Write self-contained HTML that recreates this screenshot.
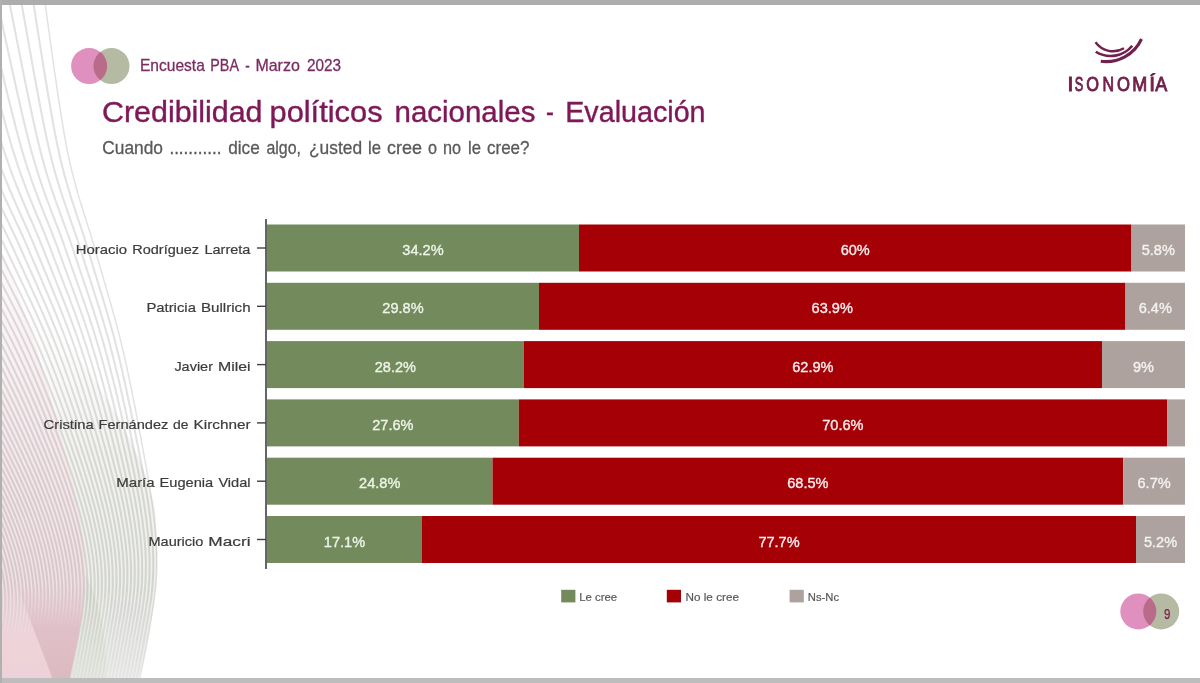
<!DOCTYPE html>
<html><head><meta charset="utf-8"><style>
html,body{margin:0;padding:0;background:#fff;}
body{width:1200px;height:683px;position:relative;overflow:hidden;font-family:"Liberation Sans",sans-serif;}
</style></head><body>
<svg width="1200" height="683" viewBox="0 0 1200 683" style="position:absolute;left:0;top:0;will-change:transform">
<clipPath id="pc"><path d="M2,250  C7.3,265.0 24.0,308.3 34.0,340.0 C44.0,371.7 54.3,410.0 62.0,440.0 C69.7,470.0 76.2,496.7 80.0,520.0 C83.8,543.3 85.3,560.0 85.0,580.0 C84.7,600.0 80.7,622.8 78.0,640.0 C75.3,657.2 70.5,675.8 69.0,683.0 L2,683 Z"/></clipPath><clipPath id="rc"><path d="M2,0 L45,0 L44.0,-10.0 L44.7,-5.5 L45.4,-0.2 L46.3,5.9 L47.2,12.7 L48.2,20.2 L49.3,28.1 L50.5,36.6 L51.7,45.4 L52.9,54.5 L54.2,63.8 L55.6,73.2 L57.0,82.6 L58.3,92.1 L59.8,101.4 L61.2,110.5 L62.6,119.3 L64.0,127.7 L65.3,135.7 L66.7,143.2 L68.0,150.0 L69.3,156.4 L70.6,162.5 L72.0,168.3 L73.4,174.0 L74.8,179.4 L76.2,184.6 L77.6,189.7 L79.0,194.7 L80.4,199.5 L81.9,204.2 L83.3,208.8 L84.8,213.4 L86.2,217.9 L87.6,222.4 L89.0,226.9 L90.5,231.4 L91.9,236.0 L93.3,240.6 L94.6,245.2 L96.0,250.0 L97.4,254.8 L98.7,259.6 L100.1,264.3 L101.4,269.0 L102.8,273.6 L104.1,278.3 L105.5,282.9 L106.8,287.5 L108.2,292.1 L109.5,296.7 L110.8,301.3 L112.1,305.8 L113.4,310.4 L114.7,315.0 L116.0,319.6 L117.2,324.3 L118.4,328.9 L119.7,333.6 L120.8,338.3 L122.0,343.0 L123.1,347.8 L124.3,352.6 L125.4,357.5 L126.5,362.4 L127.6,367.4 L128.7,372.3 L129.7,377.3 L130.8,382.3 L131.8,387.3 L132.8,392.3 L133.8,397.3 L134.8,402.2 L135.8,407.1 L136.7,412.0 L137.6,416.9 L138.5,421.6 L139.4,426.3 L140.3,431.0 L141.2,435.5 L142.0,440.0 L142.8,444.4 L143.6,448.8 L144.4,453.1 L145.2,457.4 L146.0,461.7 L146.8,465.9 L147.5,470.1 L148.2,474.2 L148.9,478.3 L149.6,482.3 L150.3,486.3 L150.9,490.3 L151.5,494.2 L152.1,498.0 L152.7,501.8 L153.2,505.6 L153.7,509.2 L154.2,512.9 L154.6,516.5 L155.0,520.0 L155.4,523.5 L155.7,526.8 L156.0,530.1 L156.3,533.3 L156.5,536.4 L156.8,539.5 L157.0,542.5 L157.1,545.4 L157.3,548.4 L157.4,551.2 L157.5,554.1 L157.5,557.0 L157.6,559.8 L157.6,562.6 L157.5,565.5 L157.5,568.3 L157.4,571.2 L157.3,574.1 L157.2,577.0 L157.0,580.0 L156.8,583.0 L156.6,586.0 L156.3,589.1 L155.9,592.1 L155.5,595.2 L155.1,598.2 L154.7,601.3 L154.2,604.3 L153.8,607.4 L153.2,610.4 L152.7,613.5 L152.2,616.5 L151.7,619.5 L151.1,622.5 L150.6,625.5 L150.0,628.4 L149.5,631.4 L149.0,634.3 L148.5,637.2 L148.0,640.0 L147.5,642.9 L147.0,645.8 L146.5,648.8 L145.9,651.9 L145.3,655.0 L144.8,658.1 L144.2,661.2 L143.6,664.2 L143.0,667.3 L142.4,670.2 L141.9,673.1 L141.3,676.0 L140.8,678.6 L140.3,681.2 L139.8,683.6 L139.4,685.9 L139.0,688.0 L138.6,689.9 L138.3,691.6 L138.0,693.0 L2,683 Z"/></clipPath><path d="M2,260 C60,330 150,440 156,520 C160,580 152,630 139,683 L2,683 Z" fill="url(#gg)"/><path d="M85,575 C100,600 108,640 106,683 L69,683 C75,650 85,610 85,575 Z" fill="#e6e9e1"/><path d="M110,600 C130,600 150,600 150,630 L139,683 L106,683 C108,650 110,620 110,600 Z" fill="#ededec"/><defs><linearGradient id="gg" gradientUnits="userSpaceOnUse" x1="0" y1="300" x2="0" y2="683"><stop offset="0" stop-color="#f6f7f4" stop-opacity="0"/><stop offset="0.4" stop-color="#f2f3ef"/><stop offset="1" stop-color="#eceee8"/></linearGradient><linearGradient id="plg" gradientUnits="userSpaceOnUse" x1="0" y1="200" x2="0" y2="683"><stop offset="0" stop-color="#f0e4e7"/><stop offset="0.5" stop-color="#e9d5da"/><stop offset="1" stop-color="#e2c7ce"/></linearGradient></defs><defs><linearGradient id="pg" x1="0" y1="0" x2="0" y2="1"><stop offset="0" stop-color="#fdfafb"/><stop offset="0.45" stop-color="#f5e9ec"/><stop offset="1" stop-color="#f0dde2"/></linearGradient><linearGradient id="wg" x1="0" y1="0" x2="0" y2="1"><stop offset="0" stop-color="#e3c6cd" stop-opacity="0"/><stop offset="0.45" stop-color="#e0c0c8" stop-opacity="1"/><stop offset="1" stop-color="#dcb9c1"/></linearGradient><linearGradient id="lg" x1="0" y1="0" x2="0" y2="1"><stop offset="0" stop-color="#efd7dd" stop-opacity="0"/><stop offset="0.6" stop-color="#eed3d9" stop-opacity="1"/><stop offset="1" stop-color="#edd1d8"/></linearGradient></defs><path d="M2,250  C7.3,265.0 24.0,308.3 34.0,340.0 C44.0,371.7 54.3,410.0 62.0,440.0 C69.7,470.0 76.2,496.7 80.0,520.0 C83.8,543.3 85.3,560.0 85.0,580.0 C84.7,600.0 80.7,622.8 78.0,640.0 C75.3,657.2 70.5,675.8 69.0,683.0 L2,683 Z" fill="url(#pg)"/><defs><linearGradient id="fm" gradientUnits="userSpaceOnUse" x1="0" y1="590" x2="0" y2="683"><stop offset="0" stop-color="#fff"/><stop offset="1" stop-color="#333"/></linearGradient><mask id="lm" maskUnits="userSpaceOnUse" x="0" y="0" width="300" height="683"><rect x="0" y="0" width="300" height="683" fill="url(#fm)"/></mask></defs><g mask="url(#lm)"><g clip-path="url(#rc)" fill="none" stroke="#000" stroke-opacity="0.115" stroke-width="2.1"><path d="M43.5,-10.0 C43.7,-8.7 44.3,-4.7 44.7,-2.0 C45.0,0.7 45.4,3.3 45.8,6.0 C46.1,8.7 46.5,11.3 46.9,14.0 C47.2,16.7 47.6,19.3 48.0,22.0 C48.3,24.7 48.7,27.3 49.1,30.0 C49.4,32.7 49.8,35.3 50.2,38.0 C50.5,40.7 50.9,43.3 51.3,46.0 C51.6,48.7 52.0,51.3 52.4,54.0 C52.8,56.7 53.1,59.3 53.5,62.0 C53.9,64.7 54.3,67.3 54.6,70.0 C55.0,72.7 55.4,75.3 55.8,78.0 C56.2,80.7 56.6,83.3 57.0,86.0 C57.3,88.7 57.7,91.3 58.1,94.0 C58.5,96.7 58.9,99.3 59.3,102.0 C59.8,104.7 60.2,107.3 60.6,110.0 C61.0,112.7 61.4,115.3 61.9,118.0 C62.3,120.7 62.7,123.3 63.2,126.0 C63.6,128.7 64.1,131.3 64.5,134.0 C65.0,136.7 65.5,139.3 66.0,142.0 C66.5,144.7 67.0,147.3 67.5,150.0 C68.0,152.7 68.6,155.3 69.2,158.0 C69.7,160.7 70.3,163.3 71.0,166.0 C71.6,168.7 72.2,171.3 72.9,174.0 C73.6,176.7 74.3,179.3 75.0,182.0 C75.7,184.7 76.4,187.3 77.2,190.0 C77.9,192.7 78.7,195.3 79.5,198.0 C80.3,200.7 81.1,203.3 81.9,206.0 C82.8,208.7 83.6,211.3 84.4,214.0 C85.3,216.7 86.1,219.3 87.0,222.0 C87.8,224.7 88.7,227.3 89.5,230.0 C90.4,232.7 91.2,235.3 92.0,238.0 C92.8,240.7 93.6,243.3 94.4,246.0 C95.1,248.7 95.9,251.3 96.6,254.0 C97.4,256.7 98.1,259.3 98.9,262.0 C99.7,264.7 100.4,267.3 101.2,270.0 C102.0,272.7 102.8,275.3 103.6,278.0 C104.3,280.7 105.1,283.3 105.9,286.0 C106.7,288.7 107.4,291.3 108.2,294.0 C109.0,296.7 109.8,299.3 110.5,302.0 C111.3,304.7 112.1,307.3 112.8,310.0 C113.5,312.7 114.3,315.3 115.0,318.0 C115.7,320.7 116.5,323.3 117.2,326.0 C117.9,328.7 118.6,331.3 119.3,334.0 C119.9,336.7 120.6,339.3 121.3,342.0 C121.9,344.7 122.5,347.3 123.2,350.0 C123.8,352.7 124.4,355.3 125.0,358.0 C125.6,360.7 126.2,363.3 126.8,366.0 C127.4,368.7 127.9,371.3 128.5,374.0 C129.1,376.7 129.6,379.3 130.2,382.0 C130.8,384.7 131.3,387.3 131.8,390.0 C132.4,392.7 132.9,395.3 133.5,398.0 C134.0,400.7 134.5,403.3 135.0,406.0 C135.6,408.7 136.1,411.3 136.6,414.0 C137.1,416.7 137.6,419.3 138.1,422.0 C138.6,424.7 139.1,427.3 139.6,430.0 C140.1,432.7 140.6,435.3 141.1,438.0 C141.6,440.7 142.1,443.3 142.6,446.0 C143.1,448.7 143.6,451.3 144.1,454.0 C144.6,456.7 145.1,459.3 145.6,462.0 C146.0,464.7 146.5,467.3 147.0,470.0 C147.5,472.7 147.9,475.3 148.4,478.0 C148.8,480.7 149.3,483.3 149.7,486.0 C150.2,488.7 150.6,491.3 151.0,494.0 C151.4,496.7 151.8,499.3 152.2,502.0 C152.6,504.7 153.0,507.3 153.3,510.0 C153.7,512.7 154.0,515.3 154.3,518.0 C154.6,520.7 154.9,523.3 155.1,526.0 C155.4,528.7 155.6,531.3 155.8,534.0 C156.1,536.7 156.3,539.3 156.4,542.0 C156.6,544.7 156.7,547.3 156.8,550.0 C156.9,552.7 157.0,555.3 157.0,558.0 C157.1,560.7 157.1,563.3 157.0,566.0 C157.0,568.7 156.9,571.3 156.8,574.0 C156.7,576.7 156.6,579.3 156.4,582.0 C156.2,584.7 155.9,587.3 155.7,590.0 C155.4,592.7 155.0,595.3 154.7,598.0 C154.3,600.7 153.9,603.3 153.5,606.0 C153.1,608.7 152.6,611.3 152.1,614.0 C151.7,616.7 151.2,619.3 150.7,622.0 C150.2,624.7 149.7,627.3 149.3,630.0 C148.8,632.7 148.3,635.3 147.8,638.0 C147.4,640.7 146.9,643.3 146.5,646.0 C146.0,648.7 145.5,651.3 145.0,654.0 C144.5,656.7 144.0,659.3 143.5,662.0 C143.0,664.7 142.5,667.3 142.0,670.0 C141.5,672.7 140.9,675.3 140.4,678.0 C139.9,680.7 139.1,684.7 138.9,686.0"/><path d="M31.3,-10.0 C31.5,-8.7 32.2,-4.7 32.6,-2.0 C33.0,0.7 33.5,3.3 33.9,6.0 C34.3,8.7 34.7,11.3 35.2,14.0 C35.6,16.7 36.0,19.3 36.4,22.0 C36.8,24.7 37.3,27.3 37.7,30.0 C38.1,32.7 38.5,35.3 38.9,38.0 C39.4,40.7 39.8,43.3 40.2,46.0 C40.6,48.7 41.0,51.3 41.5,54.0 C41.9,56.7 42.3,59.3 42.7,62.0 C43.2,64.7 43.6,67.3 44.0,70.0 C44.5,72.7 44.9,75.3 45.3,78.0 C45.8,80.7 46.2,83.3 46.7,86.0 C47.1,88.7 47.5,91.3 48.0,94.0 C48.4,96.7 48.9,99.3 49.4,102.0 C49.8,104.7 50.3,107.3 50.7,110.0 C51.2,112.7 51.7,115.3 52.2,118.0 C52.6,120.7 53.1,123.3 53.6,126.0 C54.1,128.7 54.6,131.3 55.1,134.0 C55.7,136.7 56.2,139.3 56.7,142.0 C57.3,144.7 57.8,147.3 58.4,150.0 C59.0,152.7 59.6,155.3 60.2,158.0 C60.8,160.7 61.5,163.3 62.1,166.0 C62.8,168.7 63.5,171.3 64.2,174.0 C64.9,176.7 65.7,179.3 66.4,182.0 C67.2,184.7 68.0,187.3 68.8,190.0 C69.6,192.7 70.4,195.3 71.2,198.0 C72.1,200.7 72.9,203.3 73.8,206.0 C74.7,208.7 75.6,211.3 76.4,214.0 C77.3,216.7 78.2,219.3 79.1,222.0 C80.0,224.7 80.9,227.3 81.8,230.0 C82.7,232.7 83.5,235.3 84.4,238.0 C85.2,240.7 86.1,243.3 86.9,246.0 C87.7,248.7 88.5,251.3 89.3,254.0 C90.1,256.7 90.9,259.3 91.7,262.0 C92.5,264.7 93.3,267.3 94.1,270.0 C94.9,272.7 95.8,275.3 96.6,278.0 C97.4,280.7 98.2,283.3 99.0,286.0 C99.8,288.7 100.7,291.3 101.5,294.0 C102.3,296.7 103.1,299.3 103.9,302.0 C104.7,304.7 105.5,307.3 106.3,310.0 C107.1,312.7 107.9,315.3 108.6,318.0 C109.4,320.7 110.2,323.3 110.9,326.0 C111.6,328.7 112.4,331.3 113.1,334.0 C113.8,336.7 114.5,339.3 115.2,342.0 C115.9,344.7 116.6,347.3 117.2,350.0 C117.9,352.7 118.5,355.3 119.2,358.0 C119.8,360.7 120.4,363.3 121.1,366.0 C121.7,368.7 122.3,371.3 122.9,374.0 C123.5,376.7 124.1,379.3 124.7,382.0 C125.3,384.7 125.8,387.3 126.4,390.0 C127.0,392.7 127.6,395.3 128.1,398.0 C128.7,400.7 129.3,403.3 129.8,406.0 C130.4,408.7 130.9,411.3 131.5,414.0 C132.0,416.7 132.5,419.3 133.1,422.0 C133.6,424.7 134.2,427.3 134.7,430.0 C135.2,432.7 135.7,435.3 136.3,438.0 C136.8,440.7 137.3,443.3 137.9,446.0 C138.4,448.7 138.9,451.3 139.4,454.0 C139.9,456.7 140.5,459.3 141.0,462.0 C141.5,464.7 142.0,467.3 142.5,470.0 C143.0,472.7 143.5,475.3 144.0,478.0 C144.4,480.7 144.9,483.3 145.4,486.0 C145.8,488.7 146.3,491.3 146.7,494.0 C147.2,496.7 147.6,499.3 148.0,502.0 C148.4,504.7 148.8,507.3 149.2,510.0 C149.5,512.7 149.9,515.3 150.2,518.0 C150.5,520.7 150.8,523.3 151.1,526.0 C151.4,528.7 151.7,531.3 151.9,534.0 C152.1,536.7 152.4,539.3 152.5,542.0 C152.7,544.7 152.9,547.3 153.0,550.0 C153.1,552.7 153.2,555.3 153.3,558.0 C153.3,560.7 153.3,563.3 153.3,566.0 C153.3,568.7 153.2,571.3 153.1,574.0 C153.0,576.7 152.9,579.3 152.7,582.0 C152.6,584.7 152.3,587.3 152.1,590.0 C151.8,592.7 151.5,595.3 151.1,598.0 C150.8,600.7 150.4,603.3 149.9,606.0 C149.5,608.7 149.1,611.3 148.6,614.0 C148.2,616.7 147.7,619.3 147.2,622.0 C146.7,624.7 146.2,627.3 145.8,630.0 C145.3,632.7 144.8,635.3 144.3,638.0 C143.9,640.7 143.4,643.3 143.0,646.0 C142.5,648.7 142.0,651.3 141.5,654.0 C141.0,656.7 140.5,659.3 140.0,662.0 C139.5,664.7 139.0,667.3 138.5,670.0 C138.0,672.7 137.4,675.3 136.9,678.0 C136.4,680.7 135.6,684.7 135.4,686.0"/><path d="M19.1,-10.0 C19.3,-8.7 20.1,-4.7 20.6,-2.0 C21.1,0.7 21.5,3.3 22.0,6.0 C22.5,8.7 23.0,11.3 23.4,14.0 C23.9,16.7 24.4,19.3 24.9,22.0 C25.3,24.7 25.8,27.3 26.3,30.0 C26.8,32.7 27.2,35.3 27.7,38.0 C28.2,40.7 28.7,43.3 29.1,46.0 C29.6,48.7 30.1,51.3 30.6,54.0 C31.0,56.7 31.5,59.3 32.0,62.0 C32.5,64.7 33.0,67.3 33.4,70.0 C33.9,72.7 34.4,75.3 34.9,78.0 C35.4,80.7 35.9,83.3 36.4,86.0 C36.9,88.7 37.4,91.3 37.9,94.0 C38.4,96.7 38.9,99.3 39.4,102.0 C39.9,104.7 40.4,107.3 40.9,110.0 C41.4,112.7 41.9,115.3 42.5,118.0 C43.0,120.7 43.5,123.3 44.1,126.0 C44.6,128.7 45.2,131.3 45.7,134.0 C46.3,136.7 46.9,139.3 47.5,142.0 C48.1,144.7 48.7,147.3 49.3,150.0 C49.9,152.7 50.6,155.3 51.2,158.0 C51.9,160.7 52.6,163.3 53.3,166.0 C54.0,168.7 54.8,171.3 55.5,174.0 C56.3,176.7 57.1,179.3 57.9,182.0 C58.7,184.7 59.5,187.3 60.3,190.0 C61.2,192.7 62.1,195.3 63.0,198.0 C63.8,200.7 64.7,203.3 65.7,206.0 C66.6,208.7 67.5,211.3 68.4,214.0 C69.4,216.7 70.3,219.3 71.2,222.0 C72.2,224.7 73.1,227.3 74.0,230.0 C75.0,232.7 75.9,235.3 76.8,238.0 C77.7,240.7 78.5,243.3 79.4,246.0 C80.3,248.7 81.1,251.3 81.9,254.0 C82.8,256.7 83.6,259.3 84.4,262.0 C85.3,264.7 86.2,267.3 87.0,270.0 C87.9,272.7 88.7,275.3 89.6,278.0 C90.4,280.7 91.3,283.3 92.2,286.0 C93.0,288.7 93.9,291.3 94.7,294.0 C95.6,296.7 96.4,299.3 97.3,302.0 C98.1,304.7 99.0,307.3 99.8,310.0 C100.6,312.7 101.4,315.3 102.2,318.0 C103.0,320.7 103.8,323.3 104.6,326.0 C105.4,328.7 106.2,331.3 106.9,334.0 C107.7,336.7 108.4,339.3 109.2,342.0 C109.9,344.7 110.6,347.3 111.3,350.0 C112.0,352.7 112.7,355.3 113.3,358.0 C114.0,360.7 114.7,363.3 115.3,366.0 C116.0,368.7 116.6,371.3 117.3,374.0 C117.9,376.7 118.5,379.3 119.2,382.0 C119.8,384.7 120.4,387.3 121.0,390.0 C121.6,392.7 122.2,395.3 122.8,398.0 C123.4,400.7 124.0,403.3 124.6,406.0 C125.2,408.7 125.8,411.3 126.3,414.0 C126.9,416.7 127.5,419.3 128.0,422.0 C128.6,424.7 129.2,427.3 129.7,430.0 C130.3,432.7 130.9,435.3 131.4,438.0 C132.0,440.7 132.5,443.3 133.1,446.0 C133.6,448.7 134.2,451.3 134.7,454.0 C135.3,456.7 135.8,459.3 136.4,462.0 C136.9,464.7 137.4,467.3 138.0,470.0 C138.5,472.7 139.0,475.3 139.5,478.0 C140.0,480.7 140.5,483.3 141.0,486.0 C141.5,488.7 142.0,491.3 142.5,494.0 C142.9,496.7 143.4,499.3 143.8,502.0 C144.2,504.7 144.6,507.3 145.0,510.0 C145.4,512.7 145.8,515.3 146.1,518.0 C146.5,520.7 146.8,523.3 147.1,526.0 C147.4,528.7 147.7,531.3 148.0,534.0 C148.2,536.7 148.5,539.3 148.7,542.0 C148.9,544.7 149.0,547.3 149.2,550.0 C149.3,552.7 149.4,555.3 149.5,558.0 C149.6,560.7 149.6,563.3 149.6,566.0 C149.6,568.7 149.5,571.3 149.5,574.0 C149.4,576.7 149.3,579.3 149.1,582.0 C148.9,584.7 148.7,587.3 148.5,590.0 C148.2,592.7 147.9,595.3 147.6,598.0 C147.2,600.7 146.8,603.3 146.4,606.0 C146.0,608.7 145.6,611.3 145.1,614.0 C144.7,616.7 144.2,619.3 143.7,622.0 C143.2,624.7 142.7,627.3 142.3,630.0 C141.8,632.7 141.3,635.3 140.8,638.0 C140.4,640.7 139.9,643.3 139.5,646.0 C139.0,648.7 138.5,651.3 138.0,654.0 C137.5,656.7 137.0,659.3 136.5,662.0 C136.0,664.7 135.5,667.3 135.0,670.0 C134.5,672.7 133.9,675.3 133.4,678.0 C132.9,680.7 132.1,684.7 131.9,686.0"/><path d="M6.9,-10.0 C7.2,-8.7 8.0,-4.7 8.5,-2.0 C9.1,0.7 9.6,3.3 10.1,6.0 C10.7,8.7 11.2,11.3 11.7,14.0 C12.3,16.7 12.8,19.3 13.3,22.0 C13.8,24.7 14.4,27.3 14.9,30.0 C15.4,32.7 15.9,35.3 16.5,38.0 C17.0,40.7 17.5,43.3 18.1,46.0 C18.6,48.7 19.1,51.3 19.6,54.0 C20.2,56.7 20.7,59.3 21.2,62.0 C21.8,64.7 22.3,67.3 22.8,70.0 C23.4,72.7 23.9,75.3 24.4,78.0 C25.0,80.7 25.5,83.3 26.1,86.0 C26.6,88.7 27.2,91.3 27.7,94.0 C28.3,96.7 28.8,99.3 29.4,102.0 C29.9,104.7 30.5,107.3 31.1,110.0 C31.6,112.7 32.2,115.3 32.8,118.0 C33.4,120.7 33.9,123.3 34.5,126.0 C35.1,128.7 35.7,131.3 36.3,134.0 C37.0,136.7 37.6,139.3 38.2,142.0 C38.8,144.7 39.5,147.3 40.2,150.0 C40.8,152.7 41.5,155.3 42.3,158.0 C43.0,160.7 43.7,163.3 44.5,166.0 C45.2,168.7 46.0,171.3 46.8,174.0 C47.6,176.7 48.5,179.3 49.3,182.0 C50.2,184.7 51.0,187.3 51.9,190.0 C52.8,192.7 53.8,195.3 54.7,198.0 C55.6,200.7 56.6,203.3 57.5,206.0 C58.5,208.7 59.5,211.3 60.4,214.0 C61.4,216.7 62.4,219.3 63.4,222.0 C64.4,224.7 65.3,227.3 66.3,230.0 C67.3,232.7 68.2,235.3 69.2,238.0 C70.1,240.7 71.0,243.3 71.9,246.0 C72.8,248.7 73.7,251.3 74.6,254.0 C75.4,256.7 76.3,259.3 77.2,262.0 C78.1,264.7 79.0,267.3 79.9,270.0 C80.8,272.7 81.7,275.3 82.6,278.0 C83.5,280.7 84.4,283.3 85.3,286.0 C86.2,288.7 87.1,291.3 88.0,294.0 C88.9,296.7 89.8,299.3 90.7,302.0 C91.5,304.7 92.4,307.3 93.3,310.0 C94.2,312.7 95.0,315.3 95.9,318.0 C96.7,320.7 97.5,323.3 98.4,326.0 C99.2,328.7 100.0,331.3 100.8,334.0 C101.6,336.7 102.3,339.3 103.1,342.0 C103.9,344.7 104.6,347.3 105.3,350.0 C106.1,352.7 106.8,355.3 107.5,358.0 C108.2,360.7 108.9,363.3 109.6,366.0 C110.3,368.7 111.0,371.3 111.6,374.0 C112.3,376.7 113.0,379.3 113.6,382.0 C114.3,384.7 114.9,387.3 115.6,390.0 C116.2,392.7 116.9,395.3 117.5,398.0 C118.1,400.7 118.7,403.3 119.4,406.0 C120.0,408.7 120.6,411.3 121.2,414.0 C121.8,416.7 122.4,419.3 123.0,422.0 C123.6,424.7 124.2,427.3 124.8,430.0 C125.4,432.7 126.0,435.3 126.6,438.0 C127.2,440.7 127.7,443.3 128.3,446.0 C128.9,448.7 129.5,451.3 130.1,454.0 C130.6,456.7 131.2,459.3 131.8,462.0 C132.3,464.7 132.9,467.3 133.5,470.0 C134.0,472.7 134.6,475.3 135.1,478.0 C135.6,480.7 136.2,483.3 136.7,486.0 C137.2,488.7 137.7,491.3 138.2,494.0 C138.7,496.7 139.1,499.3 139.6,502.0 C140.1,504.7 140.5,507.3 140.9,510.0 C141.3,512.7 141.7,515.3 142.1,518.0 C142.4,520.7 142.8,523.3 143.1,526.0 C143.4,528.7 143.7,531.3 144.0,534.0 C144.3,536.7 144.6,539.3 144.8,542.0 C145.0,544.7 145.2,547.3 145.4,550.0 C145.5,552.7 145.6,555.3 145.7,558.0 C145.8,560.7 145.9,563.3 145.9,566.0 C145.9,568.7 145.8,571.3 145.8,574.0 C145.7,576.7 145.6,579.3 145.5,582.0 C145.3,584.7 145.1,587.3 144.9,590.0 C144.6,592.7 144.3,595.3 144.0,598.0 C143.7,600.7 143.3,603.3 142.9,606.0 C142.5,608.7 142.1,611.3 141.6,614.0 C141.2,616.7 140.7,619.3 140.2,622.0 C139.7,624.7 139.2,627.3 138.8,630.0 C138.3,632.7 137.8,635.3 137.3,638.0 C136.9,640.7 136.4,643.3 136.0,646.0 C135.5,648.7 135.0,651.3 134.5,654.0 C134.0,656.7 133.5,659.3 133.0,662.0 C132.5,664.7 132.0,667.3 131.5,670.0 C131.0,672.7 130.4,675.3 129.9,678.0 C129.4,680.7 128.6,684.7 128.4,686.0"/><path d="M-5.3,-10.0 C-5.0,-8.7 -4.1,-4.7 -3.5,-2.0 C-2.9,0.7 -2.3,3.3 -1.7,6.0 C-1.1,8.7 -0.6,11.3 0.0,14.0 C0.6,16.7 1.2,19.3 1.8,22.0 C2.3,24.7 2.9,27.3 3.5,30.0 C4.1,32.7 4.7,35.3 5.2,38.0 C5.8,40.7 6.4,43.3 7.0,46.0 C7.6,48.7 8.1,51.3 8.7,54.0 C9.3,56.7 9.9,59.3 10.5,62.0 C11.1,64.7 11.6,67.3 12.2,70.0 C12.8,72.7 13.4,75.3 14.0,78.0 C14.6,80.7 15.2,83.3 15.8,86.0 C16.4,88.7 17.0,91.3 17.6,94.0 C18.2,96.7 18.8,99.3 19.4,102.0 C20.0,104.7 20.6,107.3 21.2,110.0 C21.8,112.7 22.5,115.3 23.1,118.0 C23.7,120.7 24.3,123.3 25.0,126.0 C25.6,128.7 26.3,131.3 26.9,134.0 C27.6,136.7 28.3,139.3 29.0,142.0 C29.6,144.7 30.3,147.3 31.1,150.0 C31.8,152.7 32.5,155.3 33.3,158.0 C34.1,160.7 34.9,163.3 35.7,166.0 C36.5,168.7 37.3,171.3 38.1,174.0 C39.0,176.7 39.9,179.3 40.8,182.0 C41.7,184.7 42.6,187.3 43.5,190.0 C44.5,192.7 45.4,195.3 46.4,198.0 C47.4,200.7 48.4,203.3 49.4,206.0 C50.4,208.7 51.4,211.3 52.4,214.0 C53.5,216.7 54.5,219.3 55.5,222.0 C56.5,224.7 57.6,227.3 58.6,230.0 C59.6,232.7 60.6,235.3 61.5,238.0 C62.5,240.7 63.5,243.3 64.4,246.0 C65.4,248.7 66.3,251.3 67.2,254.0 C68.1,256.7 69.1,259.3 70.0,262.0 C70.9,264.7 71.9,267.3 72.8,270.0 C73.7,272.7 74.7,275.3 75.6,278.0 C76.6,280.7 77.5,283.3 78.4,286.0 C79.4,288.7 80.3,291.3 81.3,294.0 C82.2,296.7 83.1,299.3 84.0,302.0 C85.0,304.7 85.9,307.3 86.8,310.0 C87.7,312.7 88.6,315.3 89.5,318.0 C90.3,320.7 91.2,323.3 92.1,326.0 C92.9,328.7 93.8,331.3 94.6,334.0 C95.4,336.7 96.2,339.3 97.0,342.0 C97.8,344.7 98.6,347.3 99.4,350.0 C100.2,352.7 100.9,355.3 101.7,358.0 C102.4,360.7 103.1,363.3 103.9,366.0 C104.6,368.7 105.3,371.3 106.0,374.0 C106.7,376.7 107.4,379.3 108.1,382.0 C108.8,384.7 109.5,387.3 110.2,390.0 C110.8,392.7 111.5,395.3 112.2,398.0 C112.8,400.7 113.5,403.3 114.1,406.0 C114.8,408.7 115.4,411.3 116.1,414.0 C116.7,416.7 117.3,419.3 118.0,422.0 C118.6,424.7 119.2,427.3 119.9,430.0 C120.5,432.7 121.1,435.3 121.7,438.0 C122.3,440.7 123.0,443.3 123.6,446.0 C124.2,448.7 124.8,451.3 125.4,454.0 C126.0,456.7 126.6,459.3 127.2,462.0 C127.8,464.7 128.4,467.3 128.9,470.0 C129.5,472.7 130.1,475.3 130.7,478.0 C131.2,480.7 131.8,483.3 132.3,486.0 C132.9,488.7 133.4,491.3 133.9,494.0 C134.4,496.7 134.9,499.3 135.4,502.0 C135.9,504.7 136.3,507.3 136.8,510.0 C137.2,512.7 137.6,515.3 138.0,518.0 C138.4,520.7 138.8,523.3 139.1,526.0 C139.5,528.7 139.8,531.3 140.1,534.0 C140.4,536.7 140.7,539.3 140.9,542.0 C141.1,544.7 141.4,547.3 141.5,550.0 C141.7,552.7 141.9,555.3 142.0,558.0 C142.1,560.7 142.1,563.3 142.1,566.0 C142.2,568.7 142.2,571.3 142.1,574.0 C142.1,576.7 142.0,579.3 141.9,582.0 C141.7,584.7 141.5,587.3 141.3,590.0 C141.1,592.7 140.8,595.3 140.4,598.0 C140.1,600.7 139.7,603.3 139.4,606.0 C139.0,608.7 138.5,611.3 138.1,614.0 C137.7,616.7 137.2,619.3 136.7,622.0 C136.2,624.7 135.7,627.3 135.3,630.0 C134.8,632.7 134.3,635.3 133.8,638.0 C133.4,640.7 132.9,643.3 132.5,646.0 C132.0,648.7 131.5,651.3 131.0,654.0 C130.5,656.7 130.0,659.3 129.5,662.0 C129.0,664.7 128.5,667.3 128.0,670.0 C127.5,672.7 126.9,675.3 126.4,678.0 C125.9,680.7 125.1,684.7 124.9,686.0"/><path d="M-17.5,-10.0 C-17.2,-8.7 -16.2,-4.7 -15.5,-2.0 C-14.9,0.7 -14.3,3.3 -13.6,6.0 C-13.0,8.7 -12.3,11.3 -11.7,14.0 C-11.1,16.7 -10.4,19.3 -9.8,22.0 C-9.2,24.7 -8.5,27.3 -7.9,30.0 C-7.3,32.7 -6.6,35.3 -6.0,38.0 C-5.4,40.7 -4.7,43.3 -4.1,46.0 C-3.5,48.7 -2.8,51.3 -2.2,54.0 C-1.6,56.7 -0.9,59.3 -0.3,62.0 C0.4,64.7 1.0,67.3 1.6,70.0 C2.3,72.7 2.9,75.3 3.6,78.0 C4.2,80.7 4.8,83.3 5.5,86.0 C6.1,88.7 6.8,91.3 7.4,94.0 C8.1,96.7 8.7,99.3 9.4,102.0 C10.0,104.7 10.7,107.3 11.4,110.0 C12.0,112.7 12.7,115.3 13.4,118.0 C14.1,120.7 14.8,123.3 15.4,126.0 C16.1,128.7 16.8,131.3 17.5,134.0 C18.2,136.7 19.0,139.3 19.7,142.0 C20.4,144.7 21.2,147.3 21.9,150.0 C22.7,152.7 23.5,155.3 24.3,158.0 C25.1,160.7 26.0,163.3 26.8,166.0 C27.7,168.7 28.6,171.3 29.5,174.0 C30.4,176.7 31.3,179.3 32.2,182.0 C33.2,184.7 34.1,187.3 35.1,190.0 C36.1,192.7 37.1,195.3 38.1,198.0 C39.2,200.7 40.2,203.3 41.2,206.0 C42.3,208.7 43.4,211.3 44.4,214.0 C45.5,216.7 46.6,219.3 47.6,222.0 C48.7,224.7 49.8,227.3 50.8,230.0 C51.9,232.7 52.9,235.3 53.9,238.0 C55.0,240.7 56.0,243.3 56.9,246.0 C57.9,248.7 58.9,251.3 59.8,254.0 C60.8,256.7 61.8,259.3 62.8,262.0 C63.7,264.7 64.7,267.3 65.7,270.0 C66.7,272.7 67.7,275.3 68.6,278.0 C69.6,280.7 70.6,283.3 71.6,286.0 C72.6,288.7 73.5,291.3 74.5,294.0 C75.5,296.7 76.5,299.3 77.4,302.0 C78.4,304.7 79.3,307.3 80.3,310.0 C81.2,312.7 82.2,315.3 83.1,318.0 C84.0,320.7 84.9,323.3 85.8,326.0 C86.7,328.7 87.6,331.3 88.4,334.0 C89.3,336.7 90.2,339.3 91.0,342.0 C91.8,344.7 92.6,347.3 93.4,350.0 C94.3,352.7 95.0,355.3 95.8,358.0 C96.6,360.7 97.4,363.3 98.1,366.0 C98.9,368.7 99.7,371.3 100.4,374.0 C101.1,376.7 101.9,379.3 102.6,382.0 C103.3,384.7 104.0,387.3 104.7,390.0 C105.4,392.7 106.2,395.3 106.8,398.0 C107.5,400.7 108.2,403.3 108.9,406.0 C109.6,408.7 110.3,411.3 110.9,414.0 C111.6,416.7 112.3,419.3 112.9,422.0 C113.6,424.7 114.3,427.3 114.9,430.0 C115.6,432.7 116.2,435.3 116.9,438.0 C117.5,440.7 118.2,443.3 118.8,446.0 C119.4,448.7 120.1,451.3 120.7,454.0 C121.3,456.7 122.0,459.3 122.6,462.0 C123.2,464.7 123.8,467.3 124.4,470.0 C125.0,472.7 125.6,475.3 126.2,478.0 C126.8,480.7 127.4,483.3 128.0,486.0 C128.5,488.7 129.1,491.3 129.6,494.0 C130.2,496.7 130.7,499.3 131.2,502.0 C131.7,504.7 132.2,507.3 132.6,510.0 C133.1,512.7 133.5,515.3 133.9,518.0 C134.4,520.7 134.7,523.3 135.1,526.0 C135.5,528.7 135.8,531.3 136.1,534.0 C136.5,536.7 136.8,539.3 137.0,542.0 C137.3,544.7 137.5,547.3 137.7,550.0 C137.9,552.7 138.1,555.3 138.2,558.0 C138.3,560.7 138.4,563.3 138.4,566.0 C138.5,568.7 138.5,571.3 138.4,574.0 C138.4,576.7 138.3,579.3 138.2,582.0 C138.1,584.7 137.9,587.3 137.7,590.0 C137.5,592.7 137.2,595.3 136.9,598.0 C136.6,600.7 136.2,603.3 135.8,606.0 C135.5,608.7 135.0,611.3 134.6,614.0 C134.2,616.7 133.7,619.3 133.2,622.0 C132.7,624.7 132.2,627.3 131.8,630.0 C131.3,632.7 130.8,635.3 130.3,638.0 C129.9,640.7 129.4,643.3 129.0,646.0 C128.5,648.7 128.0,651.3 127.5,654.0 C127.0,656.7 126.5,659.3 126.0,662.0 C125.5,664.7 125.0,667.3 124.5,670.0 C124.0,672.7 123.4,675.3 122.9,678.0 C122.4,680.7 121.6,684.7 121.4,686.0"/><path d="M-29.7,-10.0 C-29.4,-8.7 -28.3,-4.7 -27.6,-2.0 C-26.9,0.7 -26.2,3.3 -25.5,6.0 C-24.8,8.7 -24.1,11.3 -23.4,14.0 C-22.7,16.7 -22.0,19.3 -21.3,22.0 C-20.7,24.7 -20.0,27.3 -19.3,30.0 C-18.6,32.7 -17.9,35.3 -17.2,38.0 C-16.5,40.7 -15.8,43.3 -15.2,46.0 C-14.5,48.7 -13.8,51.3 -13.1,54.0 C-12.4,56.7 -11.7,59.3 -11.0,62.0 C-10.4,64.7 -9.7,67.3 -9.0,70.0 C-8.3,72.7 -7.6,75.3 -6.9,78.0 C-6.2,80.7 -5.5,83.3 -4.8,86.0 C-4.1,88.7 -3.4,91.3 -2.7,94.0 C-2.0,96.7 -1.3,99.3 -0.6,102.0 C0.1,104.7 0.8,107.3 1.5,110.0 C2.3,112.7 3.0,115.3 3.7,118.0 C4.4,120.7 5.2,123.3 5.9,126.0 C6.6,128.7 7.4,131.3 8.1,134.0 C8.9,136.7 9.7,139.3 10.4,142.0 C11.2,144.7 12.0,147.3 12.8,150.0 C13.7,152.7 14.5,155.3 15.4,158.0 C16.2,160.7 17.1,163.3 18.0,166.0 C18.9,168.7 19.8,171.3 20.8,174.0 C21.7,176.7 22.7,179.3 23.7,182.0 C24.7,184.7 25.7,187.3 26.7,190.0 C27.7,192.7 28.8,195.3 29.9,198.0 C30.9,200.7 32.0,203.3 33.1,206.0 C34.2,208.7 35.3,211.3 36.4,214.0 C37.5,216.7 38.7,219.3 39.8,222.0 C40.9,224.7 42.0,227.3 43.1,230.0 C44.2,232.7 45.3,235.3 46.3,238.0 C47.4,240.7 48.4,243.3 49.5,246.0 C50.5,248.7 51.5,251.3 52.5,254.0 C53.5,256.7 54.5,259.3 55.5,262.0 C56.5,264.7 57.6,267.3 58.6,270.0 C59.6,272.7 60.6,275.3 61.7,278.0 C62.7,280.7 63.7,283.3 64.7,286.0 C65.7,288.7 66.8,291.3 67.8,294.0 C68.8,296.7 69.8,299.3 70.8,302.0 C71.8,304.7 72.8,307.3 73.8,310.0 C74.8,312.7 75.7,315.3 76.7,318.0 C77.6,320.7 78.6,323.3 79.5,326.0 C80.5,328.7 81.4,331.3 82.3,334.0 C83.2,336.7 84.1,339.3 84.9,342.0 C85.8,344.7 86.7,347.3 87.5,350.0 C88.3,352.7 89.2,355.3 90.0,358.0 C90.8,360.7 91.6,363.3 92.4,366.0 C93.2,368.7 94.0,371.3 94.8,374.0 C95.5,376.7 96.3,379.3 97.1,382.0 C97.8,384.7 98.6,387.3 99.3,390.0 C100.1,392.7 100.8,395.3 101.5,398.0 C102.3,400.7 103.0,403.3 103.7,406.0 C104.4,408.7 105.1,411.3 105.8,414.0 C106.5,416.7 107.2,419.3 107.9,422.0 C108.6,424.7 109.3,427.3 110.0,430.0 C110.7,432.7 111.3,435.3 112.0,438.0 C112.7,440.7 113.4,443.3 114.0,446.0 C114.7,448.7 115.4,451.3 116.0,454.0 C116.7,456.7 117.4,459.3 118.0,462.0 C118.6,464.7 119.3,467.3 119.9,470.0 C120.6,472.7 121.2,475.3 121.8,478.0 C122.4,480.7 123.0,483.3 123.6,486.0 C124.2,488.7 124.8,491.3 125.3,494.0 C125.9,496.7 126.5,499.3 127.0,502.0 C127.5,504.7 128.0,507.3 128.5,510.0 C129.0,512.7 129.4,515.3 129.9,518.0 C130.3,520.7 130.7,523.3 131.1,526.0 C131.5,528.7 131.9,531.3 132.2,534.0 C132.5,536.7 132.9,539.3 133.1,542.0 C133.4,544.7 133.7,547.3 133.9,550.0 C134.1,552.7 134.3,555.3 134.4,558.0 C134.6,560.7 134.7,563.3 134.7,566.0 C134.8,568.7 134.8,571.3 134.8,574.0 C134.7,576.7 134.7,579.3 134.6,582.0 C134.5,584.7 134.3,587.3 134.1,590.0 C133.9,592.7 133.6,595.3 133.3,598.0 C133.0,600.7 132.7,603.3 132.3,606.0 C131.9,608.7 131.5,611.3 131.1,614.0 C130.7,616.7 130.2,619.3 129.7,622.0 C129.2,624.7 128.7,627.3 128.3,630.0 C127.8,632.7 127.3,635.3 126.8,638.0 C126.4,640.7 125.9,643.3 125.5,646.0 C125.0,648.7 124.5,651.3 124.0,654.0 C123.5,656.7 123.0,659.3 122.5,662.0 C122.0,664.7 121.5,667.3 121.0,670.0 C120.5,672.7 119.9,675.3 119.4,678.0 C118.9,680.7 118.1,684.7 117.9,686.0"/><path d="M-41.9,-10.0 C-41.6,-8.7 -40.4,-4.7 -39.6,-2.0 C-38.9,0.7 -38.1,3.3 -37.4,6.0 C-36.6,8.7 -35.9,11.3 -35.1,14.0 C-34.4,16.7 -33.6,19.3 -32.9,22.0 C-32.1,24.7 -31.4,27.3 -30.7,30.0 C-29.9,32.7 -29.2,35.3 -28.4,38.0 C-27.7,40.7 -27.0,43.3 -26.2,46.0 C-25.5,48.7 -24.8,51.3 -24.0,54.0 C-23.3,56.7 -22.5,59.3 -21.8,62.0 C-21.1,64.7 -20.3,67.3 -19.6,70.0 C-18.8,72.7 -18.1,75.3 -17.3,78.0 C-16.6,80.7 -15.9,83.3 -15.1,86.0 C-14.4,88.7 -13.6,91.3 -12.9,94.0 C-12.1,96.7 -11.3,99.3 -10.6,102.0 C-9.8,104.7 -9.1,107.3 -8.3,110.0 C-7.5,112.7 -6.8,115.3 -6.0,118.0 C-5.2,120.7 -4.4,123.3 -3.6,126.0 C-2.9,128.7 -2.1,131.3 -1.3,134.0 C-0.5,136.7 0.4,139.3 1.2,142.0 C2.0,144.7 2.9,147.3 3.7,150.0 C4.6,152.7 5.5,155.3 6.4,158.0 C7.3,160.7 8.2,163.3 9.2,166.0 C10.1,168.7 11.1,171.3 12.1,174.0 C13.1,176.7 14.1,179.3 15.1,182.0 C16.2,184.7 17.2,187.3 18.3,190.0 C19.4,192.7 20.5,195.3 21.6,198.0 C22.7,200.7 23.8,203.3 25.0,206.0 C26.1,208.7 27.3,211.3 28.4,214.0 C29.6,216.7 30.7,219.3 31.9,222.0 C33.0,224.7 34.2,227.3 35.3,230.0 C36.5,232.7 37.6,235.3 38.7,238.0 C39.8,240.7 40.9,243.3 42.0,246.0 C43.1,248.7 44.1,251.3 45.1,254.0 C46.2,256.7 47.2,259.3 48.3,262.0 C49.4,264.7 50.4,267.3 51.5,270.0 C52.5,272.7 53.6,275.3 54.7,278.0 C55.7,280.7 56.8,283.3 57.9,286.0 C58.9,288.7 60.0,291.3 61.0,294.0 C62.1,296.7 63.1,299.3 64.2,302.0 C65.2,304.7 66.2,307.3 67.3,310.0 C68.3,312.7 69.3,315.3 70.3,318.0 C71.3,320.7 72.3,323.3 73.2,326.0 C74.2,328.7 75.2,331.3 76.1,334.0 C77.1,336.7 78.0,339.3 78.9,342.0 C79.8,344.7 80.7,347.3 81.6,350.0 C82.4,352.7 83.3,355.3 84.2,358.0 C85.0,360.7 85.9,363.3 86.7,366.0 C87.5,368.7 88.3,371.3 89.1,374.0 C90.0,376.7 90.8,379.3 91.5,382.0 C92.3,384.7 93.1,387.3 93.9,390.0 C94.7,392.7 95.4,395.3 96.2,398.0 C97.0,400.7 97.7,403.3 98.5,406.0 C99.2,408.7 100.0,411.3 100.7,414.0 C101.4,416.7 102.2,419.3 102.9,422.0 C103.6,424.7 104.3,427.3 105.0,430.0 C105.7,432.7 106.5,435.3 107.2,438.0 C107.9,440.7 108.6,443.3 109.3,446.0 C110.0,448.7 110.7,451.3 111.4,454.0 C112.0,456.7 112.7,459.3 113.4,462.0 C114.1,464.7 114.8,467.3 115.4,470.0 C116.1,472.7 116.7,475.3 117.4,478.0 C118.0,480.7 118.6,483.3 119.3,486.0 C119.9,488.7 120.5,491.3 121.1,494.0 C121.7,496.7 122.2,499.3 122.8,502.0 C123.3,504.7 123.9,507.3 124.4,510.0 C124.9,512.7 125.4,515.3 125.8,518.0 C126.3,520.7 126.7,523.3 127.1,526.0 C127.5,528.7 127.9,531.3 128.3,534.0 C128.6,536.7 129.0,539.3 129.3,542.0 C129.6,544.7 129.8,547.3 130.1,550.0 C130.3,552.7 130.5,555.3 130.6,558.0 C130.8,560.7 130.9,563.3 131.0,566.0 C131.1,568.7 131.1,571.3 131.1,574.0 C131.1,576.7 131.1,579.3 131.0,582.0 C130.9,584.7 130.7,587.3 130.5,590.0 C130.3,592.7 130.1,595.3 129.8,598.0 C129.5,600.7 129.1,603.3 128.8,606.0 C128.4,608.7 128.0,611.3 127.6,614.0 C127.2,616.7 126.7,619.3 126.2,622.0 C125.7,624.7 125.2,627.3 124.8,630.0 C124.3,632.7 123.8,635.3 123.3,638.0 C122.9,640.7 122.4,643.3 122.0,646.0 C121.5,648.7 121.0,651.3 120.5,654.0 C120.0,656.7 119.5,659.3 119.0,662.0 C118.5,664.7 118.0,667.3 117.5,670.0 C117.0,672.7 116.4,675.3 115.9,678.0 C115.4,680.7 114.6,684.7 114.4,686.0"/><path d="M-54.2,-10.0 C-53.7,-8.7 -52.5,-4.7 -51.7,-2.0 C-50.9,0.7 -50.0,3.3 -49.2,6.0 C-48.4,8.7 -47.6,11.3 -46.8,14.0 C-46.0,16.7 -45.2,19.3 -44.4,22.0 C-43.6,24.7 -42.9,27.3 -42.1,30.0 C-41.3,32.7 -40.5,35.3 -39.7,38.0 C-38.9,40.7 -38.1,43.3 -37.3,46.0 C-36.5,48.7 -35.7,51.3 -34.9,54.0 C-34.1,56.7 -33.3,59.3 -32.6,62.0 C-31.8,64.7 -31.0,67.3 -30.2,70.0 C-29.4,72.7 -28.6,75.3 -27.8,78.0 C-27.0,80.7 -26.2,83.3 -25.4,86.0 C-24.6,88.7 -23.8,91.3 -23.0,94.0 C-22.2,96.7 -21.4,99.3 -20.6,102.0 C-19.8,104.7 -19.0,107.3 -18.1,110.0 C-17.3,112.7 -16.5,115.3 -15.7,118.0 C-14.9,120.7 -14.0,123.3 -13.2,126.0 C-12.4,128.7 -11.5,131.3 -10.7,134.0 C-9.8,136.7 -8.9,139.3 -8.1,142.0 C-7.2,144.7 -6.3,147.3 -5.4,150.0 C-4.5,152.7 -3.5,155.3 -2.6,158.0 C-1.6,160.7 -0.6,163.3 0.4,166.0 C1.4,168.7 2.4,171.3 3.4,174.0 C4.4,176.7 5.5,179.3 6.6,182.0 C7.7,184.7 8.8,187.3 9.9,190.0 C11.0,192.7 12.2,195.3 13.3,198.0 C14.5,200.7 15.7,203.3 16.8,206.0 C18.0,208.7 19.2,211.3 20.4,214.0 C21.6,216.7 22.8,219.3 24.0,222.0 C25.2,224.7 26.4,227.3 27.6,230.0 C28.8,232.7 30.0,235.3 31.1,238.0 C32.3,240.7 33.4,243.3 34.5,246.0 C35.6,248.7 36.7,251.3 37.8,254.0 C38.9,256.7 40.0,259.3 41.1,262.0 C42.2,264.7 43.3,267.3 44.4,270.0 C45.5,272.7 46.6,275.3 47.7,278.0 C48.8,280.7 49.9,283.3 51.0,286.0 C52.1,288.7 53.2,291.3 54.3,294.0 C55.4,296.7 56.5,299.3 57.6,302.0 C58.6,304.7 59.7,307.3 60.8,310.0 C61.8,312.7 62.9,315.3 63.9,318.0 C64.9,320.7 66.0,323.3 67.0,326.0 C68.0,328.7 69.0,331.3 70.0,334.0 C70.9,336.7 71.9,339.3 72.8,342.0 C73.8,344.7 74.7,347.3 75.6,350.0 C76.5,352.7 77.4,355.3 78.3,358.0 C79.2,360.7 80.1,363.3 81.0,366.0 C81.8,368.7 82.7,371.3 83.5,374.0 C84.4,376.7 85.2,379.3 86.0,382.0 C86.9,384.7 87.7,387.3 88.5,390.0 C89.3,392.7 90.1,395.3 90.9,398.0 C91.7,400.7 92.5,403.3 93.2,406.0 C94.0,408.7 94.8,411.3 95.6,414.0 C96.3,416.7 97.1,419.3 97.8,422.0 C98.6,424.7 99.3,427.3 100.1,430.0 C100.8,432.7 101.6,435.3 102.3,438.0 C103.0,440.7 103.8,443.3 104.5,446.0 C105.2,448.7 106.0,451.3 106.7,454.0 C107.4,456.7 108.1,459.3 108.8,462.0 C109.5,464.7 110.2,467.3 110.9,470.0 C111.6,472.7 112.3,475.3 112.9,478.0 C113.6,480.7 114.3,483.3 114.9,486.0 C115.5,488.7 116.2,491.3 116.8,494.0 C117.4,496.7 118.0,499.3 118.6,502.0 C119.1,504.7 119.7,507.3 120.2,510.0 C120.8,512.7 121.3,515.3 121.7,518.0 C122.2,520.7 122.7,523.3 123.1,526.0 C123.5,528.7 123.9,531.3 124.3,534.0 C124.7,536.7 125.1,539.3 125.4,542.0 C125.7,544.7 126.0,547.3 126.2,550.0 C126.5,552.7 126.7,555.3 126.9,558.0 C127.1,560.7 127.2,563.3 127.3,566.0 C127.4,568.7 127.4,571.3 127.4,574.0 C127.4,576.7 127.4,579.3 127.3,582.0 C127.3,584.7 127.1,587.3 126.9,590.0 C126.7,592.7 126.5,595.3 126.2,598.0 C125.9,600.7 125.6,603.3 125.2,606.0 C124.9,608.7 124.5,611.3 124.1,614.0 C123.7,616.7 123.2,619.3 122.7,622.0 C122.2,624.7 121.7,627.3 121.3,630.0 C120.8,632.7 120.3,635.3 119.8,638.0 C119.4,640.7 118.9,643.3 118.5,646.0 C118.0,648.7 117.5,651.3 117.0,654.0 C116.5,656.7 116.0,659.3 115.5,662.0 C115.0,664.7 114.5,667.3 114.0,670.0 C113.5,672.7 112.9,675.3 112.4,678.0 C111.9,680.7 111.1,684.7 110.9,686.0"/><path d="M-66.4,-10.0 C-65.9,-8.7 -64.6,-4.7 -63.7,-2.0 C-62.8,0.7 -62.0,3.3 -61.1,6.0 C-60.3,8.7 -59.4,11.3 -58.5,14.0 C-57.7,16.7 -56.8,19.3 -56.0,22.0 C-55.1,24.7 -54.3,27.3 -53.4,30.0 C-52.6,32.7 -51.8,35.3 -50.9,38.0 C-50.1,40.7 -49.2,43.3 -48.4,46.0 C-47.5,48.7 -46.7,51.3 -45.8,54.0 C-45.0,56.7 -44.2,59.3 -43.3,62.0 C-42.5,64.7 -41.6,67.3 -40.8,70.0 C-39.9,72.7 -39.1,75.3 -38.2,78.0 C-37.4,80.7 -36.5,83.3 -35.7,86.0 C-34.8,88.7 -34.0,91.3 -33.1,94.0 C-32.3,96.7 -31.4,99.3 -30.6,102.0 C-29.7,104.7 -28.9,107.3 -28.0,110.0 C-27.1,112.7 -26.3,115.3 -25.4,118.0 C-24.5,120.7 -23.6,123.3 -22.7,126.0 C-21.9,128.7 -21.0,131.3 -20.1,134.0 C-19.2,136.7 -18.2,139.3 -17.3,142.0 C-16.4,144.7 -15.5,147.3 -14.5,150.0 C-13.5,152.7 -12.5,155.3 -11.5,158.0 C-10.5,160.7 -9.5,163.3 -8.5,166.0 C-7.4,168.7 -6.4,171.3 -5.3,174.0 C-4.2,176.7 -3.1,179.3 -2.0,182.0 C-0.8,184.7 0.3,187.3 1.5,190.0 C2.6,192.7 3.8,195.3 5.0,198.0 C6.2,200.7 7.5,203.3 8.7,206.0 C9.9,208.7 11.2,211.3 12.4,214.0 C13.7,216.7 14.9,219.3 16.1,222.0 C17.4,224.7 18.6,227.3 19.9,230.0 C21.1,232.7 22.3,235.3 23.5,238.0 C24.7,240.7 25.9,243.3 27.0,246.0 C28.2,248.7 29.3,251.3 30.4,254.0 C31.6,256.7 32.7,259.3 33.8,262.0 C35.0,264.7 36.1,267.3 37.3,270.0 C38.4,272.7 39.6,275.3 40.7,278.0 C41.9,280.7 43.0,283.3 44.1,286.0 C45.3,288.7 46.4,291.3 47.6,294.0 C48.7,296.7 49.8,299.3 50.9,302.0 C52.0,304.7 53.2,307.3 54.3,310.0 C55.4,312.7 56.4,315.3 57.5,318.0 C58.6,320.7 59.7,323.3 60.7,326.0 C61.7,328.7 62.8,331.3 63.8,334.0 C64.8,336.7 65.8,339.3 66.8,342.0 C67.8,344.7 68.7,347.3 69.7,350.0 C70.6,352.7 71.6,355.3 72.5,358.0 C73.4,360.7 74.3,363.3 75.2,366.0 C76.1,368.7 77.0,371.3 77.9,374.0 C78.8,376.7 79.6,379.3 80.5,382.0 C81.4,384.7 82.2,387.3 83.1,390.0 C83.9,392.7 84.7,395.3 85.6,398.0 C86.4,400.7 87.2,403.3 88.0,406.0 C88.8,408.7 89.6,411.3 90.4,414.0 C91.2,416.7 92.0,419.3 92.8,422.0 C93.6,424.7 94.4,427.3 95.1,430.0 C95.9,432.7 96.7,435.3 97.5,438.0 C98.2,440.7 99.0,443.3 99.7,446.0 C100.5,448.7 101.3,451.3 102.0,454.0 C102.7,456.7 103.5,459.3 104.2,462.0 C105.0,464.7 105.7,467.3 106.4,470.0 C107.1,472.7 107.8,475.3 108.5,478.0 C109.2,480.7 109.9,483.3 110.6,486.0 C111.2,488.7 111.9,491.3 112.5,494.0 C113.1,496.7 113.8,499.3 114.4,502.0 C115.0,504.7 115.5,507.3 116.1,510.0 C116.6,512.7 117.2,515.3 117.7,518.0 C118.2,520.7 118.6,523.3 119.1,526.0 C119.6,528.7 120.0,531.3 120.4,534.0 C120.8,536.7 121.2,539.3 121.5,542.0 C121.8,544.7 122.2,547.3 122.4,550.0 C122.7,552.7 122.9,555.3 123.1,558.0 C123.3,560.7 123.4,563.3 123.6,566.0 C123.7,568.7 123.7,571.3 123.8,574.0 C123.8,576.7 123.8,579.3 123.7,582.0 C123.6,584.7 123.5,587.3 123.3,590.0 C123.2,592.7 122.9,595.3 122.7,598.0 C122.4,600.7 122.1,603.3 121.7,606.0 C121.4,608.7 121.0,611.3 120.6,614.0 C120.1,616.7 119.7,619.3 119.2,622.0 C118.7,624.7 118.2,627.3 117.8,630.0 C117.3,632.7 116.8,635.3 116.3,638.0 C115.9,640.7 115.4,643.3 115.0,646.0 C114.5,648.7 114.0,651.3 113.5,654.0 C113.0,656.7 112.5,659.3 112.0,662.0 C111.5,664.7 111.0,667.3 110.5,670.0 C110.0,672.7 109.4,675.3 108.9,678.0 C108.4,680.7 107.6,684.7 107.4,686.0"/><path d="M-78.6,-10.0 C-78.1,-8.7 -76.7,-4.7 -75.8,-2.0 C-74.8,0.7 -73.9,3.3 -73.0,6.0 C-72.1,8.7 -71.2,11.3 -70.3,14.0 C-69.4,16.7 -68.4,19.3 -67.5,22.0 C-66.6,24.7 -65.7,27.3 -64.8,30.0 C-63.9,32.7 -63.0,35.3 -62.1,38.0 C-61.2,40.7 -60.3,43.3 -59.4,46.0 C-58.6,48.7 -57.7,51.3 -56.8,54.0 C-55.9,56.7 -55.0,59.3 -54.1,62.0 C-53.2,64.7 -52.3,67.3 -51.4,70.0 C-50.5,72.7 -49.6,75.3 -48.7,78.0 C-47.8,80.7 -46.9,83.3 -46.0,86.0 C-45.1,88.7 -44.2,91.3 -43.3,94.0 C-42.4,96.7 -41.5,99.3 -40.6,102.0 C-39.7,104.7 -38.7,107.3 -37.8,110.0 C-36.9,112.7 -36.0,115.3 -35.1,118.0 C-34.1,120.7 -33.2,123.3 -32.3,126.0 C-31.3,128.7 -30.4,131.3 -29.5,134.0 C-28.5,136.7 -27.5,139.3 -26.6,142.0 C-25.6,144.7 -24.6,147.3 -23.6,150.0 C-22.6,152.7 -21.6,155.3 -20.5,158.0 C-19.5,160.7 -18.4,163.3 -17.3,166.0 C-16.2,168.7 -15.1,171.3 -14.0,174.0 C-12.8,176.7 -11.7,179.3 -10.5,182.0 C-9.3,184.7 -8.1,187.3 -6.9,190.0 C-5.7,192.7 -4.5,195.3 -3.2,198.0 C-2.0,200.7 -0.7,203.3 0.6,206.0 C1.8,208.7 3.1,211.3 4.4,214.0 C5.7,216.7 7.0,219.3 8.3,222.0 C9.6,224.7 10.8,227.3 12.1,230.0 C13.4,232.7 14.6,235.3 15.9,238.0 C17.1,240.7 18.3,243.3 19.5,246.0 C20.7,248.7 21.9,251.3 23.1,254.0 C24.3,256.7 25.4,259.3 26.6,262.0 C27.8,264.7 29.0,267.3 30.2,270.0 C31.4,272.7 32.5,275.3 33.7,278.0 C34.9,280.7 36.1,283.3 37.3,286.0 C38.5,288.7 39.6,291.3 40.8,294.0 C42.0,296.7 43.1,299.3 44.3,302.0 C45.5,304.7 46.6,307.3 47.7,310.0 C48.9,312.7 50.0,315.3 51.1,318.0 C52.2,320.7 53.3,323.3 54.4,326.0 C55.5,328.7 56.6,331.3 57.6,334.0 C58.7,336.7 59.7,339.3 60.7,342.0 C61.8,344.7 62.7,347.3 63.7,350.0 C64.7,352.7 65.7,355.3 66.7,358.0 C67.6,360.7 68.6,363.3 69.5,366.0 C70.4,368.7 71.4,371.3 72.3,374.0 C73.2,376.7 74.1,379.3 75.0,382.0 C75.9,384.7 76.8,387.3 77.6,390.0 C78.5,392.7 79.4,395.3 80.2,398.0 C81.1,400.7 82.0,403.3 82.8,406.0 C83.6,408.7 84.5,411.3 85.3,414.0 C86.1,416.7 87.0,419.3 87.8,422.0 C88.6,424.7 89.4,427.3 90.2,430.0 C91.0,432.7 91.8,435.3 92.6,438.0 C93.4,440.7 94.2,443.3 95.0,446.0 C95.8,448.7 96.5,451.3 97.3,454.0 C98.1,456.7 98.9,459.3 99.6,462.0 C100.4,464.7 101.1,467.3 101.9,470.0 C102.6,472.7 103.4,475.3 104.1,478.0 C104.8,480.7 105.5,483.3 106.2,486.0 C106.9,488.7 107.6,491.3 108.2,494.0 C108.9,496.7 109.5,499.3 110.2,502.0 C110.8,504.7 111.4,507.3 112.0,510.0 C112.5,512.7 113.1,515.3 113.6,518.0 C114.1,520.7 114.6,523.3 115.1,526.0 C115.6,528.7 116.0,531.3 116.4,534.0 C116.9,536.7 117.3,539.3 117.6,542.0 C118.0,544.7 118.3,547.3 118.6,550.0 C118.9,552.7 119.1,555.3 119.3,558.0 C119.5,560.7 119.7,563.3 119.8,566.0 C120.0,568.7 120.0,571.3 120.1,574.0 C120.1,576.7 120.1,579.3 120.1,582.0 C120.0,584.7 119.9,587.3 119.7,590.0 C119.6,592.7 119.4,595.3 119.1,598.0 C118.8,600.7 118.5,603.3 118.2,606.0 C117.8,608.7 117.5,611.3 117.1,614.0 C116.6,616.7 116.2,619.3 115.7,622.0 C115.2,624.7 114.7,627.3 114.3,630.0 C113.8,632.7 113.3,635.3 112.8,638.0 C112.4,640.7 111.9,643.3 111.5,646.0 C111.0,648.7 110.5,651.3 110.0,654.0 C109.5,656.7 109.0,659.3 108.5,662.0 C108.0,664.7 107.5,667.3 107.0,670.0 C106.5,672.7 105.9,675.3 105.4,678.0 C104.9,680.7 104.1,684.7 103.9,686.0"/><path d="M-90.8,-10.0 C-90.3,-8.7 -88.8,-4.7 -87.8,-2.0 C-86.8,0.7 -85.8,3.3 -84.9,6.0 C-83.9,8.7 -82.9,11.3 -82.0,14.0 C-81.0,16.7 -80.1,19.3 -79.1,22.0 C-78.1,24.7 -77.2,27.3 -76.2,30.0 C-75.3,32.7 -74.3,35.3 -73.4,38.0 C-72.4,40.7 -71.5,43.3 -70.5,46.0 C-69.6,48.7 -68.6,51.3 -67.7,54.0 C-66.7,56.7 -65.8,59.3 -64.8,62.0 C-63.9,64.7 -62.9,67.3 -62.0,70.0 C-61.0,72.7 -60.1,75.3 -59.1,78.0 C-58.2,80.7 -57.2,83.3 -56.3,86.0 C-55.3,88.7 -54.4,91.3 -53.4,94.0 C-52.5,96.7 -51.5,99.3 -50.6,102.0 C-49.6,104.7 -48.6,107.3 -47.7,110.0 C-46.7,112.7 -45.7,115.3 -44.8,118.0 C-43.8,120.7 -42.8,123.3 -41.8,126.0 C-40.8,128.7 -39.9,131.3 -38.9,134.0 C-37.9,136.7 -36.8,139.3 -35.8,142.0 C-34.8,144.7 -33.8,147.3 -32.7,150.0 C-31.7,152.7 -30.6,155.3 -29.5,158.0 C-28.4,160.7 -27.3,163.3 -26.1,166.0 C-25.0,168.7 -23.8,171.3 -22.7,174.0 C-21.5,176.7 -20.3,179.3 -19.1,182.0 C-17.8,184.7 -16.6,187.3 -15.3,190.0 C-14.1,192.7 -12.8,195.3 -11.5,198.0 C-10.2,200.7 -8.9,203.3 -7.6,206.0 C-6.3,208.7 -4.9,211.3 -3.6,214.0 C-2.3,216.7 -0.9,219.3 0.4,222.0 C1.7,224.7 3.1,227.3 4.4,230.0 C5.7,232.7 7.0,235.3 8.3,238.0 C9.6,240.7 10.8,243.3 12.1,246.0 C13.3,248.7 14.5,251.3 15.7,254.0 C16.9,256.7 18.2,259.3 19.4,262.0 C20.6,264.7 21.8,267.3 23.1,270.0 C24.3,272.7 25.5,275.3 26.7,278.0 C28.0,280.7 29.2,283.3 30.4,286.0 C31.6,288.7 32.9,291.3 34.1,294.0 C35.3,296.7 36.5,299.3 37.7,302.0 C38.9,304.7 40.1,307.3 41.2,310.0 C42.4,312.7 43.6,315.3 44.7,318.0 C45.9,320.7 47.0,323.3 48.1,326.0 C49.3,328.7 50.4,331.3 51.5,334.0 C52.6,336.7 53.6,339.3 54.7,342.0 C55.7,344.7 56.8,347.3 57.8,350.0 C58.8,352.7 59.8,355.3 60.8,358.0 C61.8,360.7 62.8,363.3 63.8,366.0 C64.7,368.7 65.7,371.3 66.6,374.0 C67.6,376.7 68.5,379.3 69.5,382.0 C70.4,384.7 71.3,387.3 72.2,390.0 C73.1,392.7 74.0,395.3 74.9,398.0 C75.8,400.7 76.7,403.3 77.6,406.0 C78.4,408.7 79.3,411.3 80.2,414.0 C81.0,416.7 81.9,419.3 82.7,422.0 C83.6,424.7 84.4,427.3 85.3,430.0 C86.1,432.7 86.9,435.3 87.8,438.0 C88.6,440.7 89.4,443.3 90.2,446.0 C91.0,448.7 91.8,451.3 92.6,454.0 C93.4,456.7 94.2,459.3 95.0,462.0 C95.8,464.7 96.6,467.3 97.4,470.0 C98.1,472.7 98.9,475.3 99.6,478.0 C100.4,480.7 101.1,483.3 101.8,486.0 C102.6,488.7 103.3,491.3 104.0,494.0 C104.6,496.7 105.3,499.3 106.0,502.0 C106.6,504.7 107.2,507.3 107.8,510.0 C108.4,512.7 109.0,515.3 109.5,518.0 C110.1,520.7 110.6,523.3 111.1,526.0 C111.6,528.7 112.1,531.3 112.5,534.0 C112.9,536.7 113.4,539.3 113.7,542.0 C114.1,544.7 114.5,547.3 114.8,550.0 C115.1,552.7 115.4,555.3 115.6,558.0 C115.8,560.7 116.0,563.3 116.1,566.0 C116.3,568.7 116.4,571.3 116.4,574.0 C116.5,576.7 116.5,579.3 116.4,582.0 C116.4,584.7 116.3,587.3 116.2,590.0 C116.0,592.7 115.8,595.3 115.5,598.0 C115.3,600.7 115.0,603.3 114.7,606.0 C114.3,608.7 114.0,611.3 113.5,614.0 C113.1,616.7 112.7,619.3 112.2,622.0 C111.7,624.7 111.2,627.3 110.8,630.0 C110.3,632.7 109.8,635.3 109.3,638.0 C108.9,640.7 108.4,643.3 108.0,646.0 C107.5,648.7 107.0,651.3 106.5,654.0 C106.0,656.7 105.5,659.3 105.0,662.0 C104.5,664.7 104.0,667.3 103.5,670.0 C103.0,672.7 102.4,675.3 101.9,678.0 C101.4,680.7 100.6,684.7 100.4,686.0"/><path d="M-103.0,-10.0 C-102.5,-8.7 -100.9,-4.7 -99.8,-2.0 C-98.8,0.7 -97.8,3.3 -96.7,6.0 C-95.7,8.7 -94.7,11.3 -93.7,14.0 C-92.7,16.7 -91.7,19.3 -90.6,22.0 C-89.6,24.7 -88.6,27.3 -87.6,30.0 C-86.6,32.7 -85.6,35.3 -84.6,38.0 C-83.6,40.7 -82.6,43.3 -81.6,46.0 C-80.6,48.7 -79.6,51.3 -78.6,54.0 C-77.6,56.7 -76.6,59.3 -75.6,62.0 C-74.6,64.7 -73.6,67.3 -72.6,70.0 C-71.6,72.7 -70.6,75.3 -69.6,78.0 C-68.6,80.7 -67.6,83.3 -66.6,86.0 C-65.6,88.7 -64.6,91.3 -63.6,94.0 C-62.6,96.7 -61.6,99.3 -60.5,102.0 C-59.5,104.7 -58.5,107.3 -57.5,110.0 C-56.5,112.7 -55.5,115.3 -54.5,118.0 C-53.4,120.7 -52.4,123.3 -51.4,126.0 C-50.3,128.7 -49.3,131.3 -48.3,134.0 C-47.2,136.7 -46.2,139.3 -45.1,142.0 C-44.0,144.7 -42.9,147.3 -41.8,150.0 C-40.7,152.7 -39.6,155.3 -38.4,158.0 C-37.3,160.7 -36.1,163.3 -34.9,166.0 C-33.8,168.7 -32.6,171.3 -31.3,174.0 C-30.1,176.7 -28.9,179.3 -27.6,182.0 C-26.3,184.7 -25.1,187.3 -23.7,190.0 C-22.4,192.7 -21.1,195.3 -19.8,198.0 C-18.4,200.7 -17.1,203.3 -15.7,206.0 C-14.4,208.7 -13.0,211.3 -11.6,214.0 C-10.2,216.7 -8.8,219.3 -7.5,222.0 C-6.1,224.7 -4.7,227.3 -3.4,230.0 C-2.0,232.7 -0.7,235.3 0.7,238.0 C2.0,240.7 3.3,243.3 4.6,246.0 C5.9,248.7 7.1,251.3 8.4,254.0 C9.6,256.7 10.9,259.3 12.2,262.0 C13.4,264.7 14.7,267.3 16.0,270.0 C17.2,272.7 18.5,275.3 19.8,278.0 C21.0,280.7 22.3,283.3 23.6,286.0 C24.8,288.7 26.1,291.3 27.3,294.0 C28.6,296.7 29.8,299.3 31.1,302.0 C32.3,304.7 33.5,307.3 34.7,310.0 C36.0,312.7 37.2,315.3 38.3,318.0 C39.5,320.7 40.7,323.3 41.9,326.0 C43.0,328.7 44.2,331.3 45.3,334.0 C46.4,336.7 47.5,339.3 48.6,342.0 C49.7,344.7 50.8,347.3 51.9,350.0 C52.9,352.7 54.0,355.3 55.0,358.0 C56.0,360.7 57.0,363.3 58.0,366.0 C59.0,368.7 60.0,371.3 61.0,374.0 C62.0,376.7 63.0,379.3 63.9,382.0 C64.9,384.7 65.9,387.3 66.8,390.0 C67.7,392.7 68.7,395.3 69.6,398.0 C70.5,400.7 71.4,403.3 72.3,406.0 C73.3,408.7 74.2,411.3 75.0,414.0 C75.9,416.7 76.8,419.3 77.7,422.0 C78.6,424.7 79.5,427.3 80.3,430.0 C81.2,432.7 82.0,435.3 82.9,438.0 C83.8,440.7 84.6,443.3 85.5,446.0 C86.3,448.7 87.1,451.3 88.0,454.0 C88.8,456.7 89.6,459.3 90.4,462.0 C91.3,464.7 92.1,467.3 92.9,470.0 C93.7,472.7 94.4,475.3 95.2,478.0 C96.0,480.7 96.7,483.3 97.5,486.0 C98.2,488.7 99.0,491.3 99.7,494.0 C100.4,496.7 101.1,499.3 101.7,502.0 C102.4,504.7 103.1,507.3 103.7,510.0 C104.3,512.7 104.9,515.3 105.5,518.0 C106.0,520.7 106.6,523.3 107.1,526.0 C107.6,528.7 108.1,531.3 108.6,534.0 C109.0,536.7 109.5,539.3 109.9,542.0 C110.3,544.7 110.6,547.3 111.0,550.0 C111.3,552.7 111.6,555.3 111.8,558.0 C112.0,560.7 112.2,563.3 112.4,566.0 C112.6,568.7 112.7,571.3 112.7,574.0 C112.8,576.7 112.8,579.3 112.8,582.0 C112.8,584.7 112.7,587.3 112.6,590.0 C112.4,592.7 112.2,595.3 112.0,598.0 C111.7,600.7 111.5,603.3 111.1,606.0 C110.8,608.7 110.4,611.3 110.0,614.0 C109.6,616.7 109.2,619.3 108.7,622.0 C108.2,624.7 107.7,627.3 107.3,630.0 C106.8,632.7 106.3,635.3 105.8,638.0 C105.4,640.7 104.9,643.3 104.5,646.0 C104.0,648.7 103.5,651.3 103.0,654.0 C102.5,656.7 102.0,659.3 101.5,662.0 C101.0,664.7 100.5,667.3 100.0,670.0 C99.5,672.7 98.9,675.3 98.4,678.0 C97.9,680.7 97.1,684.7 96.9,686.0"/><path d="M-115.2,-10.0 C-114.6,-8.7 -113.0,-4.7 -111.9,-2.0 C-110.8,0.7 -109.7,3.3 -108.6,6.0 C-107.5,8.7 -106.5,11.3 -105.4,14.0 C-104.3,16.7 -103.3,19.3 -102.2,22.0 C-101.1,24.7 -100.1,27.3 -99.0,30.0 C-98.0,32.7 -96.9,35.3 -95.8,38.0 C-94.8,40.7 -93.7,43.3 -92.7,46.0 C-91.6,48.7 -90.6,51.3 -89.5,54.0 C-88.4,56.7 -87.4,59.3 -86.3,62.0 C-85.3,64.7 -84.2,67.3 -83.2,70.0 C-82.1,72.7 -81.1,75.3 -80.0,78.0 C-79.0,80.7 -77.9,83.3 -76.9,86.0 C-75.8,88.7 -74.8,91.3 -73.7,94.0 C-72.7,96.7 -71.6,99.3 -70.5,102.0 C-69.5,104.7 -68.4,107.3 -67.4,110.0 C-66.3,112.7 -65.2,115.3 -64.2,118.0 C-63.1,120.7 -62.0,123.3 -60.9,126.0 C-59.8,128.7 -58.8,131.3 -57.7,134.0 C-56.6,136.7 -55.5,139.3 -54.3,142.0 C-53.2,144.7 -52.1,147.3 -50.9,150.0 C-49.8,152.7 -48.6,155.3 -47.4,158.0 C-46.2,160.7 -45.0,163.3 -43.8,166.0 C-42.5,168.7 -41.3,171.3 -40.0,174.0 C-38.8,176.7 -37.5,179.3 -36.1,182.0 C-34.8,184.7 -33.5,187.3 -32.2,190.0 C-30.8,192.7 -29.4,195.3 -28.0,198.0 C-26.7,200.7 -25.3,203.3 -23.9,206.0 C-22.4,208.7 -21.0,211.3 -19.6,214.0 C-18.2,216.7 -16.8,219.3 -15.3,222.0 C-13.9,224.7 -12.5,227.3 -11.1,230.0 C-9.7,232.7 -8.3,235.3 -7.0,238.0 C-5.6,240.7 -4.2,243.3 -2.9,246.0 C-1.6,248.7 -0.3,251.3 1.0,254.0 C2.3,256.7 3.6,259.3 4.9,262.0 C6.2,264.7 7.5,267.3 8.9,270.0 C10.2,272.7 11.5,275.3 12.8,278.0 C14.1,280.7 15.4,283.3 16.7,286.0 C18.0,288.7 19.3,291.3 20.6,294.0 C21.9,296.7 23.2,299.3 24.4,302.0 C25.7,304.7 27.0,307.3 28.2,310.0 C29.5,312.7 30.7,315.3 32.0,318.0 C33.2,320.7 34.4,323.3 35.6,326.0 C36.8,328.7 38.0,331.3 39.1,334.0 C40.3,336.7 41.4,339.3 42.6,342.0 C43.7,344.7 44.8,347.3 45.9,350.0 C47.0,352.7 48.1,355.3 49.2,358.0 C50.2,360.7 51.3,363.3 52.3,366.0 C53.4,368.7 54.4,371.3 55.4,374.0 C56.4,376.7 57.4,379.3 58.4,382.0 C59.4,384.7 60.4,387.3 61.4,390.0 C62.4,392.7 63.3,395.3 64.3,398.0 C65.2,400.7 66.2,403.3 67.1,406.0 C68.1,408.7 69.0,411.3 69.9,414.0 C70.8,416.7 71.8,419.3 72.7,422.0 C73.6,424.7 74.5,427.3 75.4,430.0 C76.3,432.7 77.2,435.3 78.1,438.0 C78.9,440.7 79.8,443.3 80.7,446.0 C81.6,448.7 82.4,451.3 83.3,454.0 C84.1,456.7 85.0,459.3 85.8,462.0 C86.7,464.7 87.5,467.3 88.3,470.0 C89.2,472.7 90.0,475.3 90.8,478.0 C91.6,480.7 92.4,483.3 93.1,486.0 C93.9,488.7 94.7,491.3 95.4,494.0 C96.1,496.7 96.8,499.3 97.5,502.0 C98.2,504.7 98.9,507.3 99.6,510.0 C100.2,512.7 100.8,515.3 101.4,518.0 C102.0,520.7 102.6,523.3 103.1,526.0 C103.6,528.7 104.1,531.3 104.6,534.0 C105.1,536.7 105.6,539.3 106.0,542.0 C106.4,544.7 106.8,547.3 107.1,550.0 C107.5,552.7 107.8,555.3 108.0,558.0 C108.3,560.7 108.5,563.3 108.7,566.0 C108.9,568.7 109.0,571.3 109.1,574.0 C109.1,576.7 109.2,579.3 109.2,582.0 C109.2,584.7 109.1,587.3 109.0,590.0 C108.9,592.7 108.7,595.3 108.4,598.0 C108.2,600.7 107.9,603.3 107.6,606.0 C107.3,608.7 106.9,611.3 106.5,614.0 C106.1,616.7 105.7,619.3 105.2,622.0 C104.8,624.7 104.2,627.3 103.8,630.0 C103.3,632.7 102.8,635.3 102.3,638.0 C101.9,640.7 101.4,643.3 101.0,646.0 C100.5,648.7 100.0,651.3 99.5,654.0 C99.0,656.7 98.5,659.3 98.0,662.0 C97.5,664.7 97.0,667.3 96.5,670.0 C96.0,672.7 95.4,675.3 94.9,678.0 C94.4,680.7 93.6,684.7 93.4,686.0"/><path d="M-127.4,-10.0 C-126.8,-8.7 -125.1,-4.7 -123.9,-2.0 C-122.8,0.7 -121.6,3.3 -120.5,6.0 C-119.4,8.7 -118.2,11.3 -117.1,14.0 C-116.0,16.7 -114.9,19.3 -113.8,22.0 C-112.6,24.7 -111.5,27.3 -110.4,30.0 C-109.3,32.7 -108.2,35.3 -107.1,38.0 C-106.0,40.7 -104.8,43.3 -103.7,46.0 C-102.6,48.7 -101.5,51.3 -100.4,54.0 C-99.3,56.7 -98.2,59.3 -97.1,62.0 C-96.0,64.7 -94.9,67.3 -93.8,70.0 C-92.7,72.7 -91.6,75.3 -90.5,78.0 C-89.4,80.7 -88.3,83.3 -87.2,86.0 C-86.1,88.7 -85.0,91.3 -83.9,94.0 C-82.7,96.7 -81.6,99.3 -80.5,102.0 C-79.4,104.7 -78.3,107.3 -77.2,110.0 C-76.1,112.7 -75.0,115.3 -73.8,118.0 C-72.7,120.7 -71.6,123.3 -70.5,126.0 C-69.3,128.7 -68.2,131.3 -67.1,134.0 C-65.9,136.7 -64.8,139.3 -63.6,142.0 C-62.4,144.7 -61.2,147.3 -60.0,150.0 C-58.8,152.7 -57.6,155.3 -56.4,158.0 C-55.1,160.7 -53.9,163.3 -52.6,166.0 C-51.3,168.7 -50.0,171.3 -48.7,174.0 C-47.4,176.7 -46.1,179.3 -44.7,182.0 C-43.3,184.7 -42.0,187.3 -40.6,190.0 C-39.2,192.7 -37.8,195.3 -36.3,198.0 C-34.9,200.7 -33.4,203.3 -32.0,206.0 C-30.5,208.7 -29.1,211.3 -27.6,214.0 C-26.1,216.7 -24.7,219.3 -23.2,222.0 C-21.8,224.7 -20.3,227.3 -18.8,230.0 C-17.4,232.7 -16.0,235.3 -14.6,238.0 C-13.2,240.7 -11.8,243.3 -10.4,246.0 C-9.0,248.7 -7.7,251.3 -6.3,254.0 C-5.0,256.7 -3.7,259.3 -2.3,262.0 C-1.0,264.7 0.4,267.3 1.7,270.0 C3.1,272.7 4.5,275.3 5.8,278.0 C7.1,280.7 8.5,283.3 9.8,286.0 C11.2,288.7 12.5,291.3 13.8,294.0 C15.2,296.7 16.5,299.3 17.8,302.0 C19.1,304.7 20.4,307.3 21.7,310.0 C23.0,312.7 24.3,315.3 25.6,318.0 C26.8,320.7 28.1,323.3 29.3,326.0 C30.6,328.7 31.8,331.3 33.0,334.0 C34.2,336.7 35.4,339.3 36.5,342.0 C37.7,344.7 38.8,347.3 40.0,350.0 C41.1,352.7 42.2,355.3 43.3,358.0 C44.4,360.7 45.5,363.3 46.6,366.0 C47.7,368.7 48.7,371.3 49.8,374.0 C50.8,376.7 51.9,379.3 52.9,382.0 C53.9,384.7 54.9,387.3 56.0,390.0 C57.0,392.7 58.0,395.3 59.0,398.0 C59.9,400.7 60.9,403.3 61.9,406.0 C62.9,408.7 63.8,411.3 64.8,414.0 C65.7,416.7 66.7,419.3 67.6,422.0 C68.6,424.7 69.5,427.3 70.4,430.0 C71.4,432.7 72.3,435.3 73.2,438.0 C74.1,440.7 75.0,443.3 75.9,446.0 C76.8,448.7 77.7,451.3 78.6,454.0 C79.5,456.7 80.4,459.3 81.3,462.0 C82.1,464.7 83.0,467.3 83.8,470.0 C84.7,472.7 85.5,475.3 86.3,478.0 C87.2,480.7 88.0,483.3 88.8,486.0 C89.6,488.7 90.4,491.3 91.1,494.0 C91.9,496.7 92.6,499.3 93.3,502.0 C94.1,504.7 94.7,507.3 95.4,510.0 C96.1,512.7 96.7,515.3 97.3,518.0 C97.9,520.7 98.5,523.3 99.1,526.0 C99.6,528.7 100.2,531.3 100.7,534.0 C101.2,536.7 101.7,539.3 102.1,542.0 C102.5,544.7 103.0,547.3 103.3,550.0 C103.7,552.7 104.0,555.3 104.3,558.0 C104.5,560.7 104.8,563.3 105.0,566.0 C105.2,568.7 105.3,571.3 105.4,574.0 C105.5,576.7 105.6,579.3 105.6,582.0 C105.6,584.7 105.5,587.3 105.4,590.0 C105.3,592.7 105.1,595.3 104.9,598.0 C104.7,600.7 104.4,603.3 104.1,606.0 C103.8,608.7 103.4,611.3 103.0,614.0 C102.6,616.7 102.2,619.3 101.7,622.0 C101.3,624.7 100.7,627.3 100.3,630.0 C99.8,632.7 99.3,635.3 98.8,638.0 C98.4,640.7 97.9,643.3 97.5,646.0 C97.0,648.7 96.5,651.3 96.0,654.0 C95.5,656.7 95.0,659.3 94.5,662.0 C94.0,664.7 93.5,667.3 93.0,670.0 C92.5,672.7 91.9,675.3 91.4,678.0 C90.9,680.7 90.1,684.7 89.9,686.0"/><path d="M-139.6,-10.0 C-139.0,-8.7 -137.2,-4.7 -136.0,-2.0 C-134.8,0.7 -133.6,3.3 -132.4,6.0 C-131.2,8.7 -130.0,11.3 -128.8,14.0 C-127.7,16.7 -126.5,19.3 -125.3,22.0 C-124.1,24.7 -123.0,27.3 -121.8,30.0 C-120.6,32.7 -119.5,35.3 -118.3,38.0 C-117.1,40.7 -116.0,43.3 -114.8,46.0 C-113.6,48.7 -112.5,51.3 -111.3,54.0 C-110.2,56.7 -109.0,59.3 -107.9,62.0 C-106.7,64.7 -105.5,67.3 -104.4,70.0 C-103.2,72.7 -102.1,75.3 -100.9,78.0 C-99.8,80.7 -98.6,83.3 -97.5,86.0 C-96.3,88.7 -95.1,91.3 -94.0,94.0 C-92.8,96.7 -91.7,99.3 -90.5,102.0 C-89.4,104.7 -88.2,107.3 -87.0,110.0 C-85.9,112.7 -84.7,115.3 -83.5,118.0 C-82.4,120.7 -81.2,123.3 -80.0,126.0 C-78.8,128.7 -77.6,131.3 -76.5,134.0 C-75.3,136.7 -74.1,139.3 -72.8,142.0 C-71.6,144.7 -70.4,147.3 -69.2,150.0 C-67.9,152.7 -66.6,155.3 -65.3,158.0 C-64.1,160.7 -62.8,163.3 -61.4,166.0 C-60.1,168.7 -58.8,171.3 -57.4,174.0 C-56.0,176.7 -54.6,179.3 -53.2,182.0 C-51.8,184.7 -50.4,187.3 -49.0,190.0 C-47.5,192.7 -46.1,195.3 -44.6,198.0 C-43.1,200.7 -41.6,203.3 -40.1,206.0 C-38.6,208.7 -37.1,211.3 -35.6,214.0 C-34.1,216.7 -32.6,219.3 -31.1,222.0 C-29.6,224.7 -28.1,227.3 -26.6,230.0 C-25.1,232.7 -23.6,235.3 -22.2,238.0 C-20.7,240.7 -19.3,243.3 -17.9,246.0 C-16.5,248.7 -15.1,251.3 -13.7,254.0 C-12.3,256.7 -10.9,259.3 -9.5,262.0 C-8.1,264.7 -6.8,267.3 -5.4,270.0 C-4.0,272.7 -2.6,275.3 -1.2,278.0 C0.2,280.7 1.6,283.3 3.0,286.0 C4.4,288.7 5.7,291.3 7.1,294.0 C8.5,296.7 9.8,299.3 11.2,302.0 C12.5,304.7 13.9,307.3 15.2,310.0 C16.6,312.7 17.9,315.3 19.2,318.0 C20.5,320.7 21.8,323.3 23.0,326.0 C24.3,328.7 25.6,331.3 26.8,334.0 C28.1,336.7 29.3,339.3 30.5,342.0 C31.7,344.7 32.9,347.3 34.0,350.0 C35.2,352.7 36.3,355.3 37.5,358.0 C38.6,360.7 39.7,363.3 40.9,366.0 C42.0,368.7 43.1,371.3 44.1,374.0 C45.2,376.7 46.3,379.3 47.4,382.0 C48.4,384.7 49.5,387.3 50.5,390.0 C51.6,392.7 52.6,395.3 53.6,398.0 C54.7,400.7 55.7,403.3 56.7,406.0 C57.7,408.7 58.7,411.3 59.7,414.0 C60.7,416.7 61.6,419.3 62.6,422.0 C63.6,424.7 64.5,427.3 65.5,430.0 C66.5,432.7 67.4,435.3 68.3,438.0 C69.3,440.7 70.2,443.3 71.2,446.0 C72.1,448.7 73.0,451.3 73.9,454.0 C74.9,456.7 75.8,459.3 76.7,462.0 C77.6,464.7 78.4,467.3 79.3,470.0 C80.2,472.7 81.1,475.3 81.9,478.0 C82.8,480.7 83.6,483.3 84.4,486.0 C85.2,488.7 86.1,491.3 86.8,494.0 C87.6,496.7 88.4,499.3 89.1,502.0 C89.9,504.7 90.6,507.3 91.3,510.0 C92.0,512.7 92.6,515.3 93.3,518.0 C93.9,520.7 94.5,523.3 95.1,526.0 C95.7,528.7 96.2,531.3 96.8,534.0 C97.3,536.7 97.8,539.3 98.2,542.0 C98.7,544.7 99.1,547.3 99.5,550.0 C99.9,552.7 100.2,555.3 100.5,558.0 C100.8,560.7 101.0,563.3 101.2,566.0 C101.4,568.7 101.6,571.3 101.7,574.0 C101.8,576.7 101.9,579.3 101.9,582.0 C101.9,584.7 101.9,587.3 101.8,590.0 C101.7,592.7 101.5,595.3 101.3,598.0 C101.1,600.7 100.8,603.3 100.5,606.0 C100.2,608.7 99.9,611.3 99.5,614.0 C99.1,616.7 98.7,619.3 98.2,622.0 C97.8,624.7 97.2,627.3 96.8,630.0 C96.3,632.7 95.8,635.3 95.3,638.0 C94.9,640.7 94.4,643.3 94.0,646.0 C93.5,648.7 93.0,651.3 92.5,654.0 C92.0,656.7 91.5,659.3 91.0,662.0 C90.5,664.7 90.0,667.3 89.5,670.0 C89.0,672.7 88.4,675.3 87.9,678.0 C87.4,680.7 86.6,684.7 86.4,686.0"/><path d="M-151.8,-10.0 C-151.2,-8.7 -149.3,-4.7 -148.0,-2.0 C-146.7,0.7 -145.5,3.3 -144.3,6.0 C-143.0,8.7 -141.8,11.3 -140.5,14.0 C-139.3,16.7 -138.1,19.3 -136.9,22.0 C-135.6,24.7 -134.4,27.3 -133.2,30.0 C-132.0,32.7 -130.7,35.3 -129.5,38.0 C-128.3,40.7 -127.1,43.3 -125.9,46.0 C-124.7,48.7 -123.5,51.3 -122.2,54.0 C-121.0,56.7 -119.8,59.3 -118.6,62.0 C-117.4,64.7 -116.2,67.3 -115.0,70.0 C-113.8,72.7 -112.6,75.3 -111.4,78.0 C-110.2,80.7 -109.0,83.3 -107.8,86.0 C-106.5,88.7 -105.3,91.3 -104.1,94.0 C-102.9,96.7 -101.7,99.3 -100.5,102.0 C-99.3,104.7 -98.1,107.3 -96.9,110.0 C-95.7,112.7 -94.4,115.3 -93.2,118.0 C-92.0,120.7 -90.8,123.3 -89.6,126.0 C-88.3,128.7 -87.1,131.3 -85.9,134.0 C-84.6,136.7 -83.4,139.3 -82.1,142.0 C-80.8,144.7 -79.6,147.3 -78.3,150.0 C-77.0,152.7 -75.6,155.3 -74.3,158.0 C-73.0,160.7 -71.6,163.3 -70.3,166.0 C-68.9,168.7 -67.5,171.3 -66.1,174.0 C-64.7,176.7 -63.2,179.3 -61.8,182.0 C-60.3,184.7 -58.9,187.3 -57.4,190.0 C-55.9,192.7 -54.4,195.3 -52.9,198.0 C-51.3,200.7 -49.8,203.3 -48.3,206.0 C-46.7,208.7 -45.2,211.3 -43.6,214.0 C-42.1,216.7 -40.5,219.3 -39.0,222.0 C-37.4,224.7 -35.9,227.3 -34.3,230.0 C-32.8,232.7 -31.3,235.3 -29.8,238.0 C-28.3,240.7 -26.8,243.3 -25.4,246.0 C-23.9,248.7 -22.5,251.3 -21.1,254.0 C-19.6,256.7 -18.2,259.3 -16.8,262.0 C-15.3,264.7 -13.9,267.3 -12.5,270.0 C-11.0,272.7 -9.6,275.3 -8.2,278.0 C-6.7,280.7 -5.3,283.3 -3.9,286.0 C-2.5,288.7 -1.0,291.3 0.4,294.0 C1.8,296.7 3.2,299.3 4.6,302.0 C6.0,304.7 7.3,307.3 8.7,310.0 C10.1,312.7 11.4,315.3 12.8,318.0 C14.1,320.7 15.5,323.3 16.8,326.0 C18.1,328.7 19.4,331.3 20.7,334.0 C21.9,336.7 23.2,339.3 24.4,342.0 C25.7,344.7 26.9,347.3 28.1,350.0 C29.3,352.7 30.5,355.3 31.6,358.0 C32.8,360.7 34.0,363.3 35.1,366.0 C36.3,368.7 37.4,371.3 38.5,374.0 C39.6,376.7 40.8,379.3 41.9,382.0 C43.0,384.7 44.0,387.3 45.1,390.0 C46.2,392.7 47.3,395.3 48.3,398.0 C49.4,400.7 50.4,403.3 51.5,406.0 C52.5,408.7 53.5,411.3 54.5,414.0 C55.6,416.7 56.6,419.3 57.6,422.0 C58.6,424.7 59.6,427.3 60.6,430.0 C61.5,432.7 62.5,435.3 63.5,438.0 C64.5,440.7 65.4,443.3 66.4,446.0 C67.4,448.7 68.3,451.3 69.3,454.0 C70.2,456.7 71.1,459.3 72.1,462.0 C73.0,464.7 73.9,467.3 74.8,470.0 C75.7,472.7 76.6,475.3 77.5,478.0 C78.4,480.7 79.2,483.3 80.1,486.0 C80.9,488.7 81.7,491.3 82.6,494.0 C83.4,496.7 84.2,499.3 84.9,502.0 C85.7,504.7 86.4,507.3 87.1,510.0 C87.9,512.7 88.5,515.3 89.2,518.0 C89.9,520.7 90.5,523.3 91.1,526.0 C91.7,528.7 92.3,531.3 92.8,534.0 C93.4,536.7 93.9,539.3 94.4,542.0 C94.8,544.7 95.3,547.3 95.7,550.0 C96.1,552.7 96.4,555.3 96.7,558.0 C97.0,560.7 97.3,563.3 97.5,566.0 C97.7,568.7 97.9,571.3 98.0,574.0 C98.2,576.7 98.3,579.3 98.3,582.0 C98.3,584.7 98.3,587.3 98.2,590.0 C98.1,592.7 98.0,595.3 97.8,598.0 C97.6,600.7 97.3,603.3 97.0,606.0 C96.7,608.7 96.4,611.3 96.0,614.0 C95.6,616.7 95.2,619.3 94.7,622.0 C94.3,624.7 93.7,627.3 93.3,630.0 C92.8,632.7 92.3,635.3 91.8,638.0 C91.4,640.7 90.9,643.3 90.5,646.0 C90.0,648.7 89.5,651.3 89.0,654.0 C88.5,656.7 88.0,659.3 87.5,662.0 C87.0,664.7 86.5,667.3 86.0,670.0 C85.5,672.7 84.9,675.3 84.4,678.0 C83.9,680.7 83.1,684.7 82.9,686.0"/><path d="M-164.0,-10.0 C-163.3,-8.7 -161.4,-4.7 -160.0,-2.0 C-158.7,0.7 -157.4,3.3 -156.1,6.0 C-154.8,8.7 -153.5,11.3 -152.3,14.0 C-151.0,16.7 -149.7,19.3 -148.4,22.0 C-147.1,24.7 -145.8,27.3 -144.6,30.0 C-143.3,32.7 -142.0,35.3 -140.8,38.0 C-139.5,40.7 -138.2,43.3 -137.0,46.0 C-135.7,48.7 -134.4,51.3 -133.2,54.0 C-131.9,56.7 -130.6,59.3 -129.4,62.0 C-128.1,64.7 -126.9,67.3 -125.6,70.0 C-124.3,72.7 -123.1,75.3 -121.8,78.0 C-120.6,80.7 -119.3,83.3 -118.0,86.0 C-116.8,88.7 -115.5,91.3 -114.3,94.0 C-113.0,96.7 -111.8,99.3 -110.5,102.0 C-109.2,104.7 -108.0,107.3 -106.7,110.0 C-105.5,112.7 -104.2,115.3 -102.9,118.0 C-101.7,120.7 -100.4,123.3 -99.1,126.0 C-97.8,128.7 -96.5,131.3 -95.2,134.0 C-94.0,136.7 -92.7,139.3 -91.3,142.0 C-90.0,144.7 -88.7,147.3 -87.4,150.0 C-86.0,152.7 -84.7,155.3 -83.3,158.0 C-81.9,160.7 -80.5,163.3 -79.1,166.0 C-77.7,168.7 -76.2,171.3 -74.8,174.0 C-73.3,176.7 -71.8,179.3 -70.3,182.0 C-68.8,184.7 -67.3,187.3 -65.8,190.0 C-64.3,192.7 -62.7,195.3 -61.1,198.0 C-59.6,200.7 -58.0,203.3 -56.4,206.0 C-54.8,208.7 -53.2,211.3 -51.6,214.0 C-50.0,216.7 -48.4,219.3 -46.8,222.0 C-45.2,224.7 -43.6,227.3 -42.1,230.0 C-40.5,232.7 -38.9,235.3 -37.4,238.0 C-35.9,240.7 -34.3,243.3 -32.8,246.0 C-31.3,248.7 -29.9,251.3 -28.4,254.0 C-26.9,256.7 -25.5,259.3 -24.0,262.0 C-22.5,264.7 -21.0,267.3 -19.6,270.0 C-18.1,272.7 -16.6,275.3 -15.1,278.0 C-13.7,280.7 -12.2,283.3 -10.7,286.0 C-9.3,288.7 -7.8,291.3 -6.4,294.0 C-4.9,296.7 -3.5,299.3 -2.0,302.0 C-0.6,304.7 0.8,307.3 2.2,310.0 C3.6,312.7 5.0,315.3 6.4,318.0 C7.8,320.7 9.1,323.3 10.5,326.0 C11.8,328.7 13.2,331.3 14.5,334.0 C15.8,336.7 17.1,339.3 18.4,342.0 C19.6,344.7 20.9,347.3 22.1,350.0 C23.4,352.7 24.6,355.3 25.8,358.0 C27.0,360.7 28.2,363.3 29.4,366.0 C30.6,368.7 31.7,371.3 32.9,374.0 C34.1,376.7 35.2,379.3 36.3,382.0 C37.5,384.7 38.6,387.3 39.7,390.0 C40.8,392.7 41.9,395.3 43.0,398.0 C44.1,400.7 45.2,403.3 46.2,406.0 C47.3,408.7 48.4,411.3 49.4,414.0 C50.5,416.7 51.5,419.3 52.5,422.0 C53.6,424.7 54.6,427.3 55.6,430.0 C56.6,432.7 57.6,435.3 58.6,438.0 C59.6,440.7 60.6,443.3 61.6,446.0 C62.6,448.7 63.6,451.3 64.6,454.0 C65.6,456.7 66.5,459.3 67.5,462.0 C68.4,464.7 69.4,467.3 70.3,470.0 C71.2,472.7 72.2,475.3 73.1,478.0 C74.0,480.7 74.8,483.3 75.7,486.0 C76.6,488.7 77.4,491.3 78.3,494.0 C79.1,496.7 79.9,499.3 80.7,502.0 C81.5,504.7 82.3,507.3 83.0,510.0 C83.7,512.7 84.5,515.3 85.1,518.0 C85.8,520.7 86.5,523.3 87.1,526.0 C87.7,528.7 88.3,531.3 88.9,534.0 C89.4,536.7 90.0,539.3 90.5,542.0 C91.0,544.7 91.4,547.3 91.8,550.0 C92.3,552.7 92.6,555.3 93.0,558.0 C93.3,560.7 93.6,563.3 93.8,566.0 C94.0,568.7 94.2,571.3 94.4,574.0 C94.5,576.7 94.6,579.3 94.7,582.0 C94.7,584.7 94.7,587.3 94.6,590.0 C94.5,592.7 94.4,595.3 94.2,598.0 C94.0,600.7 93.8,603.3 93.5,606.0 C93.2,608.7 92.9,611.3 92.5,614.0 C92.1,616.7 91.7,619.3 91.2,622.0 C90.8,624.7 90.2,627.3 89.8,630.0 C89.3,632.7 88.8,635.3 88.3,638.0 C87.9,640.7 87.4,643.3 87.0,646.0 C86.5,648.7 86.0,651.3 85.5,654.0 C85.0,656.7 84.5,659.3 84.0,662.0 C83.5,664.7 83.0,667.3 82.5,670.0 C82.0,672.7 81.4,675.3 80.9,678.0 C80.4,680.7 79.6,684.7 79.4,686.0"/><path d="M-176.2,-10.0 C-175.5,-8.7 -173.5,-4.7 -172.1,-2.0 C-170.7,0.7 -169.4,3.3 -168.0,6.0 C-166.7,8.7 -165.3,11.3 -164.0,14.0 C-162.6,16.7 -161.3,19.3 -160.0,22.0 C-158.6,24.7 -157.3,27.3 -156.0,30.0 C-154.6,32.7 -153.3,35.3 -152.0,38.0 C-150.7,40.7 -149.3,43.3 -148.0,46.0 C-146.7,48.7 -145.4,51.3 -144.1,54.0 C-142.8,56.7 -141.4,59.3 -140.1,62.0 C-138.8,64.7 -137.5,67.3 -136.2,70.0 C-134.9,72.7 -133.6,75.3 -132.3,78.0 C-131.0,80.7 -129.6,83.3 -128.3,86.0 C-127.0,88.7 -125.7,91.3 -124.4,94.0 C-123.1,96.7 -121.8,99.3 -120.5,102.0 C-119.2,104.7 -117.9,107.3 -116.6,110.0 C-115.2,112.7 -113.9,115.3 -112.6,118.0 C-111.3,120.7 -110.0,123.3 -108.6,126.0 C-107.3,128.7 -106.0,131.3 -104.6,134.0 C-103.3,136.7 -102.0,139.3 -100.6,142.0 C-99.2,144.7 -97.9,147.3 -96.5,150.0 C-95.1,152.7 -93.7,155.3 -92.2,158.0 C-90.8,160.7 -89.4,163.3 -87.9,166.0 C-86.4,168.7 -85.0,171.3 -83.5,174.0 C-82.0,176.7 -80.4,179.3 -78.9,182.0 C-77.3,184.7 -75.8,187.3 -74.2,190.0 C-72.6,192.7 -71.0,195.3 -69.4,198.0 C-67.8,200.7 -66.2,203.3 -64.5,206.0 C-62.9,208.7 -61.3,211.3 -59.6,214.0 C-58.0,216.7 -56.3,219.3 -54.7,222.0 C-53.1,224.7 -51.4,227.3 -49.8,230.0 C-48.2,232.7 -46.6,235.3 -45.0,238.0 C-43.4,240.7 -41.9,243.3 -40.3,246.0 C-38.8,248.7 -37.3,251.3 -35.8,254.0 C-34.3,256.7 -32.7,259.3 -31.2,262.0 C-29.7,264.7 -28.2,267.3 -26.7,270.0 C-25.2,272.7 -23.6,275.3 -22.1,278.0 C-20.6,280.7 -19.1,283.3 -17.6,286.0 C-16.1,288.7 -14.6,291.3 -13.1,294.0 C-11.6,296.7 -10.1,299.3 -8.7,302.0 C-7.2,304.7 -5.7,307.3 -4.3,310.0 C-2.8,312.7 -1.4,315.3 0.0,318.0 C1.4,320.7 2.8,323.3 4.2,326.0 C5.6,328.7 7.0,331.3 8.3,334.0 C9.7,336.7 11.0,339.3 12.3,342.0 C13.6,344.7 14.9,347.3 16.2,350.0 C17.5,352.7 18.7,355.3 20.0,358.0 C21.2,360.7 22.4,363.3 23.7,366.0 C24.9,368.7 26.1,371.3 27.3,374.0 C28.5,376.7 29.6,379.3 30.8,382.0 C32.0,384.7 33.1,387.3 34.3,390.0 C35.4,392.7 36.5,395.3 37.7,398.0 C38.8,400.7 39.9,403.3 41.0,406.0 C42.1,408.7 43.2,411.3 44.3,414.0 C45.4,416.7 46.4,419.3 47.5,422.0 C48.6,424.7 49.6,427.3 50.7,430.0 C51.7,432.7 52.8,435.3 53.8,438.0 C54.8,440.7 55.9,443.3 56.9,446.0 C57.9,448.7 58.9,451.3 59.9,454.0 C60.9,456.7 61.9,459.3 62.9,462.0 C63.9,464.7 64.8,467.3 65.8,470.0 C66.7,472.7 67.7,475.3 68.6,478.0 C69.6,480.7 70.5,483.3 71.4,486.0 C72.3,488.7 73.1,491.3 74.0,494.0 C74.9,496.7 75.7,499.3 76.5,502.0 C77.3,504.7 78.1,507.3 78.9,510.0 C79.6,512.7 80.4,515.3 81.1,518.0 C81.8,520.7 82.4,523.3 83.1,526.0 C83.7,528.7 84.3,531.3 84.9,534.0 C85.5,536.7 86.1,539.3 86.6,542.0 C87.1,544.7 87.6,547.3 88.0,550.0 C88.5,552.7 88.8,555.3 89.2,558.0 C89.5,560.7 89.8,563.3 90.1,566.0 C90.3,568.7 90.5,571.3 90.7,574.0 C90.9,576.7 91.0,579.3 91.0,582.0 C91.1,584.7 91.1,587.3 91.0,590.0 C91.0,592.7 90.8,595.3 90.6,598.0 C90.5,600.7 90.2,603.3 90.0,606.0 C89.7,608.7 89.4,611.3 89.0,614.0 C88.6,616.7 88.2,619.3 87.7,622.0 C87.3,624.7 86.7,627.3 86.3,630.0 C85.8,632.7 85.3,635.3 84.8,638.0 C84.4,640.7 83.9,643.3 83.5,646.0 C83.0,648.7 82.5,651.3 82.0,654.0 C81.5,656.7 81.0,659.3 80.5,662.0 C80.0,664.7 79.5,667.3 79.0,670.0 C78.5,672.7 77.9,675.3 77.4,678.0 C76.9,680.7 76.1,684.7 75.9,686.0"/><path d="M-188.4,-10.0 C-187.7,-8.7 -185.5,-4.7 -184.1,-2.0 C-182.7,0.7 -181.3,3.3 -179.9,6.0 C-178.5,8.7 -177.1,11.3 -175.7,14.0 C-174.3,16.7 -172.9,19.3 -171.5,22.0 C-170.1,24.7 -168.7,27.3 -167.4,30.0 C-166.0,32.7 -164.6,35.3 -163.2,38.0 C-161.8,40.7 -160.5,43.3 -159.1,46.0 C-157.7,48.7 -156.4,51.3 -155.0,54.0 C-153.6,56.7 -152.3,59.3 -150.9,62.0 C-149.5,64.7 -148.2,67.3 -146.8,70.0 C-145.4,72.7 -144.1,75.3 -142.7,78.0 C-141.4,80.7 -140.0,83.3 -138.6,86.0 C-137.3,88.7 -135.9,91.3 -134.6,94.0 C-133.2,96.7 -131.8,99.3 -130.5,102.0 C-129.1,104.7 -127.8,107.3 -126.4,110.0 C-125.0,112.7 -123.7,115.3 -122.3,118.0 C-120.9,120.7 -119.6,123.3 -118.2,126.0 C-116.8,128.7 -115.4,131.3 -114.0,134.0 C-112.7,136.7 -111.3,139.3 -109.9,142.0 C-108.4,144.7 -107.0,147.3 -105.6,150.0 C-104.2,152.7 -102.7,155.3 -101.2,158.0 C-99.7,160.7 -98.2,163.3 -96.7,166.0 C-95.2,168.7 -93.7,171.3 -92.1,174.0 C-90.6,176.7 -89.0,179.3 -87.4,182.0 C-85.8,184.7 -84.2,187.3 -82.6,190.0 C-81.0,192.7 -79.3,195.3 -77.7,198.0 C-76.0,200.7 -74.4,203.3 -72.7,206.0 C-71.0,208.7 -69.3,211.3 -67.6,214.0 C-65.9,216.7 -64.3,219.3 -62.6,222.0 C-60.9,224.7 -59.2,227.3 -57.6,230.0 C-55.9,232.7 -54.2,235.3 -52.6,238.0 C-51.0,240.7 -49.4,243.3 -47.8,246.0 C-46.2,248.7 -44.7,251.3 -43.1,254.0 C-41.6,256.7 -40.0,259.3 -38.5,262.0 C-36.9,264.7 -35.3,267.3 -33.8,270.0 C-32.2,272.7 -30.7,275.3 -29.1,278.0 C-27.6,280.7 -26.0,283.3 -24.5,286.0 C-22.9,288.7 -21.4,291.3 -19.9,294.0 C-18.3,296.7 -16.8,299.3 -15.3,302.0 C-13.8,304.7 -12.3,307.3 -10.8,310.0 C-9.3,312.7 -7.8,315.3 -6.4,318.0 C-4.9,320.7 -3.5,323.3 -2.1,326.0 C-0.6,328.7 0.8,331.3 2.2,334.0 C3.5,336.7 4.9,339.3 6.3,342.0 C7.6,344.7 8.9,347.3 10.3,350.0 C11.6,352.7 12.9,355.3 14.1,358.0 C15.4,360.7 16.7,363.3 17.9,366.0 C19.2,368.7 20.4,371.3 21.7,374.0 C22.9,376.7 24.1,379.3 25.3,382.0 C26.5,384.7 27.7,387.3 28.9,390.0 C30.0,392.7 31.2,395.3 32.3,398.0 C33.5,400.7 34.6,403.3 35.8,406.0 C36.9,408.7 38.0,411.3 39.2,414.0 C40.3,416.7 41.4,419.3 42.5,422.0 C43.6,424.7 44.7,427.3 45.7,430.0 C46.8,432.7 47.9,435.3 48.9,438.0 C50.0,440.7 51.1,443.3 52.1,446.0 C53.2,448.7 54.2,451.3 55.2,454.0 C56.3,456.7 57.3,459.3 58.3,462.0 C59.3,464.7 60.3,467.3 61.3,470.0 C62.3,472.7 63.2,475.3 64.2,478.0 C65.1,480.7 66.1,483.3 67.0,486.0 C67.9,488.7 68.8,491.3 69.7,494.0 C70.6,496.7 71.5,499.3 72.3,502.0 C73.1,504.7 74.0,507.3 74.7,510.0 C75.5,512.7 76.3,515.3 77.0,518.0 C77.7,520.7 78.4,523.3 79.1,526.0 C79.7,528.7 80.4,531.3 81.0,534.0 C81.6,536.7 82.2,539.3 82.7,542.0 C83.2,544.7 83.7,547.3 84.2,550.0 C84.7,552.7 85.1,555.3 85.4,558.0 C85.8,560.7 86.1,563.3 86.4,566.0 C86.6,568.7 86.9,571.3 87.0,574.0 C87.2,576.7 87.3,579.3 87.4,582.0 C87.5,584.7 87.5,587.3 87.4,590.0 C87.4,592.7 87.3,595.3 87.1,598.0 C86.9,600.7 86.7,603.3 86.4,606.0 C86.2,608.7 85.9,611.3 85.5,614.0 C85.1,616.7 84.7,619.3 84.2,622.0 C83.8,624.7 83.2,627.3 82.8,630.0 C82.3,632.7 81.8,635.3 81.3,638.0 C80.9,640.7 80.4,643.3 80.0,646.0 C79.5,648.7 79.0,651.3 78.5,654.0 C78.0,656.7 77.5,659.3 77.0,662.0 C76.5,664.7 76.0,667.3 75.5,670.0 C75.0,672.7 74.4,675.3 73.9,678.0 C73.4,680.7 72.6,684.7 72.4,686.0"/><path d="M-200.6,-10.0 C-199.9,-8.7 -197.6,-4.7 -196.2,-2.0 C-194.7,0.7 -193.2,3.3 -191.8,6.0 C-190.3,8.7 -188.8,11.3 -187.4,14.0 C-185.9,16.7 -184.5,19.3 -183.1,22.0 C-181.6,24.7 -180.2,27.3 -178.7,30.0 C-177.3,32.7 -175.9,35.3 -174.4,38.0 C-173.0,40.7 -171.6,43.3 -170.2,46.0 C-168.7,48.7 -167.3,51.3 -165.9,54.0 C-164.5,56.7 -163.1,59.3 -161.6,62.0 C-160.2,64.7 -158.8,67.3 -157.4,70.0 C-156.0,72.7 -154.6,75.3 -153.2,78.0 C-151.8,80.7 -150.3,83.3 -148.9,86.0 C-147.5,88.7 -146.1,91.3 -144.7,94.0 C-143.3,96.7 -141.9,99.3 -140.5,102.0 C-139.1,104.7 -137.7,107.3 -136.2,110.0 C-134.8,112.7 -133.4,115.3 -132.0,118.0 C-130.6,120.7 -129.2,123.3 -127.7,126.0 C-126.3,128.7 -124.9,131.3 -123.4,134.0 C-122.0,136.7 -120.6,139.3 -119.1,142.0 C-117.7,144.7 -116.2,147.3 -114.7,150.0 C-113.2,152.7 -111.7,155.3 -110.2,158.0 C-108.7,160.7 -107.1,163.3 -105.6,166.0 C-104.0,168.7 -102.4,171.3 -100.8,174.0 C-99.2,176.7 -97.6,179.3 -96.0,182.0 C-94.3,184.7 -92.7,187.3 -91.0,190.0 C-89.4,192.7 -87.7,195.3 -86.0,198.0 C-84.3,200.7 -82.5,203.3 -80.8,206.0 C-79.1,208.7 -77.4,211.3 -75.6,214.0 C-73.9,216.7 -72.2,219.3 -70.4,222.0 C-68.7,224.7 -67.0,227.3 -65.3,230.0 C-63.6,232.7 -61.9,235.3 -60.2,238.0 C-58.6,240.7 -56.9,243.3 -55.3,246.0 C-53.7,248.7 -52.1,251.3 -50.5,254.0 C-48.9,256.7 -47.3,259.3 -45.7,262.0 C-44.1,264.7 -42.5,267.3 -40.9,270.0 C-39.3,272.7 -37.7,275.3 -36.1,278.0 C-34.5,280.7 -32.9,283.3 -31.3,286.0 C-29.7,288.7 -28.2,291.3 -26.6,294.0 C-25.0,296.7 -23.5,299.3 -21.9,302.0 C-20.4,304.7 -18.8,307.3 -17.3,310.0 C-15.8,312.7 -14.3,315.3 -12.8,318.0 C-11.3,320.7 -9.8,323.3 -8.3,326.0 C-6.9,328.7 -5.4,331.3 -4.0,334.0 C-2.6,336.7 -1.2,339.3 0.2,342.0 C1.6,344.7 3.0,347.3 4.3,350.0 C5.7,352.7 7.0,355.3 8.3,358.0 C9.6,360.7 10.9,363.3 12.2,366.0 C13.5,368.7 14.8,371.3 16.0,374.0 C17.3,376.7 18.5,379.3 19.8,382.0 C21.0,384.7 22.2,387.3 23.4,390.0 C24.6,392.7 25.8,395.3 27.0,398.0 C28.2,400.7 29.4,403.3 30.6,406.0 C31.7,408.7 32.9,411.3 34.0,414.0 C35.2,416.7 36.3,419.3 37.4,422.0 C38.6,424.7 39.7,427.3 40.8,430.0 C41.9,432.7 43.0,435.3 44.1,438.0 C45.2,440.7 46.3,443.3 47.3,446.0 C48.4,448.7 49.5,451.3 50.5,454.0 C51.6,456.7 52.7,459.3 53.7,462.0 C54.7,464.7 55.8,467.3 56.8,470.0 C57.8,472.7 58.8,475.3 59.8,478.0 C60.7,480.7 61.7,483.3 62.7,486.0 C63.6,488.7 64.5,491.3 65.4,494.0 C66.4,496.7 67.2,499.3 68.1,502.0 C69.0,504.7 69.8,507.3 70.6,510.0 C71.4,512.7 72.2,515.3 72.9,518.0 C73.7,520.7 74.4,523.3 75.1,526.0 C75.8,528.7 76.4,531.3 77.1,534.0 C77.7,536.7 78.3,539.3 78.8,542.0 C79.4,544.7 79.9,547.3 80.4,550.0 C80.8,552.7 81.3,555.3 81.7,558.0 C82.0,560.7 82.4,563.3 82.7,566.0 C82.9,568.7 83.2,571.3 83.4,574.0 C83.6,576.7 83.7,579.3 83.8,582.0 C83.9,584.7 83.9,587.3 83.8,590.0 C83.8,592.7 83.7,595.3 83.5,598.0 C83.4,600.7 83.2,603.3 82.9,606.0 C82.6,608.7 82.3,611.3 82.0,614.0 C81.6,616.7 81.2,619.3 80.7,622.0 C80.3,624.7 79.7,627.3 79.3,630.0 C78.8,632.7 78.3,635.3 77.8,638.0 C77.4,640.7 76.9,643.3 76.5,646.0 C76.0,648.7 75.5,651.3 75.0,654.0 C74.5,656.7 74.0,659.3 73.5,662.0 C73.0,664.7 72.5,667.3 72.0,670.0 C71.5,672.7 70.9,675.3 70.4,678.0 C69.9,680.7 69.1,684.7 68.9,686.0"/><path d="M-212.8,-10.0 C-212.1,-8.7 -209.7,-4.7 -208.2,-2.0 C-206.7,0.7 -205.2,3.3 -203.6,6.0 C-202.1,8.7 -200.6,11.3 -199.1,14.0 C-197.6,16.7 -196.1,19.3 -194.6,22.0 C-193.1,24.7 -191.6,27.3 -190.1,30.0 C-188.6,32.7 -187.2,35.3 -185.7,38.0 C-184.2,40.7 -182.7,43.3 -181.2,46.0 C-179.8,48.7 -178.3,51.3 -176.8,54.0 C-175.3,56.7 -173.9,59.3 -172.4,62.0 C-170.9,64.7 -169.5,67.3 -168.0,70.0 C-166.5,72.7 -165.1,75.3 -163.6,78.0 C-162.1,80.7 -160.7,83.3 -159.2,86.0 C-157.8,88.7 -156.3,91.3 -154.8,94.0 C-153.4,96.7 -151.9,99.3 -150.5,102.0 C-149.0,104.7 -147.5,107.3 -146.1,110.0 C-144.6,112.7 -143.2,115.3 -141.7,118.0 C-140.2,120.7 -138.8,123.3 -137.3,126.0 C-135.8,128.7 -134.3,131.3 -132.8,134.0 C-131.4,136.7 -129.9,139.3 -128.4,142.0 C-126.9,144.7 -125.4,147.3 -123.8,150.0 C-122.3,152.7 -120.7,155.3 -119.1,158.0 C-117.6,160.7 -116.0,163.3 -114.4,166.0 C-112.8,168.7 -111.2,171.3 -109.5,174.0 C-107.9,176.7 -106.2,179.3 -104.5,182.0 C-102.8,184.7 -101.1,187.3 -99.4,190.0 C-97.7,192.7 -96.0,195.3 -94.2,198.0 C-92.5,200.7 -90.7,203.3 -89.0,206.0 C-87.2,208.7 -85.4,211.3 -83.6,214.0 C-81.9,216.7 -80.1,219.3 -78.3,222.0 C-76.5,224.7 -74.8,227.3 -73.0,230.0 C-71.3,232.7 -69.5,235.3 -67.8,238.0 C-66.1,240.7 -64.4,243.3 -62.8,246.0 C-61.1,248.7 -59.5,251.3 -57.8,254.0 C-56.2,256.7 -54.6,259.3 -52.9,262.0 C-51.3,264.7 -49.6,267.3 -48.0,270.0 C-46.4,272.7 -44.7,275.3 -43.1,278.0 C-41.4,280.7 -39.8,283.3 -38.2,286.0 C-36.6,288.7 -34.9,291.3 -33.3,294.0 C-31.7,296.7 -30.1,299.3 -28.5,302.0 C-27.0,304.7 -25.4,307.3 -23.8,310.0 C-22.2,312.7 -20.7,315.3 -19.2,318.0 C-17.6,320.7 -16.1,323.3 -14.6,326.0 C-13.1,328.7 -11.6,331.3 -10.2,334.0 C-8.7,336.7 -7.3,339.3 -5.8,342.0 C-4.4,344.7 -3.0,347.3 -1.6,350.0 C-0.2,352.7 1.1,355.3 2.5,358.0 C3.8,360.7 5.2,363.3 6.5,366.0 C7.8,368.7 9.1,371.3 10.4,374.0 C11.7,376.7 13.0,379.3 14.2,382.0 C15.5,384.7 16.8,387.3 18.0,390.0 C19.3,392.7 20.5,395.3 21.7,398.0 C22.9,400.7 24.1,403.3 25.3,406.0 C26.5,408.7 27.7,411.3 28.9,414.0 C30.1,416.7 31.2,419.3 32.4,422.0 C33.6,424.7 34.7,427.3 35.8,430.0 C37.0,432.7 38.1,435.3 39.2,438.0 C40.4,440.7 41.5,443.3 42.6,446.0 C43.7,448.7 44.8,451.3 45.9,454.0 C47.0,456.7 48.0,459.3 49.1,462.0 C50.2,464.7 51.2,467.3 52.3,470.0 C53.3,472.7 54.3,475.3 55.3,478.0 C56.3,480.7 57.3,483.3 58.3,486.0 C59.3,488.7 60.2,491.3 61.2,494.0 C62.1,496.7 63.0,499.3 63.9,502.0 C64.8,504.7 65.6,507.3 66.5,510.0 C67.3,512.7 68.1,515.3 68.9,518.0 C69.6,520.7 70.4,523.3 71.1,526.0 C71.8,528.7 72.5,531.3 73.1,534.0 C73.8,536.7 74.4,539.3 75.0,542.0 C75.5,544.7 76.1,547.3 76.6,550.0 C77.0,552.7 77.5,555.3 77.9,558.0 C78.3,560.7 78.6,563.3 78.9,566.0 C79.2,568.7 79.5,571.3 79.7,574.0 C79.9,576.7 80.1,579.3 80.2,582.0 C80.3,584.7 80.3,587.3 80.3,590.0 C80.2,592.7 80.1,595.3 80.0,598.0 C79.8,600.7 79.6,603.3 79.4,606.0 C79.1,608.7 78.8,611.3 78.5,614.0 C78.1,616.7 77.7,619.3 77.2,622.0 C76.8,624.7 76.2,627.3 75.8,630.0 C75.3,632.7 74.8,635.3 74.3,638.0 C73.9,640.7 73.4,643.3 73.0,646.0 C72.5,648.7 72.0,651.3 71.5,654.0 C71.0,656.7 70.5,659.3 70.0,662.0 C69.5,664.7 69.0,667.3 68.5,670.0 C68.0,672.7 67.4,675.3 66.9,678.0 C66.4,680.7 65.6,684.7 65.4,686.0"/><path d="M-225.0,-10.0 C-224.2,-8.7 -221.8,-4.7 -220.2,-2.0 C-218.7,0.7 -217.1,3.3 -215.5,6.0 C-213.9,8.7 -212.4,11.3 -210.8,14.0 C-209.3,16.7 -207.7,19.3 -206.2,22.0 C-204.6,24.7 -203.1,27.3 -201.5,30.0 C-200.0,32.7 -198.4,35.3 -196.9,38.0 C-195.4,40.7 -193.8,43.3 -192.3,46.0 C-190.8,48.7 -189.3,51.3 -187.7,54.0 C-186.2,56.7 -184.7,59.3 -183.2,62.0 C-181.6,64.7 -180.1,67.3 -178.6,70.0 C-177.1,72.7 -175.6,75.3 -174.1,78.0 C-172.5,80.7 -171.0,83.3 -169.5,86.0 C-168.0,88.7 -166.5,91.3 -165.0,94.0 C-163.5,96.7 -162.0,99.3 -160.5,102.0 C-158.9,104.7 -157.4,107.3 -155.9,110.0 C-154.4,112.7 -152.9,115.3 -151.4,118.0 C-149.9,120.7 -148.4,123.3 -146.8,126.0 C-145.3,128.7 -143.8,131.3 -142.2,134.0 C-140.7,136.7 -139.2,139.3 -137.6,142.0 C-136.1,144.7 -134.5,147.3 -132.9,150.0 C-131.3,152.7 -129.7,155.3 -128.1,158.0 C-126.5,160.7 -124.9,163.3 -123.2,166.0 C-121.6,168.7 -119.9,171.3 -118.2,174.0 C-116.5,176.7 -114.8,179.3 -113.1,182.0 C-111.3,184.7 -109.6,187.3 -107.8,190.0 C-106.1,192.7 -104.3,195.3 -102.5,198.0 C-100.7,200.7 -98.9,203.3 -97.1,206.0 C-95.3,208.7 -93.5,211.3 -91.6,214.0 C-89.8,216.7 -88.0,219.3 -86.2,222.0 C-84.4,224.7 -82.6,227.3 -80.8,230.0 C-79.0,232.7 -77.2,235.3 -75.4,238.0 C-73.7,240.7 -72.0,243.3 -70.3,246.0 C-68.5,248.7 -66.9,251.3 -65.2,254.0 C-63.5,256.7 -61.8,259.3 -60.1,262.0 C-58.5,264.7 -56.8,267.3 -55.1,270.0 C-53.4,272.7 -51.7,275.3 -50.1,278.0 C-48.4,280.7 -46.7,283.3 -45.0,286.0 C-43.4,288.7 -41.7,291.3 -40.1,294.0 C-38.4,296.7 -36.8,299.3 -35.2,302.0 C-33.5,304.7 -31.9,307.3 -30.3,310.0 C-28.7,312.7 -27.1,315.3 -25.6,318.0 C-24.0,320.7 -22.4,323.3 -20.9,326.0 C-19.3,328.7 -17.8,331.3 -16.3,334.0 C-14.8,336.7 -13.4,339.3 -11.9,342.0 C-10.4,344.7 -9.0,347.3 -7.6,350.0 C-6.2,352.7 -4.8,355.3 -3.4,358.0 C-2.0,360.7 -0.6,363.3 0.8,366.0 C2.1,368.7 3.4,371.3 4.8,374.0 C6.1,376.7 7.4,379.3 8.7,382.0 C10.0,384.7 11.3,387.3 12.6,390.0 C13.9,392.7 15.1,395.3 16.4,398.0 C17.6,400.7 18.9,403.3 20.1,406.0 C21.3,408.7 22.6,411.3 23.8,414.0 C25.0,416.7 26.2,419.3 27.4,422.0 C28.6,424.7 29.7,427.3 30.9,430.0 C32.1,432.7 33.2,435.3 34.4,438.0 C35.5,440.7 36.7,443.3 37.8,446.0 C38.9,448.7 40.1,451.3 41.2,454.0 C42.3,456.7 43.4,459.3 44.5,462.0 C45.6,464.7 46.7,467.3 47.7,470.0 C48.8,472.7 49.9,475.3 50.9,478.0 C51.9,480.7 52.9,483.3 53.9,486.0 C54.9,488.7 55.9,491.3 56.9,494.0 C57.8,496.7 58.8,499.3 59.7,502.0 C60.6,504.7 61.5,507.3 62.3,510.0 C63.2,512.7 64.0,515.3 64.8,518.0 C65.6,520.7 66.3,523.3 67.1,526.0 C67.8,528.7 68.5,531.3 69.2,534.0 C69.8,536.7 70.5,539.3 71.1,542.0 C71.7,544.7 72.2,547.3 72.7,550.0 C73.2,552.7 73.7,555.3 74.1,558.0 C74.5,560.7 74.9,563.3 75.2,566.0 C75.5,568.7 75.8,571.3 76.0,574.0 C76.2,576.7 76.4,579.3 76.5,582.0 C76.6,584.7 76.7,587.3 76.7,590.0 C76.6,592.7 76.6,595.3 76.4,598.0 C76.3,600.7 76.1,603.3 75.8,606.0 C75.6,608.7 75.3,611.3 75.0,614.0 C74.6,616.7 74.2,619.3 73.7,622.0 C73.3,624.7 72.7,627.3 72.3,630.0 C71.8,632.7 71.3,635.3 70.8,638.0 C70.4,640.7 69.9,643.3 69.5,646.0 C69.0,648.7 68.5,651.3 68.0,654.0 C67.5,656.7 67.0,659.3 66.5,662.0 C66.0,664.7 65.5,667.3 65.0,670.0 C64.5,672.7 63.9,675.3 63.4,678.0 C62.9,680.7 62.1,684.7 61.9,686.0"/><path d="M-237.2,-10.0 C-236.4,-8.7 -233.9,-4.7 -232.3,-2.0 C-230.6,0.7 -229.0,3.3 -227.4,6.0 C-225.8,8.7 -224.2,11.3 -222.5,14.0 C-220.9,16.7 -219.3,19.3 -217.7,22.0 C-216.1,24.7 -214.5,27.3 -212.9,30.0 C-211.3,32.7 -209.7,35.3 -208.1,38.0 C-206.6,40.7 -205.0,43.3 -203.4,46.0 C-201.8,48.7 -200.2,51.3 -198.6,54.0 C-197.1,56.7 -195.5,59.3 -193.9,62.0 C-192.3,64.7 -190.8,67.3 -189.2,70.0 C-187.6,72.7 -186.1,75.3 -184.5,78.0 C-182.9,80.7 -181.4,83.3 -179.8,86.0 C-178.3,88.7 -176.7,91.3 -175.1,94.0 C-173.6,96.7 -172.0,99.3 -170.5,102.0 C-168.9,104.7 -167.3,107.3 -165.8,110.0 C-164.2,112.7 -162.6,115.3 -161.1,118.0 C-159.5,120.7 -157.9,123.3 -156.4,126.0 C-154.8,128.7 -153.2,131.3 -151.6,134.0 C-150.1,136.7 -148.5,139.3 -146.9,142.0 C-145.3,144.7 -143.7,147.3 -142.0,150.0 C-140.4,152.7 -138.7,155.3 -137.1,158.0 C-135.4,160.7 -133.7,163.3 -132.0,166.0 C-130.3,168.7 -128.6,171.3 -126.9,174.0 C-125.2,176.7 -123.4,179.3 -121.6,182.0 C-119.8,184.7 -118.1,187.3 -116.3,190.0 C-114.4,192.7 -112.6,195.3 -110.8,198.0 C-108.9,200.7 -107.1,203.3 -105.2,206.0 C-103.4,208.7 -101.5,211.3 -99.6,214.0 C-97.8,216.7 -95.9,219.3 -94.1,222.0 C-92.2,224.7 -90.3,227.3 -88.5,230.0 C-86.7,232.7 -84.9,235.3 -83.1,238.0 C-81.3,240.7 -79.5,243.3 -77.7,246.0 C-76.0,248.7 -74.3,251.3 -72.5,254.0 C-70.8,256.7 -69.1,259.3 -67.4,262.0 C-65.6,264.7 -63.9,267.3 -62.2,270.0 C-60.5,272.7 -58.8,275.3 -57.0,278.0 C-55.3,280.7 -53.6,283.3 -51.9,286.0 C-50.2,288.7 -48.5,291.3 -46.8,294.0 C-45.1,296.7 -43.5,299.3 -41.8,302.0 C-40.1,304.7 -38.5,307.3 -36.8,310.0 C-35.2,312.7 -33.6,315.3 -31.9,318.0 C-30.3,320.7 -28.7,323.3 -27.2,326.0 C-25.6,328.7 -24.0,331.3 -22.5,334.0 C-21.0,336.7 -19.4,339.3 -17.9,342.0 C-16.4,344.7 -15.0,347.3 -13.5,350.0 C-12.1,352.7 -10.6,355.3 -9.2,358.0 C-7.8,360.7 -6.4,363.3 -5.0,366.0 C-3.6,368.7 -2.2,371.3 -0.8,374.0 C0.5,376.7 1.9,379.3 3.2,382.0 C4.5,384.7 5.9,387.3 7.2,390.0 C8.5,392.7 9.8,395.3 11.1,398.0 C12.4,400.7 13.6,403.3 14.9,406.0 C16.1,408.7 17.4,411.3 18.6,414.0 C19.9,416.7 21.1,419.3 22.3,422.0 C23.6,424.7 24.8,427.3 26.0,430.0 C27.2,432.7 28.4,435.3 29.5,438.0 C30.7,440.7 31.9,443.3 33.1,446.0 C34.2,448.7 35.4,451.3 36.5,454.0 C37.7,456.7 38.8,459.3 39.9,462.0 C41.0,464.7 42.1,467.3 43.2,470.0 C44.3,472.7 45.4,475.3 46.5,478.0 C47.5,480.7 48.6,483.3 49.6,486.0 C50.6,488.7 51.6,491.3 52.6,494.0 C53.6,496.7 54.6,499.3 55.5,502.0 C56.4,504.7 57.3,507.3 58.2,510.0 C59.1,512.7 59.9,515.3 60.7,518.0 C61.5,520.7 62.3,523.3 63.1,526.0 C63.8,528.7 64.6,531.3 65.2,534.0 C65.9,536.7 66.6,539.3 67.2,542.0 C67.8,544.7 68.4,547.3 68.9,550.0 C69.4,552.7 69.9,555.3 70.3,558.0 C70.8,560.7 71.2,563.3 71.5,566.0 C71.8,568.7 72.1,571.3 72.3,574.0 C72.6,576.7 72.8,579.3 72.9,582.0 C73.0,584.7 73.1,587.3 73.1,590.0 C73.1,592.7 73.0,595.3 72.9,598.0 C72.7,600.7 72.5,603.3 72.3,606.0 C72.1,608.7 71.8,611.3 71.5,614.0 C71.1,616.7 70.7,619.3 70.2,622.0 C69.8,624.7 69.2,627.3 68.8,630.0 C68.3,632.7 67.8,635.3 67.3,638.0 C66.9,640.7 66.4,643.3 66.0,646.0 C65.5,648.7 65.0,651.3 64.5,654.0 C64.0,656.7 63.5,659.3 63.0,662.0 C62.5,664.7 62.0,667.3 61.5,670.0 C61.0,672.7 60.4,675.3 59.9,678.0 C59.4,680.7 58.6,684.7 58.4,686.0"/><path d="M-249.5,-10.0 C-248.6,-8.7 -246.0,-4.7 -244.3,-2.0 C-242.6,0.7 -241.0,3.3 -239.3,6.0 C-237.6,8.7 -235.9,11.3 -234.3,14.0 C-232.6,16.7 -230.9,19.3 -229.3,22.0 C-227.6,24.7 -226.0,27.3 -224.3,30.0 C-222.7,32.7 -221.0,35.3 -219.4,38.0 C-217.7,40.7 -216.1,43.3 -214.5,46.0 C-212.8,48.7 -211.2,51.3 -209.6,54.0 C-207.9,56.7 -206.3,59.3 -204.7,62.0 C-203.0,64.7 -201.4,67.3 -199.8,70.0 C-198.2,72.7 -196.6,75.3 -195.0,78.0 C-193.3,80.7 -191.7,83.3 -190.1,86.0 C-188.5,88.7 -186.9,91.3 -185.3,94.0 C-183.7,96.7 -182.1,99.3 -180.4,102.0 C-178.8,104.7 -177.2,107.3 -175.6,110.0 C-174.0,112.7 -172.4,115.3 -170.8,118.0 C-169.2,120.7 -167.5,123.3 -165.9,126.0 C-164.3,128.7 -162.7,131.3 -161.0,134.0 C-159.4,136.7 -157.8,139.3 -156.1,142.0 C-154.5,144.7 -152.8,147.3 -151.1,150.0 C-149.5,152.7 -147.8,155.3 -146.1,158.0 C-144.3,160.7 -142.6,163.3 -140.9,166.0 C-139.1,168.7 -137.4,171.3 -135.6,174.0 C-133.8,176.7 -132.0,179.3 -130.2,182.0 C-128.3,184.7 -126.5,187.3 -124.7,190.0 C-122.8,192.7 -120.9,195.3 -119.1,198.0 C-117.2,200.7 -115.3,203.3 -113.4,206.0 C-111.5,208.7 -109.6,211.3 -107.7,214.0 C-105.7,216.7 -103.8,219.3 -101.9,222.0 C-100.0,224.7 -98.1,227.3 -96.3,230.0 C-94.4,232.7 -92.5,235.3 -90.7,238.0 C-88.8,240.7 -87.0,243.3 -85.2,246.0 C-83.4,248.7 -81.7,251.3 -79.9,254.0 C-78.1,256.7 -76.4,259.3 -74.6,262.0 C-72.8,264.7 -71.1,267.3 -69.3,270.0 C-67.5,272.7 -65.8,275.3 -64.0,278.0 C-62.3,280.7 -60.5,283.3 -58.8,286.0 C-57.0,288.7 -55.3,291.3 -53.6,294.0 C-51.8,296.7 -50.1,299.3 -48.4,302.0 C-46.7,304.7 -45.0,307.3 -43.3,310.0 C-41.6,312.7 -40.0,315.3 -38.3,318.0 C-36.7,320.7 -35.0,323.3 -33.4,326.0 C-31.8,328.7 -30.2,331.3 -28.7,334.0 C-27.1,336.7 -25.5,339.3 -24.0,342.0 C-22.5,344.7 -21.0,347.3 -19.5,350.0 C-18.0,352.7 -16.5,355.3 -15.0,358.0 C-13.6,360.7 -12.1,363.3 -10.7,366.0 C-9.3,368.7 -7.9,371.3 -6.5,374.0 C-5.1,376.7 -3.7,379.3 -2.3,382.0 C-0.9,384.7 0.4,387.3 1.7,390.0 C3.1,392.7 4.4,395.3 5.7,398.0 C7.1,400.7 8.4,403.3 9.7,406.0 C11.0,408.7 12.2,411.3 13.5,414.0 C14.8,416.7 16.0,419.3 17.3,422.0 C18.5,424.7 19.8,427.3 21.0,430.0 C22.3,432.7 23.5,435.3 24.7,438.0 C25.9,440.7 27.1,443.3 28.3,446.0 C29.5,448.7 30.7,451.3 31.8,454.0 C33.0,456.7 34.2,459.3 35.3,462.0 C36.5,464.7 37.6,467.3 38.7,470.0 C39.8,472.7 40.9,475.3 42.0,478.0 C43.1,480.7 44.2,483.3 45.2,486.0 C46.3,488.7 47.3,491.3 48.3,494.0 C49.3,496.7 50.3,499.3 51.3,502.0 C52.2,504.7 53.2,507.3 54.1,510.0 C55.0,512.7 55.8,515.3 56.7,518.0 C57.5,520.7 58.3,523.3 59.1,526.0 C59.8,528.7 60.6,531.3 61.3,534.0 C62.0,536.7 62.7,539.3 63.3,542.0 C63.9,544.7 64.5,547.3 65.1,550.0 C65.6,552.7 66.1,555.3 66.6,558.0 C67.0,560.7 67.4,563.3 67.8,566.0 C68.1,568.7 68.4,571.3 68.7,574.0 C68.9,576.7 69.1,579.3 69.3,582.0 C69.4,584.7 69.5,587.3 69.5,590.0 C69.5,592.7 69.4,595.3 69.3,598.0 C69.2,600.7 69.0,603.3 68.8,606.0 C68.6,608.7 68.3,611.3 67.9,614.0 C67.6,616.7 67.2,619.3 66.7,622.0 C66.3,624.7 65.7,627.3 65.3,630.0 C64.8,632.7 64.3,635.3 63.8,638.0 C63.4,640.7 62.9,643.3 62.5,646.0 C62.0,648.7 61.5,651.3 61.0,654.0 C60.5,656.7 60.0,659.3 59.5,662.0 C59.0,664.7 58.5,667.3 58.0,670.0 C57.5,672.7 56.9,675.3 56.4,678.0 C55.9,680.7 55.1,684.7 54.9,686.0"/><path d="M-261.7,-10.0 C-260.8,-8.7 -258.1,-4.7 -256.4,-2.0 C-254.6,0.7 -252.9,3.3 -251.1,6.0 C-249.4,8.7 -247.7,11.3 -246.0,14.0 C-244.2,16.7 -242.5,19.3 -240.8,22.0 C-239.1,24.7 -237.4,27.3 -235.7,30.0 C-234.0,32.7 -232.3,35.3 -230.6,38.0 C-228.9,40.7 -227.2,43.3 -225.5,46.0 C-223.8,48.7 -222.2,51.3 -220.5,54.0 C-218.8,56.7 -217.1,59.3 -215.4,62.0 C-213.8,64.7 -212.1,67.3 -210.4,70.0 C-208.7,72.7 -207.1,75.3 -205.4,78.0 C-203.7,80.7 -202.1,83.3 -200.4,86.0 C-198.7,88.7 -197.1,91.3 -195.4,94.0 C-193.8,96.7 -192.1,99.3 -190.4,102.0 C-188.8,104.7 -187.1,107.3 -185.5,110.0 C-183.8,112.7 -182.1,115.3 -180.5,118.0 C-178.8,120.7 -177.1,123.3 -175.5,126.0 C-173.8,128.7 -172.1,131.3 -170.4,134.0 C-168.8,136.7 -167.1,139.3 -165.4,142.0 C-163.7,144.7 -162.0,147.3 -160.3,150.0 C-158.5,152.7 -156.8,155.3 -155.0,158.0 C-153.3,160.7 -151.5,163.3 -149.7,166.0 C-147.9,168.7 -146.1,171.3 -144.3,174.0 C-142.4,176.7 -140.6,179.3 -138.7,182.0 C-136.8,184.7 -135.0,187.3 -133.1,190.0 C-131.2,192.7 -129.3,195.3 -127.3,198.0 C-125.4,200.7 -123.5,203.3 -121.5,206.0 C-119.6,208.7 -117.6,211.3 -115.7,214.0 C-113.7,216.7 -111.7,219.3 -109.8,222.0 C-107.9,224.7 -105.9,227.3 -104.0,230.0 C-102.1,232.7 -100.2,235.3 -98.3,238.0 C-96.4,240.7 -94.5,243.3 -92.7,246.0 C-90.9,248.7 -89.1,251.3 -87.3,254.0 C-85.4,256.7 -83.6,259.3 -81.8,262.0 C-80.0,264.7 -78.2,267.3 -76.4,270.0 C-74.6,272.7 -72.8,275.3 -71.0,278.0 C-69.2,280.7 -67.4,283.3 -65.6,286.0 C-63.8,288.7 -62.1,291.3 -60.3,294.0 C-58.5,296.7 -56.8,299.3 -55.0,302.0 C-53.3,304.7 -51.5,307.3 -49.8,310.0 C-48.1,312.7 -46.4,315.3 -44.7,318.0 C-43.0,320.7 -41.4,323.3 -39.7,326.0 C-38.1,328.7 -36.4,331.3 -34.8,334.0 C-33.2,336.7 -31.6,339.3 -30.0,342.0 C-28.5,344.7 -26.9,347.3 -25.4,350.0 C-23.9,352.7 -22.4,355.3 -20.9,358.0 C-19.4,360.7 -17.9,363.3 -16.4,366.0 C-15.0,368.7 -13.5,371.3 -12.1,374.0 C-10.7,376.7 -9.2,379.3 -7.8,382.0 C-6.4,384.7 -5.0,387.3 -3.7,390.0 C-2.3,392.7 -0.9,395.3 0.4,398.0 C1.8,400.7 3.1,403.3 4.4,406.0 C5.8,408.7 7.1,411.3 8.4,414.0 C9.7,416.7 11.0,419.3 12.3,422.0 C13.5,424.7 14.8,427.3 16.1,430.0 C17.3,432.7 18.6,435.3 19.8,438.0 C21.1,440.7 22.3,443.3 23.5,446.0 C24.7,448.7 26.0,451.3 27.2,454.0 C28.4,456.7 29.5,459.3 30.7,462.0 C31.9,464.7 33.1,467.3 34.2,470.0 C35.4,472.7 36.5,475.3 37.6,478.0 C38.7,480.7 39.8,483.3 40.9,486.0 C42.0,488.7 43.0,491.3 44.0,494.0 C45.1,496.7 46.1,499.3 47.1,502.0 C48.1,504.7 49.0,507.3 49.9,510.0 C50.8,512.7 51.7,515.3 52.6,518.0 C53.5,520.7 54.3,523.3 55.1,526.0 C55.9,528.7 56.6,531.3 57.4,534.0 C58.1,536.7 58.8,539.3 59.4,542.0 C60.1,544.7 60.7,547.3 61.3,550.0 C61.8,552.7 62.3,555.3 62.8,558.0 C63.3,560.7 63.7,563.3 64.1,566.0 C64.4,568.7 64.7,571.3 65.0,574.0 C65.3,576.7 65.5,579.3 65.6,582.0 C65.8,584.7 65.9,587.3 65.9,590.0 C65.9,592.7 65.9,595.3 65.7,598.0 C65.6,600.7 65.5,603.3 65.3,606.0 C65.0,608.7 64.8,611.3 64.4,614.0 C64.1,616.7 63.7,619.3 63.2,622.0 C62.8,624.7 62.2,627.3 61.8,630.0 C61.3,632.7 60.8,635.3 60.3,638.0 C59.9,640.7 59.4,643.3 59.0,646.0 C58.5,648.7 58.0,651.3 57.5,654.0 C57.0,656.7 56.5,659.3 56.0,662.0 C55.5,664.7 55.0,667.3 54.5,670.0 C54.0,672.7 53.4,675.3 52.9,678.0 C52.4,680.7 51.6,684.7 51.4,686.0"/><path d="M-273.9,-10.0 C-273.0,-8.7 -270.2,-4.7 -268.4,-2.0 C-266.6,0.7 -264.8,3.3 -263.0,6.0 C-261.2,8.7 -259.5,11.3 -257.7,14.0 C-255.9,16.7 -254.1,19.3 -252.4,22.0 C-250.6,24.7 -248.8,27.3 -247.1,30.0 C-245.3,32.7 -243.6,35.3 -241.8,38.0 C-240.1,40.7 -238.3,43.3 -236.6,46.0 C-234.9,48.7 -233.1,51.3 -231.4,54.0 C-229.6,56.7 -227.9,59.3 -226.2,62.0 C-224.5,64.7 -222.7,67.3 -221.0,70.0 C-219.3,72.7 -217.6,75.3 -215.8,78.0 C-214.1,80.7 -212.4,83.3 -210.7,86.0 C-209.0,88.7 -207.3,91.3 -205.6,94.0 C-203.8,96.7 -202.1,99.3 -200.4,102.0 C-198.7,104.7 -197.0,107.3 -195.3,110.0 C-193.6,112.7 -191.9,115.3 -190.2,118.0 C-188.4,120.7 -186.7,123.3 -185.0,126.0 C-183.3,128.7 -181.6,131.3 -179.8,134.0 C-178.1,136.7 -176.4,139.3 -174.6,142.0 C-172.9,144.7 -171.1,147.3 -169.4,150.0 C-167.6,152.7 -165.8,155.3 -164.0,158.0 C-162.2,160.7 -160.4,163.3 -158.5,166.0 C-156.7,168.7 -154.8,171.3 -152.9,174.0 C-151.1,176.7 -149.2,179.3 -147.3,182.0 C-145.3,184.7 -143.4,187.3 -141.5,190.0 C-139.5,192.7 -137.6,195.3 -135.6,198.0 C-133.6,200.7 -131.6,203.3 -129.7,206.0 C-127.7,208.7 -125.7,211.3 -123.7,214.0 C-121.7,216.7 -119.7,219.3 -117.7,222.0 C-115.7,224.7 -113.7,227.3 -111.7,230.0 C-109.8,232.7 -107.8,235.3 -105.9,238.0 C-104.0,240.7 -102.1,243.3 -100.2,246.0 C-98.3,248.7 -96.5,251.3 -94.6,254.0 C-92.8,256.7 -90.9,259.3 -89.1,262.0 C-87.2,264.7 -85.4,267.3 -83.5,270.0 C-81.7,272.7 -79.8,275.3 -78.0,278.0 C-76.2,280.7 -74.3,283.3 -72.5,286.0 C-70.7,288.7 -68.8,291.3 -67.0,294.0 C-65.2,296.7 -63.4,299.3 -61.7,302.0 C-59.9,304.7 -58.1,307.3 -56.3,310.0 C-54.6,312.7 -52.8,315.3 -51.1,318.0 C-49.4,320.7 -47.7,323.3 -46.0,326.0 C-44.3,328.7 -42.6,331.3 -41.0,334.0 C-39.3,336.7 -37.7,339.3 -36.1,342.0 C-34.5,344.7 -32.9,347.3 -31.3,350.0 C-29.8,352.7 -28.2,355.3 -26.7,358.0 C-25.2,360.7 -23.7,363.3 -22.2,366.0 C-20.7,368.7 -19.2,371.3 -17.7,374.0 C-16.3,376.7 -14.8,379.3 -13.4,382.0 C-11.9,384.7 -10.5,387.3 -9.1,390.0 C-7.7,392.7 -6.3,395.3 -4.9,398.0 C-3.5,400.7 -2.1,403.3 -0.8,406.0 C0.6,408.7 1.9,411.3 3.3,414.0 C4.6,416.7 5.9,419.3 7.2,422.0 C8.5,424.7 9.8,427.3 11.1,430.0 C12.4,432.7 13.7,435.3 15.0,438.0 C16.2,440.7 17.5,443.3 18.8,446.0 C20.0,448.7 21.3,451.3 22.5,454.0 C23.7,456.7 24.9,459.3 26.1,462.0 C27.3,464.7 28.5,467.3 29.7,470.0 C30.9,472.7 32.0,475.3 33.2,478.0 C34.3,480.7 35.4,483.3 36.5,486.0 C37.6,488.7 38.7,491.3 39.8,494.0 C40.8,496.7 41.9,499.3 42.9,502.0 C43.9,504.7 44.8,507.3 45.8,510.0 C46.7,512.7 47.7,515.3 48.5,518.0 C49.4,520.7 50.3,523.3 51.1,526.0 C51.9,528.7 52.7,531.3 53.4,534.0 C54.2,536.7 54.9,539.3 55.6,542.0 C56.2,544.7 56.9,547.3 57.4,550.0 C58.0,552.7 58.6,555.3 59.0,558.0 C59.5,560.7 60.0,563.3 60.3,566.0 C60.7,568.7 61.1,571.3 61.3,574.0 C61.6,576.7 61.9,579.3 62.0,582.0 C62.2,584.7 62.3,587.3 62.3,590.0 C62.3,592.7 62.3,595.3 62.2,598.0 C62.1,600.7 61.9,603.3 61.7,606.0 C61.5,608.7 61.3,611.3 60.9,614.0 C60.6,616.7 60.2,619.3 59.7,622.0 C59.3,624.7 58.7,627.3 58.3,630.0 C57.8,632.7 57.3,635.3 56.8,638.0 C56.4,640.7 55.9,643.3 55.5,646.0 C55.0,648.7 54.5,651.3 54.0,654.0 C53.5,656.7 53.0,659.3 52.5,662.0 C52.0,664.7 51.5,667.3 51.0,670.0 C50.5,672.7 49.9,675.3 49.4,678.0 C48.9,680.7 48.1,684.7 47.9,686.0"/><path d="M-286.1,-10.0 C-285.1,-8.7 -282.3,-4.7 -280.5,-2.0 C-278.6,0.7 -276.7,3.3 -274.9,6.0 C-273.1,8.7 -271.2,11.3 -269.4,14.0 C-267.6,16.7 -265.7,19.3 -263.9,22.0 C-262.1,24.7 -260.3,27.3 -258.5,30.0 C-256.7,32.7 -254.9,35.3 -253.1,38.0 C-251.3,40.7 -249.5,43.3 -247.7,46.0 C-245.9,48.7 -244.1,51.3 -242.3,54.0 C-240.5,56.7 -238.7,59.3 -236.9,62.0 C-235.2,64.7 -233.4,67.3 -231.6,70.0 C-229.8,72.7 -228.1,75.3 -226.3,78.0 C-224.5,80.7 -222.8,83.3 -221.0,86.0 C-219.2,88.7 -217.5,91.3 -215.7,94.0 C-213.9,96.7 -212.2,99.3 -210.4,102.0 C-208.7,104.7 -206.9,107.3 -205.1,110.0 C-203.4,112.7 -201.6,115.3 -199.8,118.0 C-198.1,120.7 -196.3,123.3 -194.6,126.0 C-192.8,128.7 -191.0,131.3 -189.2,134.0 C-187.5,136.7 -185.7,139.3 -183.9,142.0 C-182.1,144.7 -180.3,147.3 -178.5,150.0 C-176.7,152.7 -174.8,155.3 -173.0,158.0 C-171.1,160.7 -169.2,163.3 -167.3,166.0 C-165.5,168.7 -163.6,171.3 -161.6,174.0 C-159.7,176.7 -157.8,179.3 -155.8,182.0 C-153.8,184.7 -151.9,187.3 -149.9,190.0 C-147.9,192.7 -145.9,195.3 -143.9,198.0 C-141.9,200.7 -139.8,203.3 -137.8,206.0 C-135.8,208.7 -133.7,211.3 -131.7,214.0 C-129.6,216.7 -127.6,219.3 -125.5,222.0 C-123.5,224.7 -121.5,227.3 -119.5,230.0 C-117.5,232.7 -115.5,235.3 -113.5,238.0 C-111.5,240.7 -109.6,243.3 -107.7,246.0 C-105.7,248.7 -103.9,251.3 -102.0,254.0 C-100.1,256.7 -98.2,259.3 -96.3,262.0 C-94.4,264.7 -92.5,267.3 -90.6,270.0 C-88.7,272.7 -86.8,275.3 -85.0,278.0 C-83.1,280.7 -81.2,283.3 -79.4,286.0 C-77.5,288.7 -75.6,291.3 -73.8,294.0 C-71.9,296.7 -70.1,299.3 -68.3,302.0 C-66.4,304.7 -64.6,307.3 -62.8,310.0 C-61.0,312.7 -59.3,315.3 -57.5,318.0 C-55.7,320.7 -54.0,323.3 -52.3,326.0 C-50.5,328.7 -48.8,331.3 -47.1,334.0 C-45.5,336.7 -43.8,339.3 -42.2,342.0 C-40.5,344.7 -38.9,347.3 -37.3,350.0 C-35.7,352.7 -34.1,355.3 -32.5,358.0 C-31.0,360.7 -29.4,363.3 -27.9,366.0 C-26.4,368.7 -24.8,371.3 -23.3,374.0 C-21.8,376.7 -20.4,379.3 -18.9,382.0 C-17.4,384.7 -16.0,387.3 -14.5,390.0 C-13.1,392.7 -11.6,395.3 -10.2,398.0 C-8.8,400.7 -7.4,403.3 -6.0,406.0 C-4.6,408.7 -3.2,411.3 -1.9,414.0 C-0.5,416.7 0.9,419.3 2.2,422.0 C3.5,424.7 4.9,427.3 6.2,430.0 C7.5,432.7 8.8,435.3 10.1,438.0 C11.4,440.7 12.7,443.3 14.0,446.0 C15.3,448.7 16.5,451.3 17.8,454.0 C19.1,456.7 20.3,459.3 21.5,462.0 C22.8,464.7 24.0,467.3 25.2,470.0 C26.4,472.7 27.6,475.3 28.7,478.0 C29.9,480.7 31.1,483.3 32.2,486.0 C33.3,488.7 34.4,491.3 35.5,494.0 C36.6,496.7 37.6,499.3 38.7,502.0 C39.7,504.7 40.7,507.3 41.7,510.0 C42.6,512.7 43.6,515.3 44.5,518.0 C45.4,520.7 46.2,523.3 47.1,526.0 C47.9,528.7 48.7,531.3 49.5,534.0 C50.3,536.7 51.0,539.3 51.7,542.0 C52.4,544.7 53.0,547.3 53.6,550.0 C54.2,552.7 54.8,555.3 55.3,558.0 C55.8,560.7 56.2,563.3 56.6,566.0 C57.0,568.7 57.4,571.3 57.7,574.0 C58.0,576.7 58.2,579.3 58.4,582.0 C58.6,584.7 58.7,587.3 58.7,590.0 C58.8,592.7 58.7,595.3 58.6,598.0 C58.5,600.7 58.4,603.3 58.2,606.0 C58.0,608.7 57.8,611.3 57.4,614.0 C57.1,616.7 56.7,619.3 56.2,622.0 C55.8,624.7 55.2,627.3 54.8,630.0 C54.3,632.7 53.8,635.3 53.3,638.0 C52.9,640.7 52.4,643.3 52.0,646.0 C51.5,648.7 51.0,651.3 50.5,654.0 C50.0,656.7 49.5,659.3 49.0,662.0 C48.5,664.7 48.0,667.3 47.5,670.0 C47.0,672.7 46.4,675.3 45.9,678.0 C45.4,680.7 44.6,684.7 44.4,686.0"/><path d="M-298.3,-10.0 C-297.3,-8.7 -294.4,-4.7 -292.5,-2.0 C-290.6,0.7 -288.7,3.3 -286.8,6.0 C-284.9,8.7 -283.0,11.3 -281.1,14.0 C-279.2,16.7 -277.3,19.3 -275.5,22.0 C-273.6,24.7 -271.7,27.3 -269.9,30.0 C-268.0,32.7 -266.1,35.3 -264.3,38.0 C-262.4,40.7 -260.6,43.3 -258.7,46.0 C-256.9,48.7 -255.1,51.3 -253.2,54.0 C-251.4,56.7 -249.5,59.3 -247.7,62.0 C-245.9,64.7 -244.0,67.3 -242.2,70.0 C-240.4,72.7 -238.6,75.3 -236.7,78.0 C-234.9,80.7 -233.1,83.3 -231.3,86.0 C-229.5,88.7 -227.7,91.3 -225.8,94.0 C-224.0,96.7 -222.2,99.3 -220.4,102.0 C-218.6,104.7 -216.8,107.3 -215.0,110.0 C-213.2,112.7 -211.4,115.3 -209.5,118.0 C-207.7,120.7 -205.9,123.3 -204.1,126.0 C-202.3,128.7 -200.5,131.3 -198.6,134.0 C-196.8,136.7 -195.0,139.3 -193.1,142.0 C-191.3,144.7 -189.5,147.3 -187.6,150.0 C-185.7,152.7 -183.8,155.3 -181.9,158.0 C-180.0,160.7 -178.1,163.3 -176.2,166.0 C-174.2,168.7 -172.3,171.3 -170.3,174.0 C-168.4,176.7 -166.4,179.3 -164.4,182.0 C-162.3,184.7 -160.3,187.3 -158.3,190.0 C-156.3,192.7 -154.2,195.3 -152.1,198.0 C-150.1,200.7 -148.0,203.3 -145.9,206.0 C-143.8,208.7 -141.8,211.3 -139.7,214.0 C-137.6,216.7 -135.5,219.3 -133.4,222.0 C-131.3,224.7 -129.3,227.3 -127.2,230.0 C-125.2,232.7 -123.1,235.3 -121.1,238.0 C-119.1,240.7 -117.1,243.3 -115.1,246.0 C-113.2,248.7 -111.3,251.3 -109.3,254.0 C-107.4,256.7 -105.5,259.3 -103.5,262.0 C-101.6,264.7 -99.7,267.3 -97.7,270.0 C-95.8,272.7 -93.9,275.3 -92.0,278.0 C-90.0,280.7 -88.1,283.3 -86.2,286.0 C-84.3,288.7 -82.4,291.3 -80.5,294.0 C-78.6,296.7 -76.8,299.3 -74.9,302.0 C-73.0,304.7 -71.2,307.3 -69.3,310.0 C-67.5,312.7 -65.7,315.3 -63.9,318.0 C-62.1,320.7 -60.3,323.3 -58.5,326.0 C-56.8,328.7 -55.0,331.3 -53.3,334.0 C-51.6,336.7 -49.9,339.3 -48.2,342.0 C-46.5,344.7 -44.9,347.3 -43.2,350.0 C-41.6,352.7 -40.0,355.3 -38.4,358.0 C-36.8,360.7 -35.2,363.3 -33.6,366.0 C-32.1,368.7 -30.5,371.3 -29.0,374.0 C-27.4,376.7 -25.9,379.3 -24.4,382.0 C-22.9,384.7 -21.4,387.3 -19.9,390.0 C-18.5,392.7 -17.0,395.3 -15.5,398.0 C-14.1,400.7 -12.7,403.3 -11.2,406.0 C-9.8,408.7 -8.4,411.3 -7.0,414.0 C-5.6,416.7 -4.2,419.3 -2.8,422.0 C-1.5,424.7 -0.1,427.3 1.3,430.0 C2.6,432.7 3.9,435.3 5.3,438.0 C6.6,440.7 7.9,443.3 9.2,446.0 C10.5,448.7 11.8,451.3 13.1,454.0 C14.4,456.7 15.7,459.3 16.9,462.0 C18.2,464.7 19.4,467.3 20.7,470.0 C21.9,472.7 23.1,475.3 24.3,478.0 C25.5,480.7 26.7,483.3 27.8,486.0 C29.0,488.7 30.1,491.3 31.2,494.0 C32.3,496.7 33.4,499.3 34.5,502.0 C35.5,504.7 36.5,507.3 37.5,510.0 C38.5,512.7 39.5,515.3 40.4,518.0 C41.3,520.7 42.2,523.3 43.1,526.0 C43.9,528.7 44.8,531.3 45.5,534.0 C46.3,536.7 47.1,539.3 47.8,542.0 C48.5,544.7 49.2,547.3 49.8,550.0 C50.4,552.7 51.0,555.3 51.5,558.0 C52.0,560.7 52.5,563.3 52.9,566.0 C53.3,568.7 53.7,571.3 54.0,574.0 C54.3,576.7 54.6,579.3 54.8,582.0 C54.9,584.7 55.1,587.3 55.1,590.0 C55.2,592.7 55.2,595.3 55.1,598.0 C55.0,600.7 54.9,603.3 54.7,606.0 C54.5,608.7 54.2,611.3 53.9,614.0 C53.6,616.7 53.2,619.3 52.7,622.0 C52.3,624.7 51.7,627.3 51.3,630.0 C50.8,632.7 50.3,635.3 49.8,638.0 C49.4,640.7 48.9,643.3 48.5,646.0 C48.0,648.7 47.5,651.3 47.0,654.0 C46.5,656.7 46.0,659.3 45.5,662.0 C45.0,664.7 44.5,667.3 44.0,670.0 C43.5,672.7 42.9,675.3 42.4,678.0 C41.9,680.7 41.1,684.7 40.9,686.0"/><path d="M-310.5,-10.0 C-309.5,-8.7 -306.5,-4.7 -304.5,-2.0 C-302.6,0.7 -300.6,3.3 -298.7,6.0 C-296.7,8.7 -294.8,11.3 -292.8,14.0 C-290.9,16.7 -289.0,19.3 -287.0,22.0 C-285.1,24.7 -283.2,27.3 -281.3,30.0 C-279.3,32.7 -277.4,35.3 -275.5,38.0 C-273.6,40.7 -271.7,43.3 -269.8,46.0 C-267.9,48.7 -266.0,51.3 -264.1,54.0 C-262.2,56.7 -260.3,59.3 -258.5,62.0 C-256.6,64.7 -254.7,67.3 -252.8,70.0 C-250.9,72.7 -249.1,75.3 -247.2,78.0 C-245.3,80.7 -243.4,83.3 -241.6,86.0 C-239.7,88.7 -237.8,91.3 -236.0,94.0 C-234.1,96.7 -232.3,99.3 -230.4,102.0 C-228.5,104.7 -226.7,107.3 -224.8,110.0 C-223.0,112.7 -221.1,115.3 -219.2,118.0 C-217.4,120.7 -215.5,123.3 -213.6,126.0 C-211.8,128.7 -209.9,131.3 -208.0,134.0 C-206.2,136.7 -204.3,139.3 -202.4,142.0 C-200.5,144.7 -198.6,147.3 -196.7,150.0 C-194.8,152.7 -192.8,155.3 -190.9,158.0 C-188.9,160.7 -187.0,163.3 -185.0,166.0 C-183.0,168.7 -181.0,171.3 -179.0,174.0 C-177.0,176.7 -175.0,179.3 -172.9,182.0 C-170.9,184.7 -168.8,187.3 -166.7,190.0 C-164.6,192.7 -162.5,195.3 -160.4,198.0 C-158.3,200.7 -156.2,203.3 -154.1,206.0 C-151.9,208.7 -149.8,211.3 -147.7,214.0 C-145.5,216.7 -143.4,219.3 -141.3,222.0 C-139.2,224.7 -137.1,227.3 -135.0,230.0 C-132.9,232.7 -130.8,235.3 -128.7,238.0 C-126.7,240.7 -124.6,243.3 -122.6,246.0 C-120.6,248.7 -118.7,251.3 -116.7,254.0 C-114.7,256.7 -112.7,259.3 -110.7,262.0 C-108.8,264.7 -106.8,267.3 -104.8,270.0 C-102.9,272.7 -100.9,275.3 -98.9,278.0 C-97.0,280.7 -95.0,283.3 -93.1,286.0 C-91.1,288.7 -89.2,291.3 -87.3,294.0 C-85.3,296.7 -83.4,299.3 -81.5,302.0 C-79.6,304.7 -77.7,307.3 -75.8,310.0 C-74.0,312.7 -72.1,315.3 -70.3,318.0 C-68.4,320.7 -66.6,323.3 -64.8,326.0 C-63.0,328.7 -61.2,331.3 -59.5,334.0 C-57.7,336.7 -56.0,339.3 -54.3,342.0 C-52.5,344.7 -50.9,347.3 -49.2,350.0 C-47.5,352.7 -45.8,355.3 -44.2,358.0 C-42.6,360.7 -41.0,363.3 -39.4,366.0 C-37.7,368.7 -36.2,371.3 -34.6,374.0 C-33.0,376.7 -31.5,379.3 -29.9,382.0 C-28.4,384.7 -26.9,387.3 -25.4,390.0 C-23.8,392.7 -22.3,395.3 -20.9,398.0 C-19.4,400.7 -17.9,403.3 -16.5,406.0 C-15.0,408.7 -13.6,411.3 -12.1,414.0 C-10.7,416.7 -9.3,419.3 -7.9,422.0 C-6.5,424.7 -5.1,427.3 -3.7,430.0 C-2.3,432.7 -0.9,435.3 0.4,438.0 C1.8,440.7 3.1,443.3 4.5,446.0 C5.8,448.7 7.1,451.3 8.4,454.0 C9.8,456.7 11.1,459.3 12.3,462.0 C13.6,464.7 14.9,467.3 16.2,470.0 C17.4,472.7 18.7,475.3 19.9,478.0 C21.1,480.7 22.3,483.3 23.5,486.0 C24.6,488.7 25.8,491.3 26.9,494.0 C28.1,496.7 29.2,499.3 30.2,502.0 C31.3,504.7 32.4,507.3 33.4,510.0 C34.4,512.7 35.4,515.3 36.3,518.0 C37.3,520.7 38.2,523.3 39.1,526.0 C39.9,528.7 40.8,531.3 41.6,534.0 C42.4,536.7 43.2,539.3 43.9,542.0 C44.6,544.7 45.3,547.3 46.0,550.0 C46.6,552.7 47.2,555.3 47.7,558.0 C48.3,560.7 48.8,563.3 49.2,566.0 C49.6,568.7 50.0,571.3 50.3,574.0 C50.6,576.7 50.9,579.3 51.1,582.0 C51.3,584.7 51.5,587.3 51.5,590.0 C51.6,592.7 51.6,595.3 51.5,598.0 C51.5,600.7 51.3,603.3 51.1,606.0 C51.0,608.7 50.7,611.3 50.4,614.0 C50.1,616.7 49.7,619.3 49.2,622.0 C48.8,624.7 48.2,627.3 47.8,630.0 C47.3,632.7 46.8,635.3 46.3,638.0 C45.9,640.7 45.4,643.3 45.0,646.0 C44.5,648.7 44.0,651.3 43.5,654.0 C43.0,656.7 42.5,659.3 42.0,662.0 C41.5,664.7 41.0,667.3 40.5,670.0 C40.0,672.7 39.4,675.3 38.9,678.0 C38.4,680.7 37.6,684.7 37.4,686.0"/><path d="M-322.7,-10.0 C-321.7,-8.7 -318.6,-4.7 -316.6,-2.0 C-314.6,0.7 -312.5,3.3 -310.5,6.0 C-308.5,8.7 -306.5,11.3 -304.5,14.0 C-302.5,16.7 -300.6,19.3 -298.6,22.0 C-296.6,24.7 -294.6,27.3 -292.7,30.0 C-290.7,32.7 -288.7,35.3 -286.8,38.0 C-284.8,40.7 -282.8,43.3 -280.9,46.0 C-278.9,48.7 -277.0,51.3 -275.0,54.0 C-273.1,56.7 -271.2,59.3 -269.2,62.0 C-267.3,64.7 -265.3,67.3 -263.4,70.0 C-261.5,72.7 -259.6,75.3 -257.6,78.0 C-255.7,80.7 -253.8,83.3 -251.9,86.0 C-250.0,88.7 -248.0,91.3 -246.1,94.0 C-244.2,96.7 -242.3,99.3 -240.4,102.0 C-238.5,104.7 -236.6,107.3 -234.7,110.0 C-232.7,112.7 -230.8,115.3 -228.9,118.0 C-227.0,120.7 -225.1,123.3 -223.2,126.0 C-221.3,128.7 -219.4,131.3 -217.4,134.0 C-215.5,136.7 -213.6,139.3 -211.7,142.0 C-209.7,144.7 -207.8,147.3 -205.8,150.0 C-203.8,152.7 -201.9,155.3 -199.9,158.0 C-197.9,160.7 -195.8,163.3 -193.8,166.0 C-191.8,168.7 -189.8,171.3 -187.7,174.0 C-185.6,176.7 -183.5,179.3 -181.4,182.0 C-179.4,184.7 -177.2,187.3 -175.1,190.0 C-173.0,192.7 -170.8,195.3 -168.7,198.0 C-166.5,200.7 -164.4,203.3 -162.2,206.0 C-160.0,208.7 -157.9,211.3 -155.7,214.0 C-153.5,216.7 -151.3,219.3 -149.2,222.0 C-147.0,224.7 -144.8,227.3 -142.7,230.0 C-140.6,232.7 -138.4,235.3 -136.3,238.0 C-134.2,240.7 -132.2,243.3 -130.1,246.0 C-128.1,248.7 -126.1,251.3 -124.0,254.0 C-122.0,256.7 -120.0,259.3 -118.0,262.0 C-116.0,264.7 -113.9,267.3 -111.9,270.0 C-109.9,272.7 -107.9,275.3 -105.9,278.0 C-103.9,280.7 -101.9,283.3 -99.9,286.0 C-98.0,288.7 -96.0,291.3 -94.0,294.0 C-92.0,296.7 -90.1,299.3 -88.1,302.0 C-86.2,304.7 -84.3,307.3 -82.4,310.0 C-80.4,312.7 -78.5,315.3 -76.7,318.0 C-74.8,320.7 -72.9,323.3 -71.1,326.0 C-69.3,328.7 -67.4,331.3 -65.6,334.0 C-63.8,336.7 -62.1,339.3 -60.3,342.0 C-58.6,344.7 -56.8,347.3 -55.1,350.0 C-53.4,352.7 -51.7,355.3 -50.0,358.0 C-48.4,360.7 -46.7,363.3 -45.1,366.0 C-43.4,368.7 -41.8,371.3 -40.2,374.0 C-38.6,376.7 -37.0,379.3 -35.4,382.0 C-33.9,384.7 -32.3,387.3 -30.8,390.0 C-29.2,392.7 -27.7,395.3 -26.2,398.0 C-24.7,400.7 -23.2,403.3 -21.7,406.0 C-20.2,408.7 -18.7,411.3 -17.3,414.0 C-15.8,416.7 -14.3,419.3 -12.9,422.0 C-11.5,424.7 -10.0,427.3 -8.6,430.0 C-7.2,432.7 -5.8,435.3 -4.4,438.0 C-3.0,440.7 -1.7,443.3 -0.3,446.0 C1.1,448.7 2.4,451.3 3.8,454.0 C5.1,456.7 6.4,459.3 7.8,462.0 C9.1,464.7 10.4,467.3 11.7,470.0 C12.9,472.7 14.2,475.3 15.4,478.0 C16.7,480.7 17.9,483.3 19.1,486.0 C20.3,488.7 21.5,491.3 22.7,494.0 C23.8,496.7 24.9,499.3 26.0,502.0 C27.1,504.7 28.2,507.3 29.3,510.0 C30.3,512.7 31.3,515.3 32.3,518.0 C33.2,520.7 34.2,523.3 35.1,526.0 C36.0,528.7 36.8,531.3 37.7,534.0 C38.5,536.7 39.3,539.3 40.0,542.0 C40.8,544.7 41.5,547.3 42.2,550.0 C42.8,552.7 43.4,555.3 44.0,558.0 C44.5,560.7 45.0,563.3 45.5,566.0 C45.9,568.7 46.3,571.3 46.6,574.0 C47.0,576.7 47.3,579.3 47.5,582.0 C47.7,584.7 47.9,587.3 47.9,590.0 C48.0,592.7 48.0,595.3 48.0,598.0 C47.9,600.7 47.8,603.3 47.6,606.0 C47.4,608.7 47.2,611.3 46.9,614.0 C46.6,616.7 46.2,619.3 45.7,622.0 C45.3,624.7 44.7,627.3 44.3,630.0 C43.8,632.7 43.3,635.3 42.8,638.0 C42.4,640.7 41.9,643.3 41.5,646.0 C41.0,648.7 40.5,651.3 40.0,654.0 C39.5,656.7 39.0,659.3 38.5,662.0 C38.0,664.7 37.5,667.3 37.0,670.0 C36.5,672.7 35.9,675.3 35.4,678.0 C34.9,680.7 34.1,684.7 33.9,686.0"/><path d="M-334.9,-10.0 C-333.9,-8.7 -330.7,-4.7 -328.6,-2.0 C-326.5,0.7 -324.5,3.3 -322.4,6.0 C-320.3,8.7 -318.3,11.3 -316.3,14.0 C-314.2,16.7 -312.2,19.3 -310.1,22.0 C-308.1,24.7 -306.1,27.3 -304.0,30.0 C-302.0,32.7 -300.0,35.3 -298.0,38.0 C-296.0,40.7 -294.0,43.3 -292.0,46.0 C-290.0,48.7 -288.0,51.3 -286.0,54.0 C-284.0,56.7 -282.0,59.3 -280.0,62.0 C-278.0,64.7 -276.0,67.3 -274.0,70.0 C-272.0,72.7 -270.1,75.3 -268.1,78.0 C-266.1,80.7 -264.1,83.3 -262.2,86.0 C-260.2,88.7 -258.2,91.3 -256.3,94.0 C-254.3,96.7 -252.3,99.3 -250.4,102.0 C-248.4,104.7 -246.5,107.3 -244.5,110.0 C-242.5,112.7 -240.6,115.3 -238.6,118.0 C-236.7,120.7 -234.7,123.3 -232.7,126.0 C-230.8,128.7 -228.8,131.3 -226.8,134.0 C-224.9,136.7 -222.9,139.3 -220.9,142.0 C-218.9,144.7 -216.9,147.3 -214.9,150.0 C-212.9,152.7 -210.9,155.3 -208.8,158.0 C-206.8,160.7 -204.7,163.3 -202.6,166.0 C-200.6,168.7 -198.5,171.3 -196.4,174.0 C-194.3,176.7 -192.1,179.3 -190.0,182.0 C-187.9,184.7 -185.7,187.3 -183.5,190.0 C-181.4,192.7 -179.2,195.3 -177.0,198.0 C-174.8,200.7 -172.6,203.3 -170.3,206.0 C-168.1,208.7 -165.9,211.3 -163.7,214.0 C-161.5,216.7 -159.2,219.3 -157.0,222.0 C-154.8,224.7 -152.6,227.3 -150.4,230.0 C-148.3,232.7 -146.1,235.3 -143.9,238.0 C-141.8,240.7 -139.7,243.3 -137.6,246.0 C-135.5,248.7 -133.5,251.3 -131.4,254.0 C-129.3,256.7 -127.3,259.3 -125.2,262.0 C-123.2,264.7 -121.1,267.3 -119.0,270.0 C-117.0,272.7 -114.9,275.3 -112.9,278.0 C-110.9,280.7 -108.8,283.3 -106.8,286.0 C-104.8,288.7 -102.8,291.3 -100.7,294.0 C-98.7,296.7 -96.7,299.3 -94.8,302.0 C-92.8,304.7 -90.8,307.3 -88.9,310.0 C-86.9,312.7 -85.0,315.3 -83.1,318.0 C-81.1,320.7 -79.2,323.3 -77.4,326.0 C-75.5,328.7 -73.6,331.3 -71.8,334.0 C-70.0,336.7 -68.1,339.3 -66.4,342.0 C-64.6,344.7 -62.8,347.3 -61.1,350.0 C-59.3,352.7 -57.6,355.3 -55.9,358.0 C-54.2,360.7 -52.5,363.3 -50.8,366.0 C-49.1,368.7 -47.5,371.3 -45.8,374.0 C-44.2,376.7 -42.6,379.3 -41.0,382.0 C-39.4,384.7 -37.8,387.3 -36.2,390.0 C-34.6,392.7 -33.1,395.3 -31.5,398.0 C-30.0,400.7 -28.4,403.3 -26.9,406.0 C-25.4,408.7 -23.9,411.3 -22.4,414.0 C-20.9,416.7 -19.4,419.3 -17.9,422.0 C-16.5,424.7 -15.0,427.3 -13.6,430.0 C-12.1,432.7 -10.7,435.3 -9.3,438.0 C-7.9,440.7 -6.5,443.3 -5.1,446.0 C-3.7,448.7 -2.3,451.3 -0.9,454.0 C0.5,456.7 1.8,459.3 3.2,462.0 C4.5,464.7 5.8,467.3 7.1,470.0 C8.4,472.7 9.7,475.3 11.0,478.0 C12.3,480.7 13.5,483.3 14.8,486.0 C16.0,488.7 17.2,491.3 18.4,494.0 C19.6,496.7 20.7,499.3 21.8,502.0 C23.0,504.7 24.1,507.3 25.1,510.0 C26.2,512.7 27.2,515.3 28.2,518.0 C29.2,520.7 30.1,523.3 31.1,526.0 C32.0,528.7 32.9,531.3 33.7,534.0 C34.6,536.7 35.4,539.3 36.2,542.0 C36.9,544.7 37.7,547.3 38.3,550.0 C39.0,552.7 39.6,555.3 40.2,558.0 C40.8,560.7 41.3,563.3 41.7,566.0 C42.2,568.7 42.6,571.3 43.0,574.0 C43.3,576.7 43.6,579.3 43.9,582.0 C44.1,584.7 44.3,587.3 44.3,590.0 C44.4,592.7 44.5,595.3 44.4,598.0 C44.4,600.7 44.3,603.3 44.1,606.0 C43.9,608.7 43.7,611.3 43.4,614.0 C43.1,616.7 42.7,619.3 42.2,622.0 C41.8,624.7 41.2,627.3 40.8,630.0 C40.3,632.7 39.8,635.3 39.3,638.0 C38.9,640.7 38.4,643.3 38.0,646.0 C37.5,648.7 37.0,651.3 36.5,654.0 C36.0,656.7 35.5,659.3 35.0,662.0 C34.5,664.7 34.0,667.3 33.5,670.0 C33.0,672.7 32.4,675.3 31.9,678.0 C31.4,680.7 30.6,684.7 30.4,686.0"/><path d="M-347.1,-10.0 C-346.0,-8.7 -342.8,-4.7 -340.7,-2.0 C-338.5,0.7 -336.4,3.3 -334.3,6.0 C-332.2,8.7 -330.1,11.3 -328.0,14.0 C-325.9,16.7 -323.8,19.3 -321.7,22.0 C-319.6,24.7 -317.5,27.3 -315.4,30.0 C-313.4,32.7 -311.3,35.3 -309.2,38.0 C-307.1,40.7 -305.1,43.3 -303.0,46.0 C-301.0,48.7 -298.9,51.3 -296.9,54.0 C-294.8,56.7 -292.8,59.3 -290.7,62.0 C-288.7,64.7 -286.7,67.3 -284.6,70.0 C-282.6,72.7 -280.6,75.3 -278.5,78.0 C-276.5,80.7 -274.5,83.3 -272.5,86.0 C-270.4,88.7 -268.4,91.3 -266.4,94.0 C-264.4,96.7 -262.4,99.3 -260.4,102.0 C-258.4,104.7 -256.4,107.3 -254.3,110.0 C-252.3,112.7 -250.3,115.3 -248.3,118.0 C-246.3,120.7 -244.3,123.3 -242.3,126.0 C-240.3,128.7 -238.3,131.3 -236.2,134.0 C-234.2,136.7 -232.2,139.3 -230.2,142.0 C-228.1,144.7 -226.1,147.3 -224.0,150.0 C-222.0,152.7 -219.9,155.3 -217.8,158.0 C-215.7,160.7 -213.6,163.3 -211.5,166.0 C-209.4,168.7 -207.2,171.3 -205.1,174.0 C-202.9,176.7 -200.7,179.3 -198.5,182.0 C-196.4,184.7 -194.2,187.3 -191.9,190.0 C-189.7,192.7 -187.5,195.3 -185.2,198.0 C-183.0,200.7 -180.7,203.3 -178.5,206.0 C-176.2,208.7 -174.0,211.3 -171.7,214.0 C-169.4,216.7 -167.2,219.3 -164.9,222.0 C-162.7,224.7 -160.4,227.3 -158.2,230.0 C-156.0,232.7 -153.7,235.3 -151.6,238.0 C-149.4,240.7 -147.2,243.3 -145.1,246.0 C-142.9,248.7 -140.8,251.3 -138.7,254.0 C-136.6,256.7 -134.5,259.3 -132.4,262.0 C-130.3,264.7 -128.2,267.3 -126.1,270.0 C-124.1,272.7 -122.0,275.3 -119.9,278.0 C-117.8,280.7 -115.7,283.3 -113.7,286.0 C-111.6,288.7 -109.5,291.3 -107.5,294.0 C-105.4,296.7 -103.4,299.3 -101.4,302.0 C-99.4,304.7 -97.4,307.3 -95.4,310.0 C-93.4,312.7 -91.4,315.3 -89.4,318.0 C-87.5,320.7 -85.6,323.3 -83.6,326.0 C-81.7,328.7 -79.8,331.3 -78.0,334.0 C-76.1,336.7 -74.2,339.3 -72.4,342.0 C-70.6,344.7 -68.8,347.3 -67.0,350.0 C-65.2,352.7 -63.5,355.3 -61.7,358.0 C-60.0,360.7 -58.2,363.3 -56.5,366.0 C-54.8,368.7 -53.1,371.3 -51.5,374.0 C-49.8,376.7 -48.1,379.3 -46.5,382.0 C-44.9,384.7 -43.2,387.3 -41.6,390.0 C-40.0,392.7 -38.4,395.3 -36.8,398.0 C-35.2,400.7 -33.7,403.3 -32.1,406.0 C-30.6,408.7 -29.0,411.3 -27.5,414.0 C-26.0,416.7 -24.5,419.3 -23.0,422.0 C-21.5,424.7 -20.0,427.3 -18.5,430.0 C-17.0,432.7 -15.6,435.3 -14.1,438.0 C-12.7,440.7 -11.2,443.3 -9.8,446.0 C-8.4,448.7 -7.0,451.3 -5.6,454.0 C-4.2,456.7 -2.8,459.3 -1.4,462.0 C-0.1,464.7 1.3,467.3 2.6,470.0 C4.0,472.7 5.3,475.3 6.6,478.0 C7.9,480.7 9.2,483.3 10.4,486.0 C11.7,488.7 12.9,491.3 14.1,494.0 C15.3,496.7 16.5,499.3 17.6,502.0 C18.8,504.7 19.9,507.3 21.0,510.0 C22.1,512.7 23.1,515.3 24.1,518.0 C25.1,520.7 26.1,523.3 27.1,526.0 C28.0,528.7 28.9,531.3 29.8,534.0 C30.7,536.7 31.5,539.3 32.3,542.0 C33.1,544.7 33.8,547.3 34.5,550.0 C35.2,552.7 35.8,555.3 36.4,558.0 C37.0,560.7 37.6,563.3 38.0,566.0 C38.5,568.7 38.9,571.3 39.3,574.0 C39.7,576.7 40.0,579.3 40.2,582.0 C40.5,584.7 40.7,587.3 40.8,590.0 C40.9,592.7 40.9,595.3 40.9,598.0 C40.8,600.7 40.7,603.3 40.6,606.0 C40.4,608.7 40.2,611.3 39.9,614.0 C39.6,616.7 39.1,619.3 38.7,622.0 C38.3,624.7 37.7,627.3 37.3,630.0 C36.8,632.7 36.3,635.3 35.8,638.0 C35.4,640.7 34.9,643.3 34.5,646.0 C34.0,648.7 33.5,651.3 33.0,654.0 C32.5,656.7 32.0,659.3 31.5,662.0 C31.0,664.7 30.5,667.3 30.0,670.0 C29.5,672.7 28.9,675.3 28.4,678.0 C27.9,680.7 27.1,684.7 26.9,686.0"/><path d="M-359.3,-10.0 C-358.2,-8.7 -354.9,-4.7 -352.7,-2.0 C-350.5,0.7 -348.3,3.3 -346.2,6.0 C-344.0,8.7 -341.8,11.3 -339.7,14.0 C-337.5,16.7 -335.4,19.3 -333.2,22.0 C-331.1,24.7 -329.0,27.3 -326.8,30.0 C-324.7,32.7 -322.6,35.3 -320.4,38.0 C-318.3,40.7 -316.2,43.3 -314.1,46.0 C-312.0,48.7 -309.9,51.3 -307.8,54.0 C-305.7,56.7 -303.6,59.3 -301.5,62.0 C-299.4,64.7 -297.3,67.3 -295.2,70.0 C-293.1,72.7 -291.1,75.3 -289.0,78.0 C-286.9,80.7 -284.8,83.3 -282.8,86.0 C-280.7,88.7 -278.6,91.3 -276.6,94.0 C-274.5,96.7 -272.4,99.3 -270.4,102.0 C-268.3,104.7 -266.2,107.3 -264.2,110.0 C-262.1,112.7 -260.1,115.3 -258.0,118.0 C-255.9,120.7 -253.9,123.3 -251.8,126.0 C-249.8,128.7 -247.7,131.3 -245.6,134.0 C-243.6,136.7 -241.5,139.3 -239.4,142.0 C-237.3,144.7 -235.2,147.3 -233.1,150.0 C-231.0,152.7 -228.9,155.3 -226.8,158.0 C-224.6,160.7 -222.5,163.3 -220.3,166.0 C-218.1,168.7 -216.0,171.3 -213.8,174.0 C-211.5,176.7 -209.3,179.3 -207.1,182.0 C-204.9,184.7 -202.6,187.3 -200.3,190.0 C-198.1,192.7 -195.8,195.3 -193.5,198.0 C-191.2,200.7 -188.9,203.3 -186.6,206.0 C-184.3,208.7 -182.0,211.3 -179.7,214.0 C-177.4,216.7 -175.1,219.3 -172.8,222.0 C-170.5,224.7 -168.2,227.3 -165.9,230.0 C-163.7,232.7 -161.4,235.3 -159.2,238.0 C-156.9,240.7 -154.7,243.3 -152.6,246.0 C-150.4,248.7 -148.2,251.3 -146.1,254.0 C-143.9,256.7 -141.8,259.3 -139.7,262.0 C-137.5,264.7 -135.4,267.3 -133.3,270.0 C-131.1,272.7 -129.0,275.3 -126.9,278.0 C-124.7,280.7 -122.6,283.3 -120.5,286.0 C-118.4,288.7 -116.3,291.3 -114.2,294.0 C-112.1,296.7 -110.1,299.3 -108.0,302.0 C-105.9,304.7 -103.9,307.3 -101.9,310.0 C-99.8,312.7 -97.8,315.3 -95.8,318.0 C-93.8,320.7 -91.9,323.3 -89.9,326.0 C-88.0,328.7 -86.0,331.3 -84.1,334.0 C-82.2,336.7 -80.3,339.3 -78.5,342.0 C-76.6,344.7 -74.8,347.3 -72.9,350.0 C-71.1,352.7 -69.3,355.3 -67.5,358.0 C-65.8,360.7 -64.0,363.3 -62.3,366.0 C-60.5,368.7 -58.8,371.3 -57.1,374.0 C-55.4,376.7 -53.7,379.3 -52.0,382.0 C-50.3,384.7 -48.7,387.3 -47.0,390.0 C-45.4,392.7 -43.8,395.3 -42.1,398.0 C-40.5,400.7 -38.9,403.3 -37.3,406.0 C-35.8,408.7 -34.2,411.3 -32.6,414.0 C-31.1,416.7 -29.5,419.3 -28.0,422.0 C-26.5,424.7 -25.0,427.3 -23.5,430.0 C-22.0,432.7 -20.5,435.3 -19.0,438.0 C-17.5,440.7 -16.0,443.3 -14.6,446.0 C-13.1,448.7 -11.7,451.3 -10.3,454.0 C-8.8,456.7 -7.4,459.3 -6.0,462.0 C-4.6,464.7 -3.2,467.3 -1.9,470.0 C-0.5,472.7 0.8,475.3 2.1,478.0 C3.5,480.7 4.8,483.3 6.1,486.0 C7.3,488.7 8.6,491.3 9.8,494.0 C11.0,496.7 12.3,499.3 13.4,502.0 C14.6,504.7 15.7,507.3 16.8,510.0 C18.0,512.7 19.0,515.3 20.1,518.0 C21.1,520.7 22.1,523.3 23.1,526.0 C24.0,528.7 25.0,531.3 25.8,534.0 C26.7,536.7 27.6,539.3 28.4,542.0 C29.2,544.7 30.0,547.3 30.7,550.0 C31.4,552.7 32.1,555.3 32.7,558.0 C33.3,560.7 33.8,563.3 34.3,566.0 C34.8,568.7 35.2,571.3 35.6,574.0 C36.0,576.7 36.4,579.3 36.6,582.0 C36.9,584.7 37.1,587.3 37.2,590.0 C37.3,592.7 37.3,595.3 37.3,598.0 C37.3,600.7 37.2,603.3 37.0,606.0 C36.9,608.7 36.7,611.3 36.4,614.0 C36.1,616.7 35.6,619.3 35.2,622.0 C34.8,624.7 34.2,627.3 33.8,630.0 C33.3,632.7 32.8,635.3 32.3,638.0 C31.9,640.7 31.4,643.3 31.0,646.0 C30.5,648.7 30.0,651.3 29.5,654.0 C29.0,656.7 28.5,659.3 28.0,662.0 C27.5,664.7 27.0,667.3 26.5,670.0 C26.0,672.7 25.4,675.3 24.9,678.0 C24.4,680.7 23.6,684.7 23.4,686.0"/><path d="M-371.5,-10.0 C-370.4,-8.7 -367.0,-4.7 -364.7,-2.0 C-362.5,0.7 -360.3,3.3 -358.0,6.0 C-355.8,8.7 -353.6,11.3 -351.4,14.0 C-349.2,16.7 -347.0,19.3 -344.8,22.0 C-342.6,24.7 -340.4,27.3 -338.2,30.0 C-336.0,32.7 -333.9,35.3 -331.7,38.0 C-329.5,40.7 -327.3,43.3 -325.2,46.0 C-323.0,48.7 -320.9,51.3 -318.7,54.0 C-316.5,56.7 -314.4,59.3 -312.2,62.0 C-310.1,64.7 -308.0,67.3 -305.8,70.0 C-303.7,72.7 -301.6,75.3 -299.4,78.0 C-297.3,80.7 -295.2,83.3 -293.1,86.0 C-290.9,88.7 -288.8,91.3 -286.7,94.0 C-284.6,96.7 -282.5,99.3 -280.4,102.0 C-278.2,104.7 -276.1,107.3 -274.0,110.0 C-271.9,112.7 -269.8,115.3 -267.7,118.0 C-265.6,120.7 -263.5,123.3 -261.4,126.0 C-259.3,128.7 -257.2,131.3 -255.0,134.0 C-252.9,136.7 -250.8,139.3 -248.7,142.0 C-246.5,144.7 -244.4,147.3 -242.2,150.0 C-240.1,152.7 -237.9,155.3 -235.7,158.0 C-233.5,160.7 -231.3,163.3 -229.1,166.0 C-226.9,168.7 -224.7,171.3 -222.4,174.0 C-220.2,176.7 -217.9,179.3 -215.6,182.0 C-213.4,184.7 -211.1,187.3 -208.8,190.0 C-206.4,192.7 -204.1,195.3 -201.8,198.0 C-199.5,200.7 -197.1,203.3 -194.8,206.0 C-192.4,208.7 -190.0,211.3 -187.7,214.0 C-185.3,216.7 -183.0,219.3 -180.6,222.0 C-178.3,224.7 -176.0,227.3 -173.7,230.0 C-171.3,232.7 -169.0,235.3 -166.8,238.0 C-164.5,240.7 -162.3,243.3 -160.0,246.0 C-157.8,248.7 -155.6,251.3 -153.5,254.0 C-151.3,256.7 -149.1,259.3 -146.9,262.0 C-144.7,264.7 -142.5,267.3 -140.4,270.0 C-138.2,272.7 -136.0,275.3 -133.8,278.0 C-131.7,280.7 -129.5,283.3 -127.4,286.0 C-125.2,288.7 -123.1,291.3 -121.0,294.0 C-118.8,296.7 -116.7,299.3 -114.6,302.0 C-112.5,304.7 -110.4,307.3 -108.4,310.0 C-106.3,312.7 -104.3,315.3 -102.2,318.0 C-100.2,320.7 -98.2,323.3 -96.2,326.0 C-94.2,328.7 -92.2,331.3 -90.3,334.0 C-88.3,336.7 -86.4,339.3 -84.5,342.0 C-82.6,344.7 -80.7,347.3 -78.9,350.0 C-77.0,352.7 -75.2,355.3 -73.4,358.0 C-71.6,360.7 -69.8,363.3 -68.0,366.0 C-66.2,368.7 -64.5,371.3 -62.7,374.0 C-61.0,376.7 -59.2,379.3 -57.5,382.0 C-55.8,384.7 -54.1,387.3 -52.5,390.0 C-50.8,392.7 -49.1,395.3 -47.5,398.0 C-45.8,400.7 -44.2,403.3 -42.6,406.0 C-41.0,408.7 -39.4,411.3 -37.8,414.0 C-36.2,416.7 -34.6,419.3 -33.0,422.0 C-31.5,424.7 -29.9,427.3 -28.4,430.0 C-26.9,432.7 -25.3,435.3 -23.8,438.0 C-22.3,440.7 -20.8,443.3 -19.4,446.0 C-17.9,448.7 -16.4,451.3 -14.9,454.0 C-13.5,456.7 -12.0,459.3 -10.6,462.0 C-9.2,464.7 -7.8,467.3 -6.4,470.0 C-5.0,472.7 -3.6,475.3 -2.3,478.0 C-0.9,480.7 0.4,483.3 1.7,486.0 C3.0,488.7 4.3,491.3 5.5,494.0 C6.8,496.7 8.0,499.3 9.2,502.0 C10.4,504.7 11.6,507.3 12.7,510.0 C13.8,512.7 14.9,515.3 16.0,518.0 C17.0,520.7 18.1,523.3 19.1,526.0 C20.0,528.7 21.0,531.3 21.9,534.0 C22.8,536.7 23.7,539.3 24.5,542.0 C25.3,544.7 26.1,547.3 26.9,550.0 C27.6,552.7 28.3,555.3 28.9,558.0 C29.5,560.7 30.1,563.3 30.6,566.0 C31.1,568.7 31.6,571.3 32.0,574.0 C32.4,576.7 32.7,579.3 33.0,582.0 C33.3,584.7 33.5,587.3 33.6,590.0 C33.7,592.7 33.8,595.3 33.7,598.0 C33.7,600.7 33.6,603.3 33.5,606.0 C33.3,608.7 33.2,611.3 32.9,614.0 C32.6,616.7 32.1,619.3 31.7,622.0 C31.3,624.7 30.7,627.3 30.3,630.0 C29.8,632.7 29.3,635.3 28.8,638.0 C28.4,640.7 27.9,643.3 27.5,646.0 C27.0,648.7 26.5,651.3 26.0,654.0 C25.5,656.7 25.0,659.3 24.5,662.0 C24.0,664.7 23.5,667.3 23.0,670.0 C22.5,672.7 21.9,675.3 21.4,678.0 C20.9,680.7 20.1,684.7 19.9,686.0"/><path d="M-383.7,-10.0 C-382.6,-8.7 -379.1,-4.7 -376.8,-2.0 C-374.5,0.7 -372.2,3.3 -369.9,6.0 C-367.6,8.7 -365.4,11.3 -363.1,14.0 C-360.8,16.7 -358.6,19.3 -356.3,22.0 C-354.1,24.7 -351.8,27.3 -349.6,30.0 C-347.4,32.7 -345.1,35.3 -342.9,38.0 C-340.7,40.7 -338.5,43.3 -336.2,46.0 C-334.0,48.7 -331.8,51.3 -329.6,54.0 C-327.4,56.7 -325.2,59.3 -323.0,62.0 C-320.8,64.7 -318.6,67.3 -316.4,70.0 C-314.2,72.7 -312.1,75.3 -309.9,78.0 C-307.7,80.7 -305.5,83.3 -303.3,86.0 C-301.2,88.7 -299.0,91.3 -296.8,94.0 C-294.7,96.7 -292.5,99.3 -290.3,102.0 C-288.2,104.7 -286.0,107.3 -283.9,110.0 C-281.7,112.7 -279.5,115.3 -277.4,118.0 C-275.2,120.7 -273.1,123.3 -270.9,126.0 C-268.8,128.7 -266.6,131.3 -264.4,134.0 C-262.3,136.7 -260.1,139.3 -257.9,142.0 C-255.7,144.7 -253.6,147.3 -251.4,150.0 C-249.2,152.7 -246.9,155.3 -244.7,158.0 C-242.5,160.7 -240.2,163.3 -238.0,166.0 C-235.7,168.7 -233.4,171.3 -231.1,174.0 C-228.8,176.7 -226.5,179.3 -224.2,182.0 C-221.9,184.7 -219.5,187.3 -217.2,190.0 C-214.8,192.7 -212.4,195.3 -210.1,198.0 C-207.7,200.7 -205.3,203.3 -202.9,206.0 C-200.5,208.7 -198.1,211.3 -195.7,214.0 C-193.3,216.7 -190.9,219.3 -188.5,222.0 C-186.1,224.7 -183.8,227.3 -181.4,230.0 C-179.0,232.7 -176.7,235.3 -174.4,238.0 C-172.1,240.7 -169.8,243.3 -167.5,246.0 C-165.3,248.7 -163.0,251.3 -160.8,254.0 C-158.6,256.7 -156.4,259.3 -154.1,262.0 C-151.9,264.7 -149.7,267.3 -147.5,270.0 C-145.2,272.7 -143.0,275.3 -140.8,278.0 C-138.6,280.7 -136.4,283.3 -134.2,286.0 C-132.1,288.7 -129.9,291.3 -127.7,294.0 C-125.5,296.7 -123.4,299.3 -121.3,302.0 C-119.1,304.7 -117.0,307.3 -114.9,310.0 C-112.8,312.7 -110.7,315.3 -108.6,318.0 C-106.5,320.7 -104.5,323.3 -102.5,326.0 C-100.4,328.7 -98.4,331.3 -96.4,334.0 C-94.5,336.7 -92.5,339.3 -90.6,342.0 C-88.6,344.7 -86.7,347.3 -84.8,350.0 C-82.9,352.7 -81.1,355.3 -79.2,358.0 C-77.4,360.7 -75.5,363.3 -73.7,366.0 C-71.9,368.7 -70.1,371.3 -68.3,374.0 C-66.6,376.7 -64.8,379.3 -63.1,382.0 C-61.3,384.7 -59.6,387.3 -57.9,390.0 C-56.2,392.7 -54.5,395.3 -52.8,398.0 C-51.1,400.7 -49.4,403.3 -47.8,406.0 C-46.1,408.7 -44.5,411.3 -42.9,414.0 C-41.3,416.7 -39.7,419.3 -38.1,422.0 C-36.5,424.7 -34.9,427.3 -33.3,430.0 C-31.8,432.7 -30.2,435.3 -28.7,438.0 C-27.2,440.7 -25.6,443.3 -24.1,446.0 C-22.6,448.7 -21.1,451.3 -19.6,454.0 C-18.1,456.7 -16.7,459.3 -15.2,462.0 C-13.8,464.7 -12.3,467.3 -10.9,470.0 C-9.5,472.7 -8.1,475.3 -6.7,478.0 C-5.3,480.7 -4.0,483.3 -2.7,486.0 C-1.3,488.7 -0.0,491.3 1.3,494.0 C2.5,496.7 3.8,499.3 5.0,502.0 C6.2,504.7 7.4,507.3 8.6,510.0 C9.7,512.7 10.8,515.3 11.9,518.0 C13.0,520.7 14.0,523.3 15.1,526.0 C16.1,528.7 17.0,531.3 18.0,534.0 C18.9,536.7 19.8,539.3 20.6,542.0 C21.5,544.7 22.3,547.3 23.0,550.0 C23.8,552.7 24.5,555.3 25.1,558.0 C25.8,560.7 26.3,563.3 26.9,566.0 C27.4,568.7 27.9,571.3 28.3,574.0 C28.7,576.7 29.1,579.3 29.4,582.0 C29.6,584.7 29.8,587.3 30.0,590.0 C30.1,592.7 30.2,595.3 30.2,598.0 C30.2,600.7 30.1,603.3 30.0,606.0 C29.8,608.7 29.6,611.3 29.4,614.0 C29.1,616.7 28.6,619.3 28.2,622.0 C27.8,624.7 27.2,627.3 26.8,630.0 C26.3,632.7 25.8,635.3 25.3,638.0 C24.9,640.7 24.4,643.3 24.0,646.0 C23.5,648.7 23.0,651.3 22.5,654.0 C22.0,656.7 21.5,659.3 21.0,662.0 C20.5,664.7 20.0,667.3 19.5,670.0 C19.0,672.7 18.4,675.3 17.9,678.0 C17.4,680.7 16.6,684.7 16.4,686.0"/><path d="M-395.9,-10.0 C-394.7,-8.7 -391.2,-4.7 -388.8,-2.0 C-386.5,0.7 -384.1,3.3 -381.8,6.0 C-379.5,8.7 -377.1,11.3 -374.8,14.0 C-372.5,16.7 -370.2,19.3 -367.9,22.0 C-365.6,24.7 -363.3,27.3 -361.0,30.0 C-358.7,32.7 -356.4,35.3 -354.1,38.0 C-351.9,40.7 -349.6,43.3 -347.3,46.0 C-345.0,48.7 -342.8,51.3 -340.5,54.0 C-338.3,56.7 -336.0,59.3 -333.8,62.0 C-331.5,64.7 -329.3,67.3 -327.0,70.0 C-324.8,72.7 -322.6,75.3 -320.3,78.0 C-318.1,80.7 -315.9,83.3 -313.6,86.0 C-311.4,88.7 -309.2,91.3 -307.0,94.0 C-304.8,96.7 -302.5,99.3 -300.3,102.0 C-298.1,104.7 -295.9,107.3 -293.7,110.0 C-291.5,112.7 -289.3,115.3 -287.1,118.0 C-284.9,120.7 -282.7,123.3 -280.5,126.0 C-278.3,128.7 -276.0,131.3 -273.8,134.0 C-271.6,136.7 -269.4,139.3 -267.2,142.0 C-264.9,144.7 -262.7,147.3 -260.5,150.0 C-258.2,152.7 -255.9,155.3 -253.7,158.0 C-251.4,160.7 -249.1,163.3 -246.8,166.0 C-244.5,168.7 -242.1,171.3 -239.8,174.0 C-237.5,176.7 -235.1,179.3 -232.7,182.0 C-230.4,184.7 -228.0,187.3 -225.6,190.0 C-223.2,192.7 -220.8,195.3 -218.3,198.0 C-215.9,200.7 -213.5,203.3 -211.0,206.0 C-208.6,208.7 -206.1,211.3 -203.7,214.0 C-201.3,216.7 -198.8,219.3 -196.4,222.0 C-194.0,224.7 -191.5,227.3 -189.1,230.0 C-186.7,232.7 -184.4,235.3 -182.0,238.0 C-179.6,240.7 -177.3,243.3 -175.0,246.0 C-172.7,248.7 -170.4,251.3 -168.2,254.0 C-165.9,256.7 -163.6,259.3 -161.4,262.0 C-159.1,264.7 -156.8,267.3 -154.6,270.0 C-152.3,272.7 -150.1,275.3 -147.8,278.0 C-145.6,280.7 -143.3,283.3 -141.1,286.0 C-138.9,288.7 -136.7,291.3 -134.4,294.0 C-132.2,296.7 -130.1,299.3 -127.9,302.0 C-125.7,304.7 -123.5,307.3 -121.4,310.0 C-119.2,312.7 -117.1,315.3 -115.0,318.0 C-112.9,320.7 -110.8,323.3 -108.7,326.0 C-106.7,328.7 -104.6,331.3 -102.6,334.0 C-100.6,336.7 -98.6,339.3 -96.6,342.0 C-94.6,344.7 -92.7,347.3 -90.8,350.0 C-88.8,352.7 -86.9,355.3 -85.1,358.0 C-83.2,360.7 -81.3,363.3 -79.5,366.0 C-77.6,368.7 -75.8,371.3 -74.0,374.0 C-72.2,376.7 -70.4,379.3 -68.6,382.0 C-66.8,384.7 -65.0,387.3 -63.3,390.0 C-61.6,392.7 -59.8,395.3 -58.1,398.0 C-56.4,400.7 -54.7,403.3 -53.0,406.0 C-51.3,408.7 -49.7,411.3 -48.0,414.0 C-46.4,416.7 -44.7,419.3 -43.1,422.0 C-41.5,424.7 -39.9,427.3 -38.3,430.0 C-36.7,432.7 -35.1,435.3 -33.5,438.0 C-32.0,440.7 -30.4,443.3 -28.9,446.0 C-27.3,448.7 -25.8,451.3 -24.3,454.0 C-22.8,456.7 -21.3,459.3 -19.8,462.0 C-18.3,464.7 -16.9,467.3 -15.4,470.0 C-14.0,472.7 -12.5,475.3 -11.1,478.0 C-9.7,480.7 -8.4,483.3 -7.0,486.0 C-5.7,488.7 -4.3,491.3 -3.0,494.0 C-1.7,496.7 -0.4,499.3 0.8,502.0 C2.1,504.7 3.3,507.3 4.4,510.0 C5.6,512.7 6.8,515.3 7.9,518.0 C9.0,520.7 10.0,523.3 11.1,526.0 C12.1,528.7 13.1,531.3 14.0,534.0 C15.0,536.7 15.9,539.3 16.8,542.0 C17.6,544.7 18.5,547.3 19.2,550.0 C20.0,552.7 20.7,555.3 21.4,558.0 C22.0,560.7 22.6,563.3 23.2,566.0 C23.7,568.7 24.2,571.3 24.6,574.0 C25.0,576.7 25.4,579.3 25.7,582.0 C26.0,584.7 26.2,587.3 26.4,590.0 C26.5,592.7 26.6,595.3 26.6,598.0 C26.6,600.7 26.6,603.3 26.4,606.0 C26.3,608.7 26.1,611.3 25.8,614.0 C25.6,616.7 25.1,619.3 24.7,622.0 C24.3,624.7 23.7,627.3 23.3,630.0 C22.8,632.7 22.3,635.3 21.8,638.0 C21.4,640.7 20.9,643.3 20.5,646.0 C20.0,648.7 19.5,651.3 19.0,654.0 C18.5,656.7 18.0,659.3 17.5,662.0 C17.0,664.7 16.5,667.3 16.0,670.0 C15.5,672.7 14.9,675.3 14.4,678.0 C13.9,680.7 13.1,684.7 12.9,686.0"/><path d="M-408.1,-10.0 C-406.9,-8.7 -403.3,-4.7 -400.9,-2.0 C-398.5,0.7 -396.1,3.3 -393.7,6.0 C-391.3,8.7 -388.9,11.3 -386.5,14.0 C-384.2,16.7 -381.8,19.3 -379.4,22.0 C-377.1,24.7 -374.7,27.3 -372.4,30.0 C-370.0,32.7 -367.7,35.3 -365.4,38.0 C-363.0,40.7 -360.7,43.3 -358.4,46.0 C-356.1,48.7 -353.8,51.3 -351.4,54.0 C-349.1,56.7 -346.8,59.3 -344.5,62.0 C-342.2,64.7 -339.9,67.3 -337.6,70.0 C-335.3,72.7 -333.1,75.3 -330.8,78.0 C-328.5,80.7 -326.2,83.3 -323.9,86.0 C-321.7,88.7 -319.4,91.3 -317.1,94.0 C-314.9,96.7 -312.6,99.3 -310.3,102.0 C-308.1,104.7 -305.8,107.3 -303.5,110.0 C-301.3,112.7 -299.0,115.3 -296.8,118.0 C-294.5,120.7 -292.3,123.3 -290.0,126.0 C-287.8,128.7 -285.5,131.3 -283.2,134.0 C-281.0,136.7 -278.7,139.3 -276.4,142.0 C-274.2,144.7 -271.9,147.3 -269.6,150.0 C-267.3,152.7 -265.0,155.3 -262.6,158.0 C-260.3,160.7 -258.0,163.3 -255.6,166.0 C-253.2,168.7 -250.9,171.3 -248.5,174.0 C-246.1,176.7 -243.7,179.3 -241.3,182.0 C-238.9,184.7 -236.4,187.3 -234.0,190.0 C-231.5,192.7 -229.1,195.3 -226.6,198.0 C-224.1,200.7 -221.7,203.3 -219.2,206.0 C-216.7,208.7 -214.2,211.3 -211.7,214.0 C-209.2,216.7 -206.7,219.3 -204.3,222.0 C-201.8,224.7 -199.3,227.3 -196.9,230.0 C-194.4,232.7 -192.0,235.3 -189.6,238.0 C-187.2,240.7 -184.8,243.3 -182.5,246.0 C-180.1,248.7 -177.8,251.3 -175.5,254.0 C-173.2,256.7 -170.9,259.3 -168.6,262.0 C-166.3,264.7 -164.0,267.3 -161.7,270.0 C-159.4,272.7 -157.1,275.3 -154.8,278.0 C-152.5,280.7 -150.2,283.3 -148.0,286.0 C-145.7,288.7 -143.4,291.3 -141.2,294.0 C-138.9,296.7 -136.7,299.3 -134.5,302.0 C-132.3,304.7 -130.1,307.3 -127.9,310.0 C-125.7,312.7 -123.5,315.3 -121.4,318.0 C-119.3,320.7 -117.1,323.3 -115.0,326.0 C-112.9,328.7 -110.8,331.3 -108.8,334.0 C-106.7,336.7 -104.7,339.3 -102.7,342.0 C-100.7,344.7 -98.7,347.3 -96.7,350.0 C-94.8,352.7 -92.8,355.3 -90.9,358.0 C-89.0,360.7 -87.1,363.3 -85.2,366.0 C-83.3,368.7 -81.4,371.3 -79.6,374.0 C-77.7,376.7 -75.9,379.3 -74.1,382.0 C-72.3,384.7 -70.5,387.3 -68.7,390.0 C-66.9,392.7 -65.2,395.3 -63.4,398.0 C-61.7,400.7 -60.0,403.3 -58.2,406.0 C-56.5,408.7 -54.8,411.3 -53.1,414.0 C-51.5,416.7 -49.8,419.3 -48.1,422.0 C-46.5,424.7 -44.9,427.3 -43.2,430.0 C-41.6,432.7 -40.0,435.3 -38.4,438.0 C-36.8,440.7 -35.2,443.3 -33.6,446.0 C-32.1,448.7 -30.5,451.3 -29.0,454.0 C-27.4,456.7 -25.9,459.3 -24.4,462.0 C-22.9,464.7 -21.4,467.3 -19.9,470.0 C-18.5,472.7 -17.0,475.3 -15.6,478.0 C-14.2,480.7 -12.7,483.3 -11.4,486.0 C-10.0,488.7 -8.6,491.3 -7.3,494.0 C-6.0,496.7 -4.7,499.3 -3.4,502.0 C-2.1,504.7 -0.9,507.3 0.3,510.0 C1.5,512.7 2.7,515.3 3.8,518.0 C4.9,520.7 6.0,523.3 7.0,526.0 C8.1,528.7 9.1,531.3 10.1,534.0 C11.1,536.7 12.0,539.3 12.9,542.0 C13.8,544.7 14.6,547.3 15.4,550.0 C16.2,552.7 16.9,555.3 17.6,558.0 C18.3,560.7 18.9,563.3 19.4,566.0 C20.0,568.7 20.5,571.3 20.9,574.0 C21.4,576.7 21.8,579.3 22.1,582.0 C22.4,584.7 22.6,587.3 22.8,590.0 C23.0,592.7 23.1,595.3 23.1,598.0 C23.1,600.7 23.0,603.3 22.9,606.0 C22.8,608.7 22.6,611.3 22.3,614.0 C22.1,616.7 21.6,619.3 21.2,622.0 C20.8,624.7 20.2,627.3 19.8,630.0 C19.3,632.7 18.8,635.3 18.3,638.0 C17.9,640.7 17.4,643.3 17.0,646.0 C16.5,648.7 16.0,651.3 15.5,654.0 C15.0,656.7 14.5,659.3 14.0,662.0 C13.5,664.7 13.0,667.3 12.5,670.0 C12.0,672.7 11.4,675.3 10.9,678.0 C10.4,680.7 9.6,684.7 9.4,686.0"/><path d="M-420.3,-10.0 C-419.1,-8.7 -415.4,-4.7 -412.9,-2.0 C-410.4,0.7 -408.0,3.3 -405.5,6.0 C-403.1,8.7 -400.7,11.3 -398.2,14.0 C-395.8,16.7 -393.4,19.3 -391.0,22.0 C-388.6,24.7 -386.2,27.3 -383.8,30.0 C-381.4,32.7 -379.0,35.3 -376.6,38.0 C-374.2,40.7 -371.8,43.3 -369.5,46.0 C-367.1,48.7 -364.7,51.3 -362.4,54.0 C-360.0,56.7 -357.6,59.3 -355.3,62.0 C-352.9,64.7 -350.6,67.3 -348.2,70.0 C-345.9,72.7 -343.6,75.3 -341.2,78.0 C-338.9,80.7 -336.6,83.3 -334.2,86.0 C-331.9,88.7 -329.6,91.3 -327.3,94.0 C-324.9,96.7 -322.6,99.3 -320.3,102.0 C-318.0,104.7 -315.7,107.3 -313.4,110.0 C-311.1,112.7 -308.8,115.3 -306.5,118.0 C-304.2,120.7 -301.9,123.3 -299.6,126.0 C-297.2,128.7 -294.9,131.3 -292.6,134.0 C-290.3,136.7 -288.0,139.3 -285.7,142.0 C-283.4,144.7 -281.0,147.3 -278.7,150.0 C-276.3,152.7 -274.0,155.3 -271.6,158.0 C-269.2,160.7 -266.8,163.3 -264.4,166.0 C-262.0,168.7 -259.6,171.3 -257.2,174.0 C-254.7,176.7 -252.3,179.3 -249.8,182.0 C-247.4,184.7 -244.9,187.3 -242.4,190.0 C-239.9,192.7 -237.4,195.3 -234.9,198.0 C-232.4,200.7 -229.8,203.3 -227.3,206.0 C-224.8,208.7 -222.2,211.3 -219.7,214.0 C-217.2,216.7 -214.6,219.3 -212.1,222.0 C-209.6,224.7 -207.1,227.3 -204.6,230.0 C-202.1,232.7 -199.7,235.3 -197.2,238.0 C-194.8,240.7 -192.4,243.3 -190.0,246.0 C-187.6,248.7 -185.2,251.3 -182.9,254.0 C-180.5,256.7 -178.2,259.3 -175.8,262.0 C-173.5,264.7 -171.1,267.3 -168.8,270.0 C-166.4,272.7 -164.1,275.3 -161.8,278.0 C-159.5,280.7 -157.1,283.3 -154.8,286.0 C-152.5,288.7 -150.2,291.3 -147.9,294.0 C-145.6,296.7 -143.4,299.3 -141.1,302.0 C-138.9,304.7 -136.6,307.3 -134.4,310.0 C-132.2,312.7 -130.0,315.3 -127.8,318.0 C-125.6,320.7 -123.4,323.3 -121.3,326.0 C-119.2,328.7 -117.0,331.3 -114.9,334.0 C-112.8,336.7 -110.8,339.3 -108.7,342.0 C-106.7,344.7 -104.7,347.3 -102.7,350.0 C-100.7,352.7 -98.7,355.3 -96.7,358.0 C-94.8,360.7 -92.8,363.3 -90.9,366.0 C-89.0,368.7 -87.1,371.3 -85.2,374.0 C-83.3,376.7 -81.5,379.3 -79.6,382.0 C-77.8,384.7 -75.9,387.3 -74.1,390.0 C-72.3,392.7 -70.5,395.3 -68.8,398.0 C-67.0,400.7 -65.2,403.3 -63.5,406.0 C-61.7,408.7 -60.0,411.3 -58.3,414.0 C-56.6,416.7 -54.9,419.3 -53.2,422.0 C-51.5,424.7 -49.8,427.3 -48.2,430.0 C-46.5,432.7 -44.9,435.3 -43.2,438.0 C-41.6,440.7 -40.0,443.3 -38.4,446.0 C-36.8,448.7 -35.2,451.3 -33.7,454.0 C-32.1,456.7 -30.5,459.3 -29.0,462.0 C-27.5,464.7 -25.9,467.3 -24.4,470.0 C-22.9,472.7 -21.5,475.3 -20.0,478.0 C-18.6,480.7 -17.1,483.3 -15.7,486.0 C-14.3,488.7 -12.9,491.3 -11.6,494.0 C-10.2,496.7 -8.9,499.3 -7.6,502.0 C-6.3,504.7 -5.1,507.3 -3.8,510.0 C-2.6,512.7 -1.4,515.3 -0.3,518.0 C0.9,520.7 2.0,523.3 3.0,526.0 C4.1,528.7 5.2,531.3 6.2,534.0 C7.1,536.7 8.1,539.3 9.0,542.0 C9.9,544.7 10.8,547.3 11.6,550.0 C12.4,552.7 13.1,555.3 13.8,558.0 C14.5,560.7 15.1,563.3 15.7,566.0 C16.3,568.7 16.8,571.3 17.3,574.0 C17.7,576.7 18.1,579.3 18.5,582.0 C18.8,584.7 19.0,587.3 19.2,590.0 C19.4,592.7 19.5,595.3 19.5,598.0 C19.5,600.7 19.5,603.3 19.4,606.0 C19.3,608.7 19.1,611.3 18.8,614.0 C18.6,616.7 18.1,619.3 17.7,622.0 C17.3,624.7 16.7,627.3 16.3,630.0 C15.8,632.7 15.3,635.3 14.8,638.0 C14.4,640.7 13.9,643.3 13.5,646.0 C13.0,648.7 12.5,651.3 12.0,654.0 C11.5,656.7 11.0,659.3 10.5,662.0 C10.0,664.7 9.5,667.3 9.0,670.0 C8.5,672.7 7.9,675.3 7.4,678.0 C6.9,680.7 6.1,684.7 5.9,686.0"/><path d="M-432.6,-10.0 C-431.3,-8.7 -427.5,-4.7 -424.9,-2.0 C-422.4,0.7 -419.9,3.3 -417.4,6.0 C-414.9,8.7 -412.4,11.3 -410.0,14.0 C-407.5,16.7 -405.0,19.3 -402.5,22.0 C-400.1,24.7 -397.6,27.3 -395.2,30.0 C-392.7,32.7 -390.3,35.3 -387.8,38.0 C-385.4,40.7 -383.0,43.3 -380.5,46.0 C-378.1,48.7 -375.7,51.3 -373.3,54.0 C-370.9,56.7 -368.4,59.3 -366.0,62.0 C-363.6,64.7 -361.2,67.3 -358.8,70.0 C-356.4,72.7 -354.1,75.3 -351.7,78.0 C-349.3,80.7 -346.9,83.3 -344.5,86.0 C-342.1,88.7 -339.8,91.3 -337.4,94.0 C-335.0,96.7 -332.7,99.3 -330.3,102.0 C-327.9,104.7 -325.6,107.3 -323.2,110.0 C-320.9,112.7 -318.5,115.3 -316.2,118.0 C-313.8,120.7 -311.5,123.3 -309.1,126.0 C-306.7,128.7 -304.4,131.3 -302.0,134.0 C-299.7,136.7 -297.3,139.3 -294.9,142.0 C-292.6,144.7 -290.2,147.3 -287.8,150.0 C-285.4,152.7 -283.0,155.3 -280.6,158.0 C-278.1,160.7 -275.7,163.3 -273.3,166.0 C-270.8,168.7 -268.3,171.3 -265.9,174.0 C-263.4,176.7 -260.9,179.3 -258.4,182.0 C-255.9,184.7 -253.3,187.3 -250.8,190.0 C-248.3,192.7 -245.7,195.3 -243.1,198.0 C-240.6,200.7 -238.0,203.3 -235.4,206.0 C-232.9,208.7 -230.3,211.3 -227.7,214.0 C-225.1,216.7 -222.6,219.3 -220.0,222.0 C-217.4,224.7 -214.9,227.3 -212.4,230.0 C-209.8,232.7 -207.3,235.3 -204.8,238.0 C-202.3,240.7 -199.9,243.3 -197.5,246.0 C-195.0,248.7 -192.6,251.3 -190.2,254.0 C-187.8,256.7 -185.4,259.3 -183.0,262.0 C-180.7,264.7 -178.3,267.3 -175.9,270.0 C-173.5,272.7 -171.1,275.3 -168.8,278.0 C-166.4,280.7 -164.0,283.3 -161.7,286.0 C-159.3,288.7 -157.0,291.3 -154.7,294.0 C-152.3,296.7 -150.0,299.3 -147.7,302.0 C-145.4,304.7 -143.2,307.3 -140.9,310.0 C-138.6,312.7 -136.4,315.3 -134.2,318.0 C-132.0,320.7 -129.7,323.3 -127.6,326.0 C-125.4,328.7 -123.2,331.3 -121.1,334.0 C-119.0,336.7 -116.9,339.3 -114.8,342.0 C-112.7,344.7 -110.6,347.3 -108.6,350.0 C-106.6,352.7 -104.6,355.3 -102.6,358.0 C-100.6,360.7 -98.6,363.3 -96.6,366.0 C-94.7,368.7 -92.8,371.3 -90.8,374.0 C-88.9,376.7 -87.0,379.3 -85.1,382.0 C-83.3,384.7 -81.4,387.3 -79.6,390.0 C-77.7,392.7 -75.9,395.3 -74.1,398.0 C-72.3,400.7 -70.5,403.3 -68.7,406.0 C-66.9,408.7 -65.2,411.3 -63.4,414.0 C-61.7,416.7 -59.9,419.3 -58.2,422.0 C-56.5,424.7 -54.8,427.3 -53.1,430.0 C-51.4,432.7 -49.8,435.3 -48.1,438.0 C-46.4,440.7 -44.8,443.3 -43.2,446.0 C-41.5,448.7 -39.9,451.3 -38.3,454.0 C-36.7,456.7 -35.1,459.3 -33.6,462.0 C-32.0,464.7 -30.5,467.3 -29.0,470.0 C-27.4,472.7 -25.9,475.3 -24.4,478.0 C-23.0,480.7 -21.5,483.3 -20.1,486.0 C-18.6,488.7 -17.2,491.3 -15.9,494.0 C-14.5,496.7 -13.1,499.3 -11.8,502.0 C-10.5,504.7 -9.2,507.3 -8.0,510.0 C-6.7,512.7 -5.5,515.3 -4.3,518.0 C-3.2,520.7 -2.0,523.3 -1.0,526.0 C0.1,528.7 1.2,531.3 2.2,534.0 C3.2,536.7 4.2,539.3 5.1,542.0 C6.1,544.7 6.9,547.3 7.7,550.0 C8.6,552.7 9.3,555.3 10.0,558.0 C10.8,560.7 11.4,563.3 12.0,566.0 C12.6,568.7 13.1,571.3 13.6,574.0 C14.1,576.7 14.5,579.3 14.8,582.0 C15.2,584.7 15.4,587.3 15.6,590.0 C15.8,592.7 15.9,595.3 16.0,598.0 C16.0,600.7 16.0,603.3 15.9,606.0 C15.7,608.7 15.6,611.3 15.3,614.0 C15.1,616.7 14.6,619.3 14.2,622.0 C13.8,624.7 13.2,627.3 12.8,630.0 C12.3,632.7 11.8,635.3 11.3,638.0 C10.9,640.7 10.4,643.3 10.0,646.0 C9.5,648.7 9.0,651.3 8.5,654.0 C8.0,656.7 7.5,659.3 7.0,662.0 C6.5,664.7 6.0,667.3 5.5,670.0 C5.0,672.7 4.4,675.3 3.9,678.0 C3.4,680.7 2.6,684.7 2.4,686.0"/><path d="M-444.8,-10.0 C-443.5,-8.7 -439.6,-4.7 -437.0,-2.0 C-434.4,0.7 -431.9,3.3 -429.3,6.0 C-426.7,8.7 -424.2,11.3 -421.7,14.0 C-419.1,16.7 -416.6,19.3 -414.1,22.0 C-411.6,24.7 -409.1,27.3 -406.6,30.0 C-404.1,32.7 -401.6,35.3 -399.1,38.0 C-396.6,40.7 -394.1,43.3 -391.6,46.0 C-389.1,48.7 -386.6,51.3 -384.2,54.0 C-381.7,56.7 -379.3,59.3 -376.8,62.0 C-374.3,64.7 -371.9,67.3 -369.4,70.0 C-367.0,72.7 -364.5,75.3 -362.1,78.0 C-359.7,80.7 -357.2,83.3 -354.8,86.0 C-352.4,88.7 -350.0,91.3 -347.5,94.0 C-345.1,96.7 -342.7,99.3 -340.3,102.0 C-337.9,104.7 -335.5,107.3 -333.1,110.0 C-330.7,112.7 -328.3,115.3 -325.9,118.0 C-323.5,120.7 -321.0,123.3 -318.6,126.0 C-316.2,128.7 -313.8,131.3 -311.4,134.0 C-309.0,136.7 -306.6,139.3 -304.2,142.0 C-301.8,144.7 -299.4,147.3 -296.9,150.0 C-294.5,152.7 -292.0,155.3 -289.5,158.0 C-287.1,160.7 -284.6,163.3 -282.1,166.0 C-279.6,168.7 -277.1,171.3 -274.6,174.0 C-272.0,176.7 -269.5,179.3 -266.9,182.0 C-264.4,184.7 -261.8,187.3 -259.2,190.0 C-256.6,192.7 -254.0,195.3 -251.4,198.0 C-248.8,200.7 -246.2,203.3 -243.6,206.0 C-241.0,208.7 -238.3,211.3 -235.7,214.0 C-233.1,216.7 -230.5,219.3 -227.9,222.0 C-225.3,224.7 -222.7,227.3 -220.1,230.0 C-217.5,232.7 -215.0,235.3 -212.4,238.0 C-209.9,240.7 -207.4,243.3 -204.9,246.0 C-202.5,248.7 -200.0,251.3 -197.6,254.0 C-195.1,256.7 -192.7,259.3 -190.3,262.0 C-187.8,264.7 -185.4,267.3 -183.0,270.0 C-180.6,272.7 -178.1,275.3 -175.7,278.0 C-173.3,280.7 -170.9,283.3 -168.5,286.0 C-166.2,288.7 -163.8,291.3 -161.4,294.0 C-159.0,296.7 -156.7,299.3 -154.4,302.0 C-152.0,304.7 -149.7,307.3 -147.4,310.0 C-145.1,312.7 -142.8,315.3 -140.6,318.0 C-138.3,320.7 -136.1,323.3 -133.8,326.0 C-131.6,328.7 -129.4,331.3 -127.3,334.0 C-125.1,336.7 -122.9,339.3 -120.8,342.0 C-118.7,344.7 -116.6,347.3 -114.5,350.0 C-112.5,352.7 -110.4,355.3 -108.4,358.0 C-106.4,360.7 -104.4,363.3 -102.4,366.0 C-100.4,368.7 -98.4,371.3 -96.5,374.0 C-94.5,376.7 -92.6,379.3 -90.7,382.0 C-88.8,384.7 -86.9,387.3 -85.0,390.0 C-83.1,392.7 -81.2,395.3 -79.4,398.0 C-77.6,400.7 -75.7,403.3 -73.9,406.0 C-72.1,408.7 -70.3,411.3 -68.5,414.0 C-66.8,416.7 -65.0,419.3 -63.2,422.0 C-61.5,424.7 -59.8,427.3 -58.1,430.0 C-56.3,432.7 -54.6,435.3 -52.9,438.0 C-51.3,440.7 -49.6,443.3 -47.9,446.0 C-46.3,448.7 -44.6,451.3 -43.0,454.0 C-41.4,456.7 -39.8,459.3 -38.2,462.0 C-36.6,464.7 -35.0,467.3 -33.5,470.0 C-31.9,472.7 -30.4,475.3 -28.9,478.0 C-27.4,480.7 -25.9,483.3 -24.4,486.0 C-23.0,488.7 -21.5,491.3 -20.1,494.0 C-18.7,496.7 -17.4,499.3 -16.0,502.0 C-14.7,504.7 -13.4,507.3 -12.1,510.0 C-10.8,512.7 -9.6,515.3 -8.4,518.0 C-7.2,520.7 -6.1,523.3 -5.0,526.0 C-3.8,528.7 -2.8,531.3 -1.7,534.0 C-0.7,536.7 0.3,539.3 1.2,542.0 C2.2,544.7 3.1,547.3 3.9,550.0 C4.8,552.7 5.6,555.3 6.3,558.0 C7.0,560.7 7.7,563.3 8.3,566.0 C8.9,568.7 9.4,571.3 9.9,574.0 C10.4,576.7 10.9,579.3 11.2,582.0 C11.6,584.7 11.8,587.3 12.0,590.0 C12.2,592.7 12.3,595.3 12.4,598.0 C12.4,600.7 12.4,603.3 12.3,606.0 C12.2,608.7 12.1,611.3 11.8,614.0 C11.5,616.7 11.1,619.3 10.7,622.0 C10.3,624.7 9.7,627.3 9.3,630.0 C8.8,632.7 8.3,635.3 7.8,638.0 C7.4,640.7 6.9,643.3 6.5,646.0 C6.0,648.7 5.5,651.3 5.0,654.0 C4.5,656.7 4.0,659.3 3.5,662.0 C3.0,664.7 2.5,667.3 2.0,670.0 C1.5,672.7 0.9,675.3 0.4,678.0 C-0.1,680.7 -0.9,684.7 -1.1,686.0"/><path d="M-457.0,-10.0 C-455.6,-8.7 -451.7,-4.7 -449.0,-2.0 C-446.4,0.7 -443.8,3.3 -441.2,6.0 C-438.6,8.7 -436.0,11.3 -433.4,14.0 C-430.8,16.7 -428.2,19.3 -425.6,22.0 C-423.1,24.7 -420.5,27.3 -417.9,30.0 C-415.4,32.7 -412.8,35.3 -410.3,38.0 C-407.7,40.7 -405.2,43.3 -402.7,46.0 C-400.1,48.7 -397.6,51.3 -395.1,54.0 C-392.6,56.7 -390.1,59.3 -387.6,62.0 C-385.0,64.7 -382.5,67.3 -380.0,70.0 C-377.5,72.7 -375.0,75.3 -372.6,78.0 C-370.1,80.7 -367.6,83.3 -365.1,86.0 C-362.6,88.7 -360.2,91.3 -357.7,94.0 C-355.2,96.7 -352.8,99.3 -350.3,102.0 C-347.8,104.7 -345.4,107.3 -342.9,110.0 C-340.5,112.7 -338.0,115.3 -335.5,118.0 C-333.1,120.7 -330.6,123.3 -328.2,126.0 C-325.7,128.7 -323.3,131.3 -320.8,134.0 C-318.4,136.7 -315.9,139.3 -313.4,142.0 C-311.0,144.7 -308.5,147.3 -306.0,150.0 C-303.5,152.7 -301.0,155.3 -298.5,158.0 C-296.0,160.7 -293.5,163.3 -290.9,166.0 C-288.4,168.7 -285.8,171.3 -283.2,174.0 C-280.7,176.7 -278.1,179.3 -275.5,182.0 C-272.9,184.7 -270.3,187.3 -267.6,190.0 C-265.0,192.7 -262.3,195.3 -259.7,198.0 C-257.0,200.7 -254.4,203.3 -251.7,206.0 C-249.1,208.7 -246.4,211.3 -243.7,214.0 C-241.1,216.7 -238.4,219.3 -235.7,222.0 C-233.1,224.7 -230.5,227.3 -227.8,230.0 C-225.2,232.7 -222.6,235.3 -220.1,238.0 C-217.5,240.7 -214.9,243.3 -212.4,246.0 C-209.9,248.7 -207.4,251.3 -204.9,254.0 C-202.5,256.7 -200.0,259.3 -197.5,262.0 C-195.0,264.7 -192.6,267.3 -190.1,270.0 C-187.6,272.7 -185.2,275.3 -182.7,278.0 C-180.3,280.7 -177.8,283.3 -175.4,286.0 C-173.0,288.7 -170.6,291.3 -168.2,294.0 C-165.8,296.7 -163.4,299.3 -161.0,302.0 C-158.6,304.7 -156.3,307.3 -153.9,310.0 C-151.6,312.7 -149.3,315.3 -147.0,318.0 C-144.7,320.7 -142.4,323.3 -140.1,326.0 C-137.9,328.7 -135.6,331.3 -133.4,334.0 C-131.2,336.7 -129.0,339.3 -126.9,342.0 C-124.7,344.7 -122.6,347.3 -120.5,350.0 C-118.4,352.7 -116.3,355.3 -114.2,358.0 C-112.2,360.7 -110.1,363.3 -108.1,366.0 C-106.1,368.7 -104.1,371.3 -102.1,374.0 C-100.1,376.7 -98.1,379.3 -96.2,382.0 C-94.2,384.7 -92.3,387.3 -90.4,390.0 C-88.5,392.7 -86.6,395.3 -84.7,398.0 C-82.8,400.7 -81.0,403.3 -79.1,406.0 C-77.3,408.7 -75.5,411.3 -73.7,414.0 C-71.9,416.7 -70.1,419.3 -68.3,422.0 C-66.5,424.7 -64.7,427.3 -63.0,430.0 C-61.2,432.7 -59.5,435.3 -57.8,438.0 C-56.1,440.7 -54.4,443.3 -52.7,446.0 C-51.0,448.7 -49.3,451.3 -47.7,454.0 C-46.0,456.7 -44.4,459.3 -42.8,462.0 C-41.2,464.7 -39.6,467.3 -38.0,470.0 C-36.4,472.7 -34.8,475.3 -33.3,478.0 C-31.8,480.7 -30.3,483.3 -28.8,486.0 C-27.3,488.7 -25.8,491.3 -24.4,494.0 C-23.0,496.7 -21.6,499.3 -20.2,502.0 C-18.9,504.7 -17.5,507.3 -16.2,510.0 C-14.9,512.7 -13.7,515.3 -12.5,518.0 C-11.3,520.7 -10.1,523.3 -9.0,526.0 C-7.8,528.7 -6.7,531.3 -5.7,534.0 C-4.6,536.7 -3.6,539.3 -2.6,542.0 C-1.7,544.7 -0.8,547.3 0.1,550.0 C1.0,552.7 1.8,555.3 2.5,558.0 C3.3,560.7 3.9,563.3 4.6,566.0 C5.2,568.7 5.8,571.3 6.3,574.0 C6.8,576.7 7.2,579.3 7.6,582.0 C7.9,584.7 8.2,587.3 8.4,590.0 C8.7,592.7 8.8,595.3 8.8,598.0 C8.9,600.7 8.9,603.3 8.8,606.0 C8.7,608.7 8.6,611.3 8.3,614.0 C8.0,616.7 7.6,619.3 7.2,622.0 C6.8,624.7 6.2,627.3 5.8,630.0 C5.3,632.7 4.8,635.3 4.3,638.0 C3.9,640.7 3.4,643.3 3.0,646.0 C2.5,648.7 2.0,651.3 1.5,654.0 C1.0,656.7 0.5,659.3 0.0,662.0 C-0.5,664.7 -1.0,667.3 -1.5,670.0 C-2.0,672.7 -2.6,675.3 -3.1,678.0 C-3.6,680.7 -4.4,684.7 -4.6,686.0"/><path d="M-469.2,-10.0 C-467.8,-8.7 -463.8,-4.7 -461.1,-2.0 C-458.4,0.7 -455.7,3.3 -453.1,6.0 C-450.4,8.7 -447.7,11.3 -445.1,14.0 C-442.5,16.7 -439.8,19.3 -437.2,22.0 C-434.6,24.7 -432.0,27.3 -429.3,30.0 C-426.7,32.7 -424.1,35.3 -421.5,38.0 C-418.9,40.7 -416.3,43.3 -413.7,46.0 C-411.2,48.7 -408.6,51.3 -406.0,54.0 C-403.4,56.7 -400.9,59.3 -398.3,62.0 C-395.7,64.7 -393.2,67.3 -390.6,70.0 C-388.1,72.7 -385.5,75.3 -383.0,78.0 C-380.5,80.7 -377.9,83.3 -375.4,86.0 C-372.9,88.7 -370.4,91.3 -367.8,94.0 C-365.3,96.7 -362.8,99.3 -360.3,102.0 C-357.8,104.7 -355.3,107.3 -352.8,110.0 C-350.2,112.7 -347.7,115.3 -345.2,118.0 C-342.7,120.7 -340.2,123.3 -337.7,126.0 C-335.2,128.7 -332.7,131.3 -330.2,134.0 C-327.7,136.7 -325.2,139.3 -322.7,142.0 C-320.2,144.7 -317.7,147.3 -315.1,150.0 C-312.6,152.7 -310.0,155.3 -307.5,158.0 C-304.9,160.7 -302.3,163.3 -299.7,166.0 C-297.1,168.7 -294.5,171.3 -291.9,174.0 C-289.3,176.7 -286.7,179.3 -284.0,182.0 C-281.4,184.7 -278.7,187.3 -276.0,190.0 C-273.4,192.7 -270.7,195.3 -268.0,198.0 C-265.3,200.7 -262.6,203.3 -259.9,206.0 C-257.2,208.7 -254.4,211.3 -251.7,214.0 C-249.0,216.7 -246.3,219.3 -243.6,222.0 C-240.9,224.7 -238.2,227.3 -235.6,230.0 C-232.9,232.7 -230.3,235.3 -227.7,238.0 C-225.0,240.7 -222.5,243.3 -219.9,246.0 C-217.3,248.7 -214.8,251.3 -212.3,254.0 C-209.8,256.7 -207.2,259.3 -204.7,262.0 C-202.2,264.7 -199.7,267.3 -197.2,270.0 C-194.7,272.7 -192.2,275.3 -189.7,278.0 C-187.2,280.7 -184.7,283.3 -182.3,286.0 C-179.8,288.7 -177.3,291.3 -174.9,294.0 C-172.5,296.7 -170.0,299.3 -167.6,302.0 C-165.2,304.7 -162.8,307.3 -160.4,310.0 C-158.0,312.7 -155.7,315.3 -153.3,318.0 C-151.0,320.7 -148.7,323.3 -146.4,326.0 C-144.1,328.7 -141.8,331.3 -139.6,334.0 C-137.3,336.7 -135.1,339.3 -132.9,342.0 C-130.7,344.7 -128.6,347.3 -126.4,350.0 C-124.3,352.7 -122.2,355.3 -120.1,358.0 C-118.0,360.7 -115.9,363.3 -113.8,366.0 C-111.8,368.7 -109.7,371.3 -107.7,374.0 C-105.7,376.7 -103.7,379.3 -101.7,382.0 C-99.7,384.7 -97.8,387.3 -95.8,390.0 C-93.9,392.7 -91.9,395.3 -90.0,398.0 C-88.1,400.7 -86.2,403.3 -84.4,406.0 C-82.5,408.7 -80.6,411.3 -78.8,414.0 C-76.9,416.7 -75.1,419.3 -73.3,422.0 C-71.5,424.7 -69.7,427.3 -67.9,430.0 C-66.2,432.7 -64.4,435.3 -62.7,438.0 C-60.9,440.7 -59.2,443.3 -57.5,446.0 C-55.7,448.7 -54.0,451.3 -52.4,454.0 C-50.7,456.7 -49.0,459.3 -47.4,462.0 C-45.7,464.7 -44.1,467.3 -42.5,470.0 C-40.9,472.7 -39.3,475.3 -37.7,478.0 C-36.2,480.7 -34.6,483.3 -33.1,486.0 C-31.6,488.7 -30.1,491.3 -28.7,494.0 C-27.2,496.7 -25.8,499.3 -24.4,502.0 C-23.0,504.7 -21.7,507.3 -20.4,510.0 C-19.1,512.7 -17.8,515.3 -16.5,518.0 C-15.3,520.7 -14.1,523.3 -13.0,526.0 C-11.8,528.7 -10.7,531.3 -9.6,534.0 C-8.5,536.7 -7.5,539.3 -6.5,542.0 C-5.5,544.7 -4.6,547.3 -3.7,550.0 C-2.8,552.7 -2.0,555.3 -1.3,558.0 C-0.5,560.7 0.2,563.3 0.8,566.0 C1.5,568.7 2.1,571.3 2.6,574.0 C3.1,576.7 3.6,579.3 3.9,582.0 C4.3,584.7 4.6,587.3 4.9,590.0 C5.1,592.7 5.2,595.3 5.3,598.0 C5.4,600.7 5.3,603.3 5.3,606.0 C5.2,608.7 5.1,611.3 4.8,614.0 C4.5,616.7 4.1,619.3 3.7,622.0 C3.3,624.7 2.7,627.3 2.3,630.0 C1.8,632.7 1.3,635.3 0.8,638.0 C0.4,640.7 -0.1,643.3 -0.5,646.0 C-1.0,648.7 -1.5,651.3 -2.0,654.0 C-2.5,656.7 -3.0,659.3 -3.5,662.0 C-4.0,664.7 -4.5,667.3 -5.0,670.0 C-5.5,672.7 -6.1,675.3 -6.6,678.0 C-7.1,680.7 -7.9,684.7 -8.1,686.0"/><path d="M-481.4,-10.0 C-480.0,-8.7 -475.9,-4.7 -473.1,-2.0 C-470.4,0.7 -467.6,3.3 -464.9,6.0 C-462.2,8.7 -459.5,11.3 -456.8,14.0 C-454.1,16.7 -451.4,19.3 -448.7,22.0 C-446.1,24.7 -443.4,27.3 -440.7,30.0 C-438.1,32.7 -435.4,35.3 -432.8,38.0 C-430.1,40.7 -427.5,43.3 -424.8,46.0 C-422.2,48.7 -419.5,51.3 -416.9,54.0 C-414.3,56.7 -411.7,59.3 -409.1,62.0 C-406.5,64.7 -403.8,67.3 -401.2,70.0 C-398.6,72.7 -396.0,75.3 -393.5,78.0 C-390.9,80.7 -388.3,83.3 -385.7,86.0 C-383.1,88.7 -380.5,91.3 -378.0,94.0 C-375.4,96.7 -372.8,99.3 -370.3,102.0 C-367.7,104.7 -365.2,107.3 -362.6,110.0 C-360.0,112.7 -357.5,115.3 -354.9,118.0 C-352.4,120.7 -349.8,123.3 -347.3,126.0 C-344.7,128.7 -342.2,131.3 -339.6,134.0 C-337.1,136.7 -334.5,139.3 -332.0,142.0 C-329.4,144.7 -326.8,147.3 -324.2,150.0 C-321.7,152.7 -319.0,155.3 -316.4,158.0 C-313.8,160.7 -311.2,163.3 -308.6,166.0 C-305.9,168.7 -303.3,171.3 -300.6,174.0 C-297.9,176.7 -295.3,179.3 -292.6,182.0 C-289.9,184.7 -287.2,187.3 -284.4,190.0 C-281.7,192.7 -279.0,195.3 -276.2,198.0 C-273.5,200.7 -270.7,203.3 -268.0,206.0 C-265.2,208.7 -262.5,211.3 -259.7,214.0 C-257.0,216.7 -254.2,219.3 -251.5,222.0 C-248.8,224.7 -246.0,227.3 -243.3,230.0 C-240.6,232.7 -237.9,235.3 -235.3,238.0 C-232.6,240.7 -230.0,243.3 -227.4,246.0 C-224.8,248.7 -222.2,251.3 -219.6,254.0 C-217.1,256.7 -214.5,259.3 -212.0,262.0 C-209.4,264.7 -206.9,267.3 -204.3,270.0 C-201.8,272.7 -199.2,275.3 -196.7,278.0 C-194.2,280.7 -191.6,283.3 -189.1,286.0 C-186.6,288.7 -184.1,291.3 -181.6,294.0 C-179.2,296.7 -176.7,299.3 -174.2,302.0 C-171.8,304.7 -169.3,307.3 -166.9,310.0 C-164.5,312.7 -162.1,315.3 -159.7,318.0 C-157.4,320.7 -155.0,323.3 -152.7,326.0 C-150.3,328.7 -148.0,331.3 -145.8,334.0 C-143.5,336.7 -141.2,339.3 -139.0,342.0 C-136.8,344.7 -134.6,347.3 -132.4,350.0 C-130.2,352.7 -128.0,355.3 -125.9,358.0 C-123.8,360.7 -121.6,363.3 -119.6,366.0 C-117.5,368.7 -115.4,371.3 -113.3,374.0 C-111.3,376.7 -109.2,379.3 -107.2,382.0 C-105.2,384.7 -103.2,387.3 -101.2,390.0 C-99.3,392.7 -97.3,395.3 -95.4,398.0 C-93.4,400.7 -91.5,403.3 -89.6,406.0 C-87.7,408.7 -85.8,411.3 -83.9,414.0 C-82.0,416.7 -80.2,419.3 -78.3,422.0 C-76.5,424.7 -74.7,427.3 -72.9,430.0 C-71.1,432.7 -69.3,435.3 -67.5,438.0 C-65.7,440.7 -64.0,443.3 -62.2,446.0 C-60.5,448.7 -58.7,451.3 -57.0,454.0 C-55.3,456.7 -53.6,459.3 -52.0,462.0 C-50.3,464.7 -48.6,467.3 -47.0,470.0 C-45.4,472.7 -43.8,475.3 -42.2,478.0 C-40.6,480.7 -39.0,483.3 -37.5,486.0 C-36.0,488.7 -34.4,491.3 -33.0,494.0 C-31.5,496.7 -30.0,499.3 -28.6,502.0 C-27.2,504.7 -25.8,507.3 -24.5,510.0 C-23.2,512.7 -21.9,515.3 -20.6,518.0 C-19.4,520.7 -18.1,523.3 -17.0,526.0 C-15.8,528.7 -14.6,531.3 -13.5,534.0 C-12.4,536.7 -11.4,539.3 -10.4,542.0 C-9.4,544.7 -8.4,547.3 -7.5,550.0 C-6.6,552.7 -5.8,555.3 -5.0,558.0 C-4.2,560.7 -3.5,563.3 -2.9,566.0 C-2.2,568.7 -1.6,571.3 -1.1,574.0 C-0.6,576.7 -0.1,579.3 0.3,582.0 C0.7,584.7 1.0,587.3 1.3,590.0 C1.5,592.7 1.6,595.3 1.7,598.0 C1.8,600.7 1.8,603.3 1.7,606.0 C1.7,608.7 1.5,611.3 1.3,614.0 C1.0,616.7 0.6,619.3 0.2,622.0 C-0.2,624.7 -0.8,627.3 -1.2,630.0 C-1.7,632.7 -2.2,635.3 -2.7,638.0 C-3.1,640.7 -3.6,643.3 -4.0,646.0 C-4.5,648.7 -5.0,651.3 -5.5,654.0 C-6.0,656.7 -6.5,659.3 -7.0,662.0 C-7.5,664.7 -8.0,667.3 -8.5,670.0 C-9.0,672.7 -9.6,675.3 -10.1,678.0 C-10.6,680.7 -11.4,684.7 -11.6,686.0"/><path d="M-493.6,-10.0 C-492.2,-8.7 -488.0,-4.7 -485.2,-2.0 C-482.4,0.7 -479.6,3.3 -476.8,6.0 C-474.0,8.7 -471.3,11.3 -468.5,14.0 C-465.8,16.7 -463.0,19.3 -460.3,22.0 C-457.6,24.7 -454.8,27.3 -452.1,30.0 C-449.4,32.7 -446.7,35.3 -444.0,38.0 C-441.3,40.7 -438.6,43.3 -435.9,46.0 C-433.2,48.7 -430.5,51.3 -427.8,54.0 C-425.2,56.7 -422.5,59.3 -419.8,62.0 C-417.2,64.7 -414.5,67.3 -411.8,70.0 C-409.2,72.7 -406.5,75.3 -403.9,78.0 C-401.3,80.7 -398.6,83.3 -396.0,86.0 C-393.4,88.7 -390.7,91.3 -388.1,94.0 C-385.5,96.7 -382.9,99.3 -380.3,102.0 C-377.7,104.7 -375.0,107.3 -372.4,110.0 C-369.8,112.7 -367.2,115.3 -364.6,118.0 C-362.0,120.7 -359.4,123.3 -356.8,126.0 C-354.2,128.7 -351.6,131.3 -349.0,134.0 C-346.4,136.7 -343.8,139.3 -341.2,142.0 C-338.6,144.7 -336.0,147.3 -333.3,150.0 C-330.7,152.7 -328.1,155.3 -325.4,158.0 C-322.7,160.7 -320.1,163.3 -317.4,166.0 C-314.7,168.7 -312.0,171.3 -309.3,174.0 C-306.6,176.7 -303.8,179.3 -301.1,182.0 C-298.4,184.7 -295.6,187.3 -292.9,190.0 C-290.1,192.7 -287.3,195.3 -284.5,198.0 C-281.7,200.7 -278.9,203.3 -276.1,206.0 C-273.3,208.7 -270.5,211.3 -267.7,214.0 C-264.9,216.7 -262.1,219.3 -259.4,222.0 C-256.6,224.7 -253.8,227.3 -251.1,230.0 C-248.3,232.7 -245.6,235.3 -242.9,238.0 C-240.2,240.7 -237.5,243.3 -234.9,246.0 C-232.2,248.7 -229.6,251.3 -227.0,254.0 C-224.4,256.7 -221.8,259.3 -219.2,262.0 C-216.6,264.7 -214.0,267.3 -211.4,270.0 C-208.8,272.7 -206.2,275.3 -203.7,278.0 C-201.1,280.7 -198.5,283.3 -196.0,286.0 C-193.4,288.7 -190.9,291.3 -188.4,294.0 C-185.9,296.7 -183.3,299.3 -180.9,302.0 C-178.4,304.7 -175.9,307.3 -173.4,310.0 C-171.0,312.7 -168.5,315.3 -166.1,318.0 C-163.7,320.7 -161.3,323.3 -158.9,326.0 C-156.6,328.7 -154.2,331.3 -151.9,334.0 C-149.6,336.7 -147.3,339.3 -145.0,342.0 C-142.8,344.7 -140.5,347.3 -138.3,350.0 C-136.1,352.7 -133.9,355.3 -131.7,358.0 C-129.6,360.7 -127.4,363.3 -125.3,366.0 C-123.2,368.7 -121.0,371.3 -119.0,374.0 C-116.9,376.7 -114.8,379.3 -112.8,382.0 C-110.7,384.7 -108.7,387.3 -106.7,390.0 C-104.6,392.7 -102.7,395.3 -100.7,398.0 C-98.7,400.7 -96.7,403.3 -94.8,406.0 C-92.9,408.7 -90.9,411.3 -89.0,414.0 C-87.1,416.7 -85.3,419.3 -83.4,422.0 C-81.5,424.7 -79.7,427.3 -77.8,430.0 C-76.0,432.7 -74.2,435.3 -72.4,438.0 C-70.6,440.7 -68.8,443.3 -67.0,446.0 C-65.2,448.7 -63.5,451.3 -61.7,454.0 C-60.0,456.7 -58.3,459.3 -56.6,462.0 C-54.9,464.7 -53.2,467.3 -51.5,470.0 C-49.9,472.7 -48.2,475.3 -46.6,478.0 C-45.0,480.7 -43.4,483.3 -41.8,486.0 C-40.3,488.7 -38.7,491.3 -37.2,494.0 C-35.7,496.7 -34.3,499.3 -32.8,502.0 C-31.4,504.7 -30.0,507.3 -28.6,510.0 C-27.3,512.7 -26.0,515.3 -24.7,518.0 C-23.4,520.7 -22.2,523.3 -21.0,526.0 C-19.8,528.7 -18.6,531.3 -17.5,534.0 C-16.4,536.7 -15.3,539.3 -14.3,542.0 C-13.2,544.7 -12.3,547.3 -11.4,550.0 C-10.5,552.7 -9.6,555.3 -8.8,558.0 C-8.0,560.7 -7.3,563.3 -6.6,566.0 C-5.9,568.7 -5.3,571.3 -4.8,574.0 C-4.2,576.7 -3.7,579.3 -3.3,582.0 C-2.9,584.7 -2.6,587.3 -2.3,590.0 C-2.1,592.7 -1.9,595.3 -1.8,598.0 C-1.7,600.7 -1.7,603.3 -1.8,606.0 C-1.9,608.7 -2.0,611.3 -2.2,614.0 C-2.5,616.7 -2.9,619.3 -3.3,622.0 C-3.7,624.7 -4.3,627.3 -4.7,630.0 C-5.2,632.7 -5.7,635.3 -6.2,638.0 C-6.6,640.7 -7.1,643.3 -7.5,646.0 C-8.0,648.7 -8.5,651.3 -9.0,654.0 C-9.5,656.7 -10.0,659.3 -10.5,662.0 C-11.0,664.7 -11.5,667.3 -12.0,670.0 C-12.5,672.7 -13.1,675.3 -13.6,678.0 C-14.1,680.7 -14.9,684.7 -15.1,686.0"/><path d="M-505.8,-10.0 C-504.4,-8.7 -500.0,-4.7 -497.2,-2.0 C-494.3,0.7 -491.5,3.3 -488.7,6.0 C-485.9,8.7 -483.0,11.3 -480.2,14.0 C-477.4,16.7 -474.6,19.3 -471.9,22.0 C-469.1,24.7 -466.3,27.3 -463.5,30.0 C-460.7,32.7 -458.0,35.3 -455.2,38.0 C-452.5,40.7 -449.7,43.3 -447.0,46.0 C-444.2,48.7 -441.5,51.3 -438.8,54.0 C-436.0,56.7 -433.3,59.3 -430.6,62.0 C-427.9,64.7 -425.2,67.3 -422.4,70.0 C-419.7,72.7 -417.0,75.3 -414.3,78.0 C-411.7,80.7 -409.0,83.3 -406.3,86.0 C-403.6,88.7 -400.9,91.3 -398.3,94.0 C-395.6,96.7 -392.9,99.3 -390.3,102.0 C-387.6,104.7 -384.9,107.3 -382.3,110.0 C-379.6,112.7 -377.0,115.3 -374.3,118.0 C-371.7,120.7 -369.0,123.3 -366.4,126.0 C-363.7,128.7 -361.1,131.3 -358.4,134.0 C-355.8,136.7 -353.1,139.3 -350.5,142.0 C-347.8,144.7 -345.1,147.3 -342.5,150.0 C-339.8,152.7 -337.1,155.3 -334.4,158.0 C-331.7,160.7 -328.9,163.3 -326.2,166.0 C-323.5,168.7 -320.7,171.3 -318.0,174.0 C-315.2,176.7 -312.4,179.3 -309.7,182.0 C-306.9,184.7 -304.1,187.3 -301.3,190.0 C-298.4,192.7 -295.6,195.3 -292.8,198.0 C-290.0,200.7 -287.1,203.3 -284.3,206.0 C-281.4,208.7 -278.6,211.3 -275.7,214.0 C-272.9,216.7 -270.1,219.3 -267.2,222.0 C-264.4,224.7 -261.6,227.3 -258.8,230.0 C-256.0,232.7 -253.2,235.3 -250.5,238.0 C-247.8,240.7 -245.0,243.3 -242.3,246.0 C-239.7,248.7 -237.0,251.3 -234.4,254.0 C-231.7,256.7 -229.1,259.3 -226.4,262.0 C-223.8,264.7 -221.1,267.3 -218.5,270.0 C-215.9,272.7 -213.3,275.3 -210.7,278.0 C-208.0,280.7 -205.4,283.3 -202.8,286.0 C-200.3,288.7 -197.7,291.3 -195.1,294.0 C-192.6,296.7 -190.0,299.3 -187.5,302.0 C-184.9,304.7 -182.4,307.3 -179.9,310.0 C-177.4,312.7 -175.0,315.3 -172.5,318.0 C-170.1,320.7 -167.6,323.3 -165.2,326.0 C-162.8,328.7 -160.4,331.3 -158.1,334.0 C-155.7,336.7 -153.4,339.3 -151.1,342.0 C-148.8,344.7 -146.5,347.3 -144.3,350.0 C-142.0,352.7 -139.8,355.3 -137.6,358.0 C-135.4,360.7 -133.2,363.3 -131.0,366.0 C-128.8,368.7 -126.7,371.3 -124.6,374.0 C-122.5,376.7 -120.4,379.3 -118.3,382.0 C-116.2,384.7 -114.1,387.3 -112.1,390.0 C-110.0,392.7 -108.0,395.3 -106.0,398.0 C-104.0,400.7 -102.0,403.3 -100.0,406.0 C-98.1,408.7 -96.1,411.3 -94.2,414.0 C-92.2,416.7 -90.3,419.3 -88.4,422.0 C-86.5,424.7 -84.6,427.3 -82.8,430.0 C-80.9,432.7 -79.0,435.3 -77.2,438.0 C-75.4,440.7 -73.6,443.3 -71.8,446.0 C-69.9,448.7 -68.2,451.3 -66.4,454.0 C-64.6,456.7 -62.9,459.3 -61.1,462.0 C-59.4,464.7 -57.7,467.3 -56.0,470.0 C-54.3,472.7 -52.7,475.3 -51.0,478.0 C-49.4,480.7 -47.8,483.3 -46.2,486.0 C-44.6,488.7 -43.1,491.3 -41.5,494.0 C-40.0,496.7 -38.5,499.3 -37.0,502.0 C-35.6,504.7 -34.2,507.3 -32.8,510.0 C-31.4,512.7 -30.0,515.3 -28.7,518.0 C-27.4,520.7 -26.2,523.3 -25.0,526.0 C-23.7,528.7 -22.6,531.3 -21.4,534.0 C-20.3,536.7 -19.2,539.3 -18.1,542.0 C-17.1,544.7 -16.1,547.3 -15.2,550.0 C-14.3,552.7 -13.4,555.3 -12.6,558.0 C-11.8,560.7 -11.0,563.3 -10.3,566.0 C-9.6,568.7 -9.0,571.3 -8.4,574.0 C-7.9,576.7 -7.4,579.3 -6.9,582.0 C-6.5,584.7 -6.2,587.3 -5.9,590.0 C-5.7,592.7 -5.5,595.3 -5.4,598.0 C-5.3,600.7 -5.3,603.3 -5.3,606.0 C-5.4,608.7 -5.5,611.3 -5.7,614.0 C-6.0,616.7 -6.4,619.3 -6.8,622.0 C-7.2,624.7 -7.8,627.3 -8.2,630.0 C-8.7,632.7 -9.2,635.3 -9.7,638.0 C-10.1,640.7 -10.6,643.3 -11.0,646.0 C-11.5,648.7 -12.0,651.3 -12.5,654.0 C-13.0,656.7 -13.5,659.3 -14.0,662.0 C-14.5,664.7 -15.0,667.3 -15.5,670.0 C-16.0,672.7 -16.6,675.3 -17.1,678.0 C-17.6,680.7 -18.4,684.7 -18.6,686.0"/><path d="M-518.0,-10.0 C-516.5,-8.7 -512.1,-4.7 -509.2,-2.0 C-506.3,0.7 -503.4,3.3 -500.6,6.0 C-497.7,8.7 -494.8,11.3 -492.0,14.0 C-489.1,16.7 -486.2,19.3 -483.4,22.0 C-480.6,24.7 -477.7,27.3 -474.9,30.0 C-472.1,32.7 -469.3,35.3 -466.4,38.0 C-463.6,40.7 -460.8,43.3 -458.0,46.0 C-455.2,48.7 -452.4,51.3 -449.7,54.0 C-446.9,56.7 -444.1,59.3 -441.3,62.0 C-438.6,64.7 -435.8,67.3 -433.0,70.0 C-430.3,72.7 -427.5,75.3 -424.8,78.0 C-422.1,80.7 -419.3,83.3 -416.6,86.0 C-413.8,88.7 -411.1,91.3 -408.4,94.0 C-405.7,96.7 -403.0,99.3 -400.2,102.0 C-397.5,104.7 -394.8,107.3 -392.1,110.0 C-389.4,112.7 -386.7,115.3 -384.0,118.0 C-381.3,120.7 -378.6,123.3 -375.9,126.0 C-373.2,128.7 -370.5,131.3 -367.8,134.0 C-365.1,136.7 -362.4,139.3 -359.7,142.0 C-357.0,144.7 -354.3,147.3 -351.6,150.0 C-348.8,152.7 -346.1,155.3 -343.3,158.0 C-340.6,160.7 -337.8,163.3 -335.0,166.0 C-332.3,168.7 -329.5,171.3 -326.7,174.0 C-323.9,176.7 -321.0,179.3 -318.2,182.0 C-315.4,184.7 -312.5,187.3 -309.7,190.0 C-306.8,192.7 -303.9,195.3 -301.1,198.0 C-298.2,200.7 -295.3,203.3 -292.4,206.0 C-289.5,208.7 -286.6,211.3 -283.7,214.0 C-280.9,216.7 -278.0,219.3 -275.1,222.0 C-272.2,224.7 -269.4,227.3 -266.5,230.0 C-263.7,232.7 -260.9,235.3 -258.1,238.0 C-255.3,240.7 -252.6,243.3 -249.8,246.0 C-247.1,248.7 -244.4,251.3 -241.7,254.0 C-239.0,256.7 -236.3,259.3 -233.7,262.0 C-231.0,264.7 -228.3,267.3 -225.6,270.0 C-223.0,272.7 -220.3,275.3 -217.6,278.0 C-215.0,280.7 -212.3,283.3 -209.7,286.0 C-207.1,288.7 -204.5,291.3 -201.9,294.0 C-199.3,296.7 -196.7,299.3 -194.1,302.0 C-191.5,304.7 -189.0,307.3 -186.4,310.0 C-183.9,312.7 -181.4,315.3 -178.9,318.0 C-176.4,320.7 -173.9,323.3 -171.5,326.0 C-169.1,328.7 -166.6,331.3 -164.2,334.0 C-161.8,336.7 -159.5,339.3 -157.1,342.0 C-154.8,344.7 -152.5,347.3 -150.2,350.0 C-147.9,352.7 -145.6,355.3 -143.4,358.0 C-141.2,360.7 -138.9,363.3 -136.7,366.0 C-134.5,368.7 -132.4,371.3 -130.2,374.0 C-128.0,376.7 -125.9,379.3 -123.8,382.0 C-121.7,384.7 -119.6,387.3 -117.5,390.0 C-115.4,392.7 -113.4,395.3 -111.3,398.0 C-109.3,400.7 -107.3,403.3 -105.3,406.0 C-103.3,408.7 -101.3,411.3 -99.3,414.0 C-97.3,416.7 -95.4,419.3 -93.4,422.0 C-91.5,424.7 -89.6,427.3 -87.7,430.0 C-85.8,432.7 -83.9,435.3 -82.1,438.0 C-80.2,440.7 -78.3,443.3 -76.5,446.0 C-74.7,448.7 -72.9,451.3 -71.1,454.0 C-69.3,456.7 -67.5,459.3 -65.7,462.0 C-64.0,464.7 -62.2,467.3 -60.5,470.0 C-58.8,472.7 -57.1,475.3 -55.5,478.0 C-53.8,480.7 -52.2,483.3 -50.5,486.0 C-48.9,488.7 -47.4,491.3 -45.8,494.0 C-44.3,496.7 -42.7,499.3 -41.2,502.0 C-39.8,504.7 -38.3,507.3 -36.9,510.0 C-35.5,512.7 -34.1,515.3 -32.8,518.0 C-31.5,520.7 -30.2,523.3 -29.0,526.0 C-27.7,528.7 -26.5,531.3 -25.4,534.0 C-24.2,536.7 -23.1,539.3 -22.0,542.0 C-21.0,544.7 -20.0,547.3 -19.0,550.0 C-18.1,552.7 -17.2,555.3 -16.3,558.0 C-15.5,560.7 -14.7,563.3 -14.0,566.0 C-13.3,568.7 -12.7,571.3 -12.1,574.0 C-11.5,576.7 -11.0,579.3 -10.6,582.0 C-10.1,584.7 -9.8,587.3 -9.5,590.0 C-9.2,592.7 -9.1,595.3 -8.9,598.0 C-8.8,600.7 -8.8,603.3 -8.9,606.0 C-8.9,608.7 -9.0,611.3 -9.2,614.0 C-9.5,616.7 -9.9,619.3 -10.3,622.0 C-10.7,624.7 -11.3,627.3 -11.7,630.0 C-12.2,632.7 -12.7,635.3 -13.2,638.0 C-13.6,640.7 -14.1,643.3 -14.5,646.0 C-15.0,648.7 -15.5,651.3 -16.0,654.0 C-16.5,656.7 -17.0,659.3 -17.5,662.0 C-18.0,664.7 -18.5,667.3 -19.0,670.0 C-19.5,672.7 -20.1,675.3 -20.6,678.0 C-21.1,680.7 -21.9,684.7 -22.1,686.0"/><path d="M-530.2,-10.0 C-528.7,-8.7 -524.2,-4.7 -521.3,-2.0 C-518.3,0.7 -515.4,3.3 -512.4,6.0 C-509.5,8.7 -506.6,11.3 -503.7,14.0 C-500.8,16.7 -497.9,19.3 -495.0,22.0 C-492.1,24.7 -489.2,27.3 -486.3,30.0 C-483.4,32.7 -480.5,35.3 -477.7,38.0 C-474.8,40.7 -472.0,43.3 -469.1,46.0 C-466.3,48.7 -463.4,51.3 -460.6,54.0 C-457.7,56.7 -454.9,59.3 -452.1,62.0 C-449.3,64.7 -446.5,67.3 -443.7,70.0 C-440.8,72.7 -438.0,75.3 -435.2,78.0 C-432.4,80.7 -429.7,83.3 -426.9,86.0 C-424.1,88.7 -421.3,91.3 -418.5,94.0 C-415.8,96.7 -413.0,99.3 -410.2,102.0 C-407.5,104.7 -404.7,107.3 -402.0,110.0 C-399.2,112.7 -396.5,115.3 -393.7,118.0 C-391.0,120.7 -388.2,123.3 -385.5,126.0 C-382.7,128.7 -380.0,131.3 -377.2,134.0 C-374.5,136.7 -371.7,139.3 -369.0,142.0 C-366.2,144.7 -363.5,147.3 -360.7,150.0 C-357.9,152.7 -355.1,155.3 -352.3,158.0 C-349.5,160.7 -346.7,163.3 -343.9,166.0 C-341.0,168.7 -338.2,171.3 -335.4,174.0 C-332.5,176.7 -329.6,179.3 -326.7,182.0 C-323.9,184.7 -321.0,187.3 -318.1,190.0 C-315.2,192.7 -312.3,195.3 -309.3,198.0 C-306.4,200.7 -303.5,203.3 -300.5,206.0 C-297.6,208.7 -294.7,211.3 -291.8,214.0 C-288.8,216.7 -285.9,219.3 -283.0,222.0 C-280.1,224.7 -277.2,227.3 -274.3,230.0 C-271.4,232.7 -268.5,235.3 -265.7,238.0 C-262.9,240.7 -260.1,243.3 -257.3,246.0 C-254.5,248.7 -251.8,251.3 -249.1,254.0 C-246.3,256.7 -243.6,259.3 -240.9,262.0 C-238.2,264.7 -235.4,267.3 -232.7,270.0 C-230.0,272.7 -227.3,275.3 -224.6,278.0 C-221.9,280.7 -219.2,283.3 -216.6,286.0 C-213.9,288.7 -211.2,291.3 -208.6,294.0 C-206.0,296.7 -203.3,299.3 -200.7,302.0 C-198.1,304.7 -195.5,307.3 -192.9,310.0 C-190.4,312.7 -187.8,315.3 -185.3,318.0 C-182.8,320.7 -180.3,323.3 -177.8,326.0 C-175.3,328.7 -172.8,331.3 -170.4,334.0 C-168.0,336.7 -165.6,339.3 -163.2,342.0 C-160.8,344.7 -158.5,347.3 -156.1,350.0 C-153.8,352.7 -151.5,355.3 -149.2,358.0 C-147.0,360.7 -144.7,363.3 -142.5,366.0 C-140.2,368.7 -138.0,371.3 -135.8,374.0 C-133.6,376.7 -131.5,379.3 -129.3,382.0 C-127.2,384.7 -125.0,387.3 -122.9,390.0 C-120.8,392.7 -118.7,395.3 -116.6,398.0 C-114.6,400.7 -112.5,403.3 -110.5,406.0 C-108.4,408.7 -106.4,411.3 -104.4,414.0 C-102.4,416.7 -100.4,419.3 -98.5,422.0 C-96.5,424.7 -94.6,427.3 -92.6,430.0 C-90.7,432.7 -88.8,435.3 -86.9,438.0 C-85.0,440.7 -83.1,443.3 -81.3,446.0 C-79.4,448.7 -77.6,451.3 -75.7,454.0 C-73.9,456.7 -72.1,459.3 -70.3,462.0 C-68.5,464.7 -66.8,467.3 -65.0,470.0 C-63.3,472.7 -61.6,475.3 -59.9,478.0 C-58.2,480.7 -56.5,483.3 -54.9,486.0 C-53.3,488.7 -51.7,491.3 -50.1,494.0 C-48.5,496.7 -47.0,499.3 -45.5,502.0 C-43.9,504.7 -42.5,507.3 -41.0,510.0 C-39.6,512.7 -38.2,515.3 -36.9,518.0 C-35.5,520.7 -34.2,523.3 -33.0,526.0 C-31.7,528.7 -30.5,531.3 -29.3,534.0 C-28.1,536.7 -27.0,539.3 -25.9,542.0 C-24.8,544.7 -23.8,547.3 -22.8,550.0 C-21.9,552.7 -20.9,555.3 -20.1,558.0 C-19.3,560.7 -18.5,563.3 -17.7,566.0 C-17.0,568.7 -16.4,571.3 -15.8,574.0 C-15.2,576.7 -14.6,579.3 -14.2,582.0 C-13.7,584.7 -13.4,587.3 -13.1,590.0 C-12.8,592.7 -12.6,595.3 -12.5,598.0 C-12.4,600.7 -12.3,603.3 -12.4,606.0 C-12.4,608.7 -12.5,611.3 -12.7,614.0 C-13.0,616.7 -13.4,619.3 -13.8,622.0 C-14.2,624.7 -14.8,627.3 -15.2,630.0 C-15.7,632.7 -16.2,635.3 -16.7,638.0 C-17.1,640.7 -17.6,643.3 -18.0,646.0 C-18.5,648.7 -19.0,651.3 -19.5,654.0 C-20.0,656.7 -20.5,659.3 -21.0,662.0 C-21.5,664.7 -22.0,667.3 -22.5,670.0 C-23.0,672.7 -23.6,675.3 -24.1,678.0 C-24.6,680.7 -25.4,684.7 -25.6,686.0"/><path d="M-542.4,-10.0 C-540.9,-8.7 -536.3,-4.7 -533.3,-2.0 C-530.3,0.7 -527.3,3.3 -524.3,6.0 C-521.3,8.7 -518.4,11.3 -515.4,14.0 C-512.4,16.7 -509.5,19.3 -506.5,22.0 C-503.6,24.7 -500.6,27.3 -497.7,30.0 C-494.7,32.7 -491.8,35.3 -488.9,38.0 C-486.0,40.7 -483.1,43.3 -480.2,46.0 C-477.3,48.7 -474.4,51.3 -471.5,54.0 C-468.6,56.7 -465.7,59.3 -462.9,62.0 C-460.0,64.7 -457.1,67.3 -454.3,70.0 C-451.4,72.7 -448.5,75.3 -445.7,78.0 C-442.8,80.7 -440.0,83.3 -437.2,86.0 C-434.3,88.7 -431.5,91.3 -428.7,94.0 C-425.9,96.7 -423.0,99.3 -420.2,102.0 C-417.4,104.7 -414.6,107.3 -411.8,110.0 C-409.0,112.7 -406.2,115.3 -403.4,118.0 C-400.6,120.7 -397.8,123.3 -395.0,126.0 C-392.2,128.7 -389.4,131.3 -386.6,134.0 C-383.8,136.7 -381.0,139.3 -378.2,142.0 C-375.4,144.7 -372.6,147.3 -369.8,150.0 C-367.0,152.7 -364.1,155.3 -361.3,158.0 C-358.4,160.7 -355.6,163.3 -352.7,166.0 C-349.8,168.7 -346.9,171.3 -344.0,174.0 C-341.1,176.7 -338.2,179.3 -335.3,182.0 C-332.4,184.7 -329.4,187.3 -326.5,190.0 C-323.5,192.7 -320.6,195.3 -317.6,198.0 C-314.6,200.7 -311.7,203.3 -308.7,206.0 C-305.7,208.7 -302.7,211.3 -299.8,214.0 C-296.8,216.7 -293.8,219.3 -290.9,222.0 C-287.9,224.7 -284.9,227.3 -282.0,230.0 C-279.1,232.7 -276.2,235.3 -273.3,238.0 C-270.5,240.7 -267.6,243.3 -264.8,246.0 C-262.0,248.7 -259.2,251.3 -256.4,254.0 C-253.6,256.7 -250.9,259.3 -248.1,262.0 C-245.3,264.7 -242.6,267.3 -239.8,270.0 C-237.1,272.7 -234.3,275.3 -231.6,278.0 C-228.9,280.7 -226.1,283.3 -223.4,286.0 C-220.7,288.7 -218.0,291.3 -215.3,294.0 C-212.7,296.7 -210.0,299.3 -207.3,302.0 C-204.7,304.7 -202.1,307.3 -199.4,310.0 C-196.8,312.7 -194.2,315.3 -191.7,318.0 C-189.1,320.7 -186.6,323.3 -184.1,326.0 C-181.5,328.7 -179.0,331.3 -176.6,334.0 C-174.1,336.7 -171.7,339.3 -169.2,342.0 C-166.8,344.7 -164.5,347.3 -162.1,350.0 C-159.7,352.7 -157.4,355.3 -155.1,358.0 C-152.8,360.7 -150.5,363.3 -148.2,366.0 C-145.9,368.7 -143.7,371.3 -141.5,374.0 C-139.2,376.7 -137.0,379.3 -134.8,382.0 C-132.7,384.7 -130.5,387.3 -128.3,390.0 C-126.2,392.7 -124.1,395.3 -122.0,398.0 C-119.9,400.7 -117.8,403.3 -115.7,406.0 C-113.6,408.7 -111.6,411.3 -109.6,414.0 C-107.5,416.7 -105.5,419.3 -103.5,422.0 C-101.5,424.7 -99.5,427.3 -97.6,430.0 C-95.6,432.7 -93.7,435.3 -91.8,438.0 C-89.8,440.7 -87.9,443.3 -86.0,446.0 C-84.2,448.7 -82.3,451.3 -80.4,454.0 C-78.6,456.7 -76.7,459.3 -74.9,462.0 C-73.1,464.7 -71.3,467.3 -69.6,470.0 C-67.8,472.7 -66.0,475.3 -64.3,478.0 C-62.6,480.7 -60.9,483.3 -59.3,486.0 C-57.6,488.7 -56.0,491.3 -54.4,494.0 C-52.8,496.7 -51.2,499.3 -49.7,502.0 C-48.1,504.7 -46.6,507.3 -45.2,510.0 C-43.7,512.7 -42.3,515.3 -40.9,518.0 C-39.6,520.7 -38.3,523.3 -37.0,526.0 C-35.7,528.7 -34.4,531.3 -33.2,534.0 C-32.0,536.7 -30.9,539.3 -29.8,542.0 C-28.7,544.7 -27.6,547.3 -26.7,550.0 C-25.7,552.7 -24.7,555.3 -23.9,558.0 C-23.0,560.7 -22.2,563.3 -21.5,566.0 C-20.7,568.7 -20.1,571.3 -19.4,574.0 C-18.8,576.7 -18.3,579.3 -17.8,582.0 C-17.4,584.7 -17.0,587.3 -16.7,590.0 C-16.4,592.7 -16.2,595.3 -16.1,598.0 C-15.9,600.7 -15.9,603.3 -15.9,606.0 C-15.9,608.7 -16.0,611.3 -16.2,614.0 C-16.5,616.7 -16.9,619.3 -17.3,622.0 C-17.7,624.7 -18.3,627.3 -18.7,630.0 C-19.2,632.7 -19.7,635.3 -20.2,638.0 C-20.6,640.7 -21.1,643.3 -21.5,646.0 C-22.0,648.7 -22.5,651.3 -23.0,654.0 C-23.5,656.7 -24.0,659.3 -24.5,662.0 C-25.0,664.7 -25.5,667.3 -26.0,670.0 C-26.5,672.7 -27.1,675.3 -27.6,678.0 C-28.1,680.7 -28.9,684.7 -29.1,686.0"/><path d="M-554.6,-10.0 C-553.1,-8.7 -548.4,-4.7 -545.4,-2.0 C-542.3,0.7 -539.2,3.3 -536.2,6.0 C-533.2,8.7 -530.1,11.3 -527.1,14.0 C-524.1,16.7 -521.1,19.3 -518.1,22.0 C-515.1,24.7 -512.1,27.3 -509.1,30.0 C-506.1,32.7 -503.1,35.3 -500.1,38.0 C-497.2,40.7 -494.2,43.3 -491.2,46.0 C-488.3,48.7 -485.3,51.3 -482.4,54.0 C-479.5,56.7 -476.5,59.3 -473.6,62.0 C-470.7,64.7 -467.8,67.3 -464.9,70.0 C-461.9,72.7 -459.0,75.3 -456.1,78.0 C-453.2,80.7 -450.4,83.3 -447.5,86.0 C-444.6,88.7 -441.7,91.3 -438.8,94.0 C-436.0,96.7 -433.1,99.3 -430.2,102.0 C-427.4,104.7 -424.5,107.3 -421.6,110.0 C-418.8,112.7 -415.9,115.3 -413.1,118.0 C-410.2,120.7 -407.4,123.3 -404.6,126.0 C-401.7,128.7 -398.9,131.3 -396.0,134.0 C-393.2,136.7 -390.3,139.3 -387.5,142.0 C-384.6,144.7 -381.8,147.3 -378.9,150.0 C-376.0,152.7 -373.1,155.3 -370.2,158.0 C-367.3,160.7 -364.4,163.3 -361.5,166.0 C-358.6,168.7 -355.7,171.3 -352.7,174.0 C-349.8,176.7 -346.8,179.3 -343.8,182.0 C-340.9,184.7 -337.9,187.3 -334.9,190.0 C-331.9,192.7 -328.9,195.3 -325.9,198.0 C-322.9,200.7 -319.8,203.3 -316.8,206.0 C-313.8,208.7 -310.8,211.3 -307.8,214.0 C-304.7,216.7 -301.7,219.3 -298.7,222.0 C-295.7,224.7 -292.7,227.3 -289.8,230.0 C-286.8,232.7 -283.9,235.3 -280.9,238.0 C-278.0,240.7 -275.1,243.3 -272.3,246.0 C-269.4,248.7 -266.6,251.3 -263.8,254.0 C-261.0,256.7 -258.1,259.3 -255.3,262.0 C-252.5,264.7 -249.7,267.3 -246.9,270.0 C-244.1,272.7 -241.4,275.3 -238.6,278.0 C-235.8,280.7 -233.0,283.3 -230.3,286.0 C-227.5,288.7 -224.8,291.3 -222.1,294.0 C-219.4,296.7 -216.7,299.3 -214.0,302.0 C-211.3,304.7 -208.6,307.3 -206.0,310.0 C-203.3,312.7 -200.7,315.3 -198.1,318.0 C-195.5,320.7 -192.9,323.3 -190.3,326.0 C-187.8,328.7 -185.2,331.3 -182.7,334.0 C-180.2,336.7 -177.7,339.3 -175.3,342.0 C-172.8,344.7 -170.4,347.3 -168.0,350.0 C-165.6,352.7 -163.3,355.3 -160.9,358.0 C-158.6,360.7 -156.2,363.3 -153.9,366.0 C-151.6,368.7 -149.3,371.3 -147.1,374.0 C-144.8,376.7 -142.6,379.3 -140.4,382.0 C-138.1,384.7 -135.9,387.3 -133.8,390.0 C-131.6,392.7 -129.4,395.3 -127.3,398.0 C-125.1,400.7 -123.0,403.3 -120.9,406.0 C-118.8,408.7 -116.7,411.3 -114.7,414.0 C-112.6,416.7 -110.6,419.3 -108.6,422.0 C-106.5,424.7 -104.5,427.3 -102.5,430.0 C-100.5,432.7 -98.6,435.3 -96.6,438.0 C-94.7,440.7 -92.7,443.3 -90.8,446.0 C-88.9,448.7 -87.0,451.3 -85.1,454.0 C-83.2,456.7 -81.4,459.3 -79.5,462.0 C-77.7,464.7 -75.9,467.3 -74.1,470.0 C-72.3,472.7 -70.5,475.3 -68.8,478.0 C-67.0,480.7 -65.3,483.3 -63.6,486.0 C-61.9,488.7 -60.3,491.3 -58.6,494.0 C-57.0,496.7 -55.4,499.3 -53.9,502.0 C-52.3,504.7 -50.8,507.3 -49.3,510.0 C-47.8,512.7 -46.4,515.3 -45.0,518.0 C-43.6,520.7 -42.3,523.3 -41.0,526.0 C-39.7,528.7 -38.4,531.3 -37.2,534.0 C-36.0,536.7 -34.8,539.3 -33.7,542.0 C-32.5,544.7 -31.5,547.3 -30.5,550.0 C-29.5,552.7 -28.5,555.3 -27.6,558.0 C-26.8,560.7 -25.9,563.3 -25.2,566.0 C-24.4,568.7 -23.7,571.3 -23.1,574.0 C-22.5,576.7 -21.9,579.3 -21.5,582.0 C-21.0,584.7 -20.6,587.3 -20.3,590.0 C-20.0,592.7 -19.8,595.3 -19.6,598.0 C-19.5,600.7 -19.4,603.3 -19.4,606.0 C-19.5,608.7 -19.5,611.3 -19.8,614.0 C-20.0,616.7 -20.4,619.3 -20.8,622.0 C-21.2,624.7 -21.8,627.3 -22.2,630.0 C-22.7,632.7 -23.2,635.3 -23.7,638.0 C-24.1,640.7 -24.6,643.3 -25.0,646.0 C-25.5,648.7 -26.0,651.3 -26.5,654.0 C-27.0,656.7 -27.5,659.3 -28.0,662.0 C-28.5,664.7 -29.0,667.3 -29.5,670.0 C-30.0,672.7 -30.6,675.3 -31.1,678.0 C-31.6,680.7 -32.4,684.7 -32.6,686.0"/></g></g><path d="M16,583 L54,683 L69,683 C75,650 85,615 85,583 Z" fill="url(#wg)"/><path d="M2,583 L16,583 L54,683 L2,683 Z" fill="url(#lg)"/>
<rect x="0" y="0" width="1200" height="5" fill="#adadad"/>
<rect x="0" y="678" width="1200" height="5" fill="#bdbdbd"/>
<rect x="0" y="0" width="2" height="683" fill="#b0b0b0"/>
<circle cx="111.5" cy="66.1" r="18.0" fill="#b4bba2"/><circle cx="89.1" cy="66.1" r="18.0" fill="#df90be"/><clipPath id="vc89"><circle cx="111.5" cy="66.1" r="18.0"/></clipPath><circle cx="89.1" cy="66.1" r="18.0" fill="#b96b8a" clip-path="url(#vc89)"/>
<circle cx="1161.2" cy="611.4" r="18.0" fill="#b4bba2"/><circle cx="1138.3" cy="611.4" r="18.0" fill="#df90be"/><clipPath id="vc1138"><circle cx="1161.2" cy="611.4" r="18.0"/></clipPath><circle cx="1138.3" cy="611.4" r="18.0" fill="#b96b8a" clip-path="url(#vc1138)"/>
<rect x="267.0" y="224.5" width="312.0" height="47.0" fill="#738b5c"/>
<rect x="579.0" y="224.5" width="552.5" height="47.0" fill="#a50006"/>
<rect x="1131.5" y="224.5" width="53.5" height="47.0" fill="#ada29d"/>
<rect x="267.0" y="282.8" width="272.0" height="47.0" fill="#738b5c"/>
<rect x="539.0" y="282.8" width="586.5" height="47.0" fill="#a50006"/>
<rect x="1125.5" y="282.8" width="59.5" height="47.0" fill="#ada29d"/>
<rect x="267.0" y="341.1" width="256.8" height="47.0" fill="#738b5c"/>
<rect x="523.8" y="341.1" width="578.2" height="47.0" fill="#a50006"/>
<rect x="1102.0" y="341.1" width="83.0" height="47.0" fill="#ada29d"/>
<rect x="267.0" y="399.4" width="251.8" height="47.0" fill="#738b5c"/>
<rect x="518.8" y="399.4" width="648.2" height="47.0" fill="#a50006"/>
<rect x="1167.0" y="399.4" width="18.0" height="47.0" fill="#ada29d"/>
<rect x="267.0" y="457.7" width="225.5" height="47.0" fill="#738b5c"/>
<rect x="492.5" y="457.7" width="630.7" height="47.0" fill="#a50006"/>
<rect x="1123.2" y="457.7" width="61.8" height="47.0" fill="#ada29d"/>
<rect x="267.0" y="516.0" width="155.0" height="47.0" fill="#738b5c"/>
<rect x="422.0" y="516.0" width="714.0" height="47.0" fill="#a50006"/>
<rect x="1136.0" y="516.0" width="49.0" height="47.0" fill="#ada29d"/>
<rect x="265.2" y="219" width="1.6" height="350" fill="#404040"/>
<rect x="257" y="247.3" width="9" height="1.4" fill="#404040"/>
<rect x="257" y="305.6" width="9" height="1.4" fill="#404040"/>
<rect x="257" y="363.9" width="9" height="1.4" fill="#404040"/>
<rect x="257" y="422.2" width="9" height="1.4" fill="#404040"/>
<rect x="257" y="480.5" width="9" height="1.4" fill="#404040"/>
<rect x="257" y="538.8" width="9" height="1.4" fill="#404040"/>
<rect x="561.2" y="589.8" width="14.2" height="12.6" fill="#738b5c"/>
<rect x="666.8" y="589.8" width="14.2" height="12.6" fill="#a50006"/>
<rect x="789.6" y="589.8" width="14.2" height="12.6" fill="#ada29d"/>
<g fill="none" stroke="#72204c" stroke-linecap="butt">
<path d="M1095.50,42.25 A21.67,21.67 0 0 0 1124.00,48.25" stroke-width="2.3"/>
<path d="M1095.75,51.75 A27.97,27.97 0 0 0 1132.25,45.75" stroke-width="2.6"/>
<path d="M1100.75,61.25 A38.84,38.84 0 0 0 1141.50,39.00" stroke-width="3.1"/>
</g>
<g font-family="Liberation Sans, sans-serif">
<text x="140.00" y="71.00" font-size="17.39" textLength="64.81" lengthAdjust="spacingAndGlyphs" fill="#7a2b62" stroke="#7a2b62" stroke-width="0.30">Encuesta</text><text x="210.30" y="71.00" font-size="17.39" textLength="28.64" lengthAdjust="spacingAndGlyphs" fill="#7a2b62" stroke="#7a2b62" stroke-width="0.30">PBA</text><text x="245.20" y="71.00" font-size="17.39" textLength="4.47" lengthAdjust="spacingAndGlyphs" fill="#7a2b62" stroke="#7a2b62" stroke-width="0.30">-</text><text x="255.40" y="71.00" font-size="17.39" textLength="44.47" lengthAdjust="spacingAndGlyphs" fill="#7a2b62" stroke="#7a2b62" stroke-width="0.30">Marzo</text><text x="307.00" y="71.00" font-size="17.39" textLength="34.10" lengthAdjust="spacingAndGlyphs" fill="#7a2b62" stroke="#7a2b62" stroke-width="0.30">2023</text>
<text x="102.00" y="122.00" font-size="29.42" textLength="160.53" lengthAdjust="spacingAndGlyphs" fill="#7e1857" stroke="#7e1857" stroke-width="0.40">Credibilidad</text><text x="269.50" y="122.00" font-size="29.42" textLength="113.05" lengthAdjust="spacingAndGlyphs" fill="#7e1857" stroke="#7e1857" stroke-width="0.40">políticos</text><text x="394.50" y="122.00" font-size="29.42" textLength="140.94" lengthAdjust="spacingAndGlyphs" fill="#7e1857" stroke="#7e1857" stroke-width="0.40">nacionales</text><text x="545.90" y="122.00" font-size="29.42" textLength="7.85" lengthAdjust="spacingAndGlyphs" fill="#7e1857" stroke="#7e1857" stroke-width="0.40">-</text><text x="565.20" y="122.00" font-size="29.42" textLength="140.37" lengthAdjust="spacingAndGlyphs" fill="#7e1857" stroke="#7e1857" stroke-width="0.40">Evaluación</text>
<text x="102.30" y="153.50" font-size="18.57" textLength="60.67" lengthAdjust="spacingAndGlyphs" fill="#595959" stroke="#595959" stroke-width="0.30">Cuando</text><text x="169.40" y="153.50" font-size="18.57" textLength="52.12" lengthAdjust="spacingAndGlyphs" fill="#595959" stroke="#595959" stroke-width="0.30">...........</text><text x="228.20" y="153.50" font-size="18.57" textLength="31.59" lengthAdjust="spacingAndGlyphs" fill="#595959" stroke="#595959" stroke-width="0.30">dice</text><text x="266.50" y="153.50" font-size="18.57" textLength="34.48" lengthAdjust="spacingAndGlyphs" fill="#595959" stroke="#595959" stroke-width="0.30">algo,</text><text x="309.00" y="153.50" font-size="18.57" textLength="53.04" lengthAdjust="spacingAndGlyphs" fill="#595959" stroke="#595959" stroke-width="0.30">¿usted</text><text x="368.00" y="153.50" font-size="18.57" textLength="12.97" lengthAdjust="spacingAndGlyphs" fill="#595959" stroke="#595959" stroke-width="0.30">le</text><text x="387.00" y="153.50" font-size="18.57" textLength="35.01" lengthAdjust="spacingAndGlyphs" fill="#595959" stroke="#595959" stroke-width="0.30">cree</text><text x="428.00" y="153.50" font-size="18.57" textLength="9.02" lengthAdjust="spacingAndGlyphs" fill="#595959" stroke="#595959" stroke-width="0.30">o</text><text x="443.00" y="153.50" font-size="18.57" textLength="18.04" lengthAdjust="spacingAndGlyphs" fill="#595959" stroke="#595959" stroke-width="0.30">no</text><text x="468.00" y="153.50" font-size="18.57" textLength="12.97" lengthAdjust="spacingAndGlyphs" fill="#595959" stroke="#595959" stroke-width="0.30">le</text><text x="487.00" y="153.50" font-size="18.57" textLength="42.53" lengthAdjust="spacingAndGlyphs" fill="#595959" stroke="#595959" stroke-width="0.30">cree?</text>
<text x="1067.38" y="90.70" font-size="20.87" fill="#72204c" stroke="#72204c" stroke-width="0.95">I</text><text x="1074.75" y="90.70" font-size="20.87" textLength="8.53" lengthAdjust="spacingAndGlyphs" fill="#72204c" stroke="#72204c" stroke-width="0.95">S</text><text x="1086.25" y="90.70" font-size="20.87" textLength="12.71" lengthAdjust="spacingAndGlyphs" fill="#72204c" stroke="#72204c" stroke-width="0.95">O</text><text x="1102.50" y="90.70" font-size="20.87" textLength="11.53" lengthAdjust="spacingAndGlyphs" fill="#72204c" stroke="#72204c" stroke-width="0.95">N</text><text x="1117.00" y="90.70" font-size="20.87" textLength="12.96" lengthAdjust="spacingAndGlyphs" fill="#72204c" stroke="#72204c" stroke-width="0.95">O</text><text x="1132.25" y="90.70" font-size="20.87" textLength="14.96" lengthAdjust="spacingAndGlyphs" fill="#72204c" stroke="#72204c" stroke-width="0.95">M</text><text x="1149.20" y="90.70" font-size="20.87" fill="#72204c" stroke="#72204c" stroke-width="0.95">Í</text><text x="1155.25" y="90.70" font-size="20.87" textLength="11.95" lengthAdjust="spacingAndGlyphs" fill="#72204c" stroke="#72204c" stroke-width="0.95">A</text>
<text x="75.80" y="254.00" font-size="13.19" textLength="51.21" lengthAdjust="spacingAndGlyphs" fill="#3c3c3c" stroke="#3c3c3c" stroke-width="0.20">Horacio</text><text x="132.30" y="254.00" font-size="13.19" textLength="66.78" lengthAdjust="spacingAndGlyphs" fill="#3c3c3c" stroke="#3c3c3c" stroke-width="0.20">Rodríguez</text><text x="204.40" y="254.00" font-size="13.19" textLength="46.08" lengthAdjust="spacingAndGlyphs" fill="#3c3c3c" stroke="#3c3c3c" stroke-width="0.20">Larreta</text>
<text x="146.40" y="312.30" font-size="13.19" textLength="49.52" lengthAdjust="spacingAndGlyphs" fill="#3c3c3c" stroke="#3c3c3c" stroke-width="0.20">Patricia</text><text x="201.00" y="312.30" font-size="13.19" textLength="49.58" lengthAdjust="spacingAndGlyphs" fill="#3c3c3c" stroke="#3c3c3c" stroke-width="0.20">Bullrich</text>
<text x="174.40" y="370.60" font-size="13.19" textLength="38.56" lengthAdjust="spacingAndGlyphs" fill="#3c3c3c" stroke="#3c3c3c" stroke-width="0.20">Javier</text><text x="218.00" y="370.60" font-size="13.19" textLength="32.61" lengthAdjust="spacingAndGlyphs" fill="#3c3c3c" stroke="#3c3c3c" stroke-width="0.20">Milei</text>
<text x="43.60" y="428.90" font-size="13.19" textLength="50.02" lengthAdjust="spacingAndGlyphs" fill="#3c3c3c" stroke="#3c3c3c" stroke-width="0.20">Cristina</text><text x="98.50" y="428.90" font-size="13.19" textLength="69.81" lengthAdjust="spacingAndGlyphs" fill="#3c3c3c" stroke="#3c3c3c" stroke-width="0.20">Fernández</text><text x="173.10" y="428.90" font-size="13.19" textLength="15.43" lengthAdjust="spacingAndGlyphs" fill="#3c3c3c" stroke="#3c3c3c" stroke-width="0.20">de</text><text x="193.60" y="428.90" font-size="13.19" textLength="56.98" lengthAdjust="spacingAndGlyphs" fill="#3c3c3c" stroke="#3c3c3c" stroke-width="0.20">Kirchner</text>
<text x="116.30" y="487.20" font-size="13.19" textLength="38.34" lengthAdjust="spacingAndGlyphs" fill="#3c3c3c" stroke="#3c3c3c" stroke-width="0.20">María</text><text x="159.50" y="487.20" font-size="13.19" textLength="53.73" lengthAdjust="spacingAndGlyphs" fill="#3c3c3c" stroke="#3c3c3c" stroke-width="0.20">Eugenia</text><text x="218.40" y="487.20" font-size="13.19" textLength="32.21" lengthAdjust="spacingAndGlyphs" fill="#3c3c3c" stroke="#3c3c3c" stroke-width="0.20">Vidal</text>
<text x="148.50" y="545.50" font-size="13.19" textLength="54.89" lengthAdjust="spacingAndGlyphs" fill="#3c3c3c" stroke="#3c3c3c" stroke-width="0.20">Mauricio</text><text x="208.30" y="545.50" font-size="13.19" textLength="42.29" lengthAdjust="spacingAndGlyphs" fill="#3c3c3c" stroke="#3c3c3c" stroke-width="0.20">Macri</text>
<text x="402.38" y="255.00" font-size="14.43" textLength="41.26" lengthAdjust="spacingAndGlyphs" fill="#eef4e8" stroke="#eef4e8" stroke-width="0.35" >34.2%</text>
<text x="840.70" y="255.00" font-size="14.43" textLength="29.12" lengthAdjust="spacingAndGlyphs" fill="#f8eeee" stroke="#f8eeee" stroke-width="0.35" >60%</text>
<text x="1141.66" y="255.00" font-size="14.43" textLength="33.16" lengthAdjust="spacingAndGlyphs" fill="#f4f2f0" stroke="#f4f2f0" stroke-width="0.35" >5.8%</text>
<text x="382.38" y="313.30" font-size="14.43" textLength="41.26" lengthAdjust="spacingAndGlyphs" fill="#eef4e8" stroke="#eef4e8" stroke-width="0.35" >29.8%</text>
<text x="811.62" y="313.30" font-size="14.43" textLength="41.26" lengthAdjust="spacingAndGlyphs" fill="#f8eeee" stroke="#f8eeee" stroke-width="0.35" >63.9%</text>
<text x="1138.66" y="313.30" font-size="14.43" textLength="33.16" lengthAdjust="spacingAndGlyphs" fill="#f4f2f0" stroke="#f4f2f0" stroke-width="0.35" >6.4%</text>
<text x="374.77" y="371.60" font-size="14.43" textLength="41.26" lengthAdjust="spacingAndGlyphs" fill="#eef4e8" stroke="#eef4e8" stroke-width="0.35" >28.2%</text>
<text x="792.27" y="371.60" font-size="14.43" textLength="41.26" lengthAdjust="spacingAndGlyphs" fill="#f8eeee" stroke="#f8eeee" stroke-width="0.35" >62.9%</text>
<text x="1132.99" y="371.60" font-size="14.43" textLength="21.03" lengthAdjust="spacingAndGlyphs" fill="#f4f2f0" stroke="#f4f2f0" stroke-width="0.35" >9%</text>
<text x="372.27" y="429.90" font-size="14.43" textLength="41.26" lengthAdjust="spacingAndGlyphs" fill="#eef4e8" stroke="#eef4e8" stroke-width="0.35" >27.6%</text>
<text x="822.27" y="429.90" font-size="14.43" textLength="41.26" lengthAdjust="spacingAndGlyphs" fill="#f8eeee" stroke="#f8eeee" stroke-width="0.35" >70.6%</text>
<text x="359.12" y="488.20" font-size="14.43" textLength="41.26" lengthAdjust="spacingAndGlyphs" fill="#eef4e8" stroke="#eef4e8" stroke-width="0.35" >24.8%</text>
<text x="787.23" y="488.20" font-size="14.43" textLength="41.26" lengthAdjust="spacingAndGlyphs" fill="#f8eeee" stroke="#f8eeee" stroke-width="0.35" >68.5%</text>
<text x="1137.51" y="488.20" font-size="14.43" textLength="33.16" lengthAdjust="spacingAndGlyphs" fill="#f4f2f0" stroke="#f4f2f0" stroke-width="0.35" >6.7%</text>
<text x="323.88" y="546.50" font-size="14.43" textLength="41.26" lengthAdjust="spacingAndGlyphs" fill="#eef4e8" stroke="#eef4e8" stroke-width="0.35" >17.1%</text>
<text x="758.38" y="546.50" font-size="14.43" textLength="41.26" lengthAdjust="spacingAndGlyphs" fill="#f8eeee" stroke="#f8eeee" stroke-width="0.35" >77.7%</text>
<text x="1143.91" y="546.50" font-size="14.43" textLength="33.16" lengthAdjust="spacingAndGlyphs" fill="#f4f2f0" stroke="#f4f2f0" stroke-width="0.35" >5.2%</text>
<text x="579.20" y="601.20" font-size="11.16" textLength="38.01" lengthAdjust="spacingAndGlyphs" fill="#595959" stroke="#595959" stroke-width="0.20" >Le cree</text>
<text x="685.50" y="601.20" font-size="11.16" textLength="53.47" lengthAdjust="spacingAndGlyphs" fill="#595959" stroke="#595959" stroke-width="0.20" >No le cree</text>
<text x="807.80" y="601.20" font-size="11.16" textLength="31.23" lengthAdjust="spacingAndGlyphs" fill="#595959" stroke="#595959" stroke-width="0.20" >Ns-Nc</text>
<text x="1163.90" y="619.00" font-size="15.43" textLength="6.41" lengthAdjust="spacingAndGlyphs" fill="#7a1a4a" stroke="#7a1a4a" stroke-width="0.25" >9</text>
</g>
</svg>
</body></html>
